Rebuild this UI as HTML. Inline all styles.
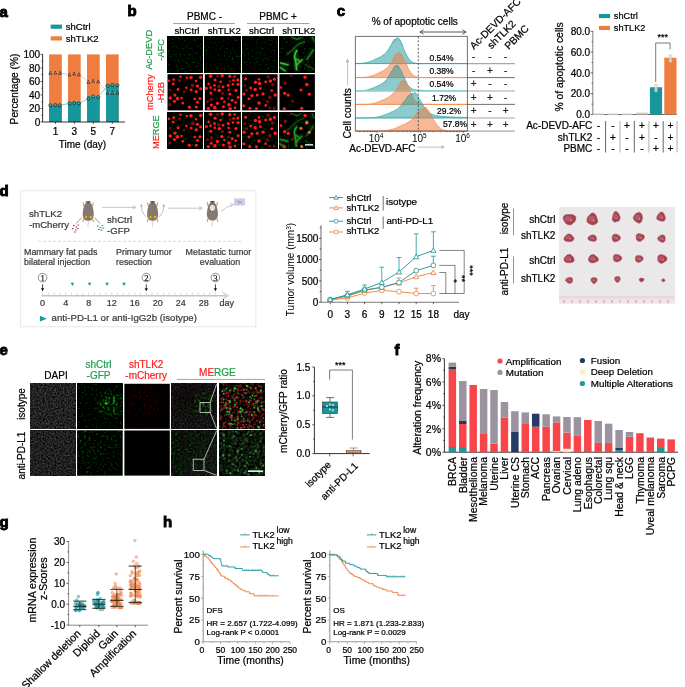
<!DOCTYPE html><html><head><meta charset="utf-8"><title>Figure</title><style>html,body{margin:0;padding:0;background:#fff;width:685px;height:687px;overflow:hidden}svg{display:block;font-family:"Liberation Sans",sans-serif;will-change:transform}</style></head><body><svg width="685" height="687" viewBox="0 0 685 687" font-family="Liberation Sans, sans-serif" font-size="10" fill="#000"><defs><filter id="gsp0" x="0" y="0" width="1" height="1" color-interpolation-filters="sRGB"><feTurbulence type="fractalNoise" baseFrequency="0.5" numOctaves="1" seed="3" result="n"/><feColorMatrix in="n" type="matrix" values="0 0 0 0 0  1.0 0 0 0 -0.56  0 0 0 0 0  0 0 0 0 1" result="sp"/></filter><filter id="gsp1" x="0" y="0" width="1" height="1" color-interpolation-filters="sRGB"><feTurbulence type="fractalNoise" baseFrequency="0.5" numOctaves="1" seed="4" result="n"/><feColorMatrix in="n" type="matrix" values="0 0 0 0 0  1.0 0 0 0 -0.56  0 0 0 0 0  0 0 0 0 1" result="sp"/></filter><filter id="gsp2" x="0" y="0" width="1" height="1" color-interpolation-filters="sRGB"><feTurbulence type="fractalNoise" baseFrequency="0.5" numOctaves="1" seed="5" result="n"/><feColorMatrix in="n" type="matrix" values="0 0 0 0 0  1.0 0 0 0 -0.56  0 0 0 0 0  0 0 0 0 1" result="sp"/></filter><filter id="gsp3" x="0" y="0" width="1" height="1" color-interpolation-filters="sRGB"><feTurbulence type="fractalNoise" baseFrequency="0.5" numOctaves="1" seed="6" result="n"/><feColorMatrix in="n" type="matrix" values="0 0 0 0 0  1.0 0 0 0 -0.56  0 0 0 0 0  0 0 0 0 1" result="sp"/></filter><filter id="gfib" x="0" y="0" width="1" height="1" color-interpolation-filters="sRGB"><feTurbulence type="turbulence" baseFrequency="0.09" numOctaves="2" seed="9" result="n"/><feColorMatrix in="n" type="matrix" values="0 0 0 0 0  0 0 0 0 0  0 0 0 0 0  -9 0 0 0 1.5" result="sp"/></filter><filter id="dapi" x="0" y="0" width="1" height="1" color-interpolation-filters="sRGB"><feTurbulence type="fractalNoise" baseFrequency="0.6" numOctaves="2" seed="4" result="n"/><feColorMatrix in="n" type="matrix" values="0.45 0 0 0 -0.09000000000000001  0.45 0 0 0 -0.09000000000000001  0.45 0 0 0 -0.09000000000000001  0 0 0 0 1" result="sp"/><feGaussianBlur in="sp" stdDeviation="0.35" result="sp"/></filter><filter id="dapi2" x="0" y="0" width="1" height="1" color-interpolation-filters="sRGB"><feTurbulence type="fractalNoise" baseFrequency="0.6" numOctaves="2" seed="5" result="n"/><feColorMatrix in="n" type="matrix" values="0.42 0 0 0 -0.084  0.42 0 0 0 -0.084  0.42 0 0 0 -0.084  0 0 0 0 1" result="sp"/><feGaussianBlur in="sp" stdDeviation="0.35" result="sp"/></filter><filter id="gfaint" x="0" y="0" width="1" height="1" color-interpolation-filters="sRGB"><feTurbulence type="fractalNoise" baseFrequency="0.5" numOctaves="1" seed="12" result="n"/><feColorMatrix in="n" type="matrix" values="0 0 0 0 0  1.4 0 0 0 -0.84  0 0 0 0 0  0 0 0 0 1" result="sp"/></filter><filter id="gclu" x="0" y="0" width="1" height="1" color-interpolation-filters="sRGB"><feTurbulence type="fractalNoise" baseFrequency="0.38" numOctaves="1" seed="13" result="n"/><feColorMatrix in="n" type="matrix" values="0 0 0 0 0  3.2 0 0 0 -1.4720000000000002  0 0 0 0 0  0 0 0 0 1" result="sp"/><feGaussianBlur in="sp" stdDeviation="0.3" result="sp"/></filter><filter id="gdiff" x="0" y="0" width="1" height="1" color-interpolation-filters="sRGB"><feTurbulence type="fractalNoise" baseFrequency="0.45" numOctaves="1" seed="14" result="n"/><feColorMatrix in="n" type="matrix" values="0 0 0 0 0  1.6 0 0 0 -0.8320000000000001  0 0 0 0 0  0 0 0 0 1" result="sp"/><feGaussianBlur in="sp" stdDeviation="0.3" result="sp"/></filter><filter id="rclu" x="0" y="0" width="1" height="1" color-interpolation-filters="sRGB"><feTurbulence type="fractalNoise" baseFrequency="0.5" numOctaves="2" seed="21" result="n"/><feColorMatrix in="n" type="matrix" values="2.6 0 0 0 -1.4300000000000002  0 0 0 0 0  0 0 0 0 0  0 0 0 0 1" result="sp"/><feGaussianBlur in="sp" stdDeviation="0.3" result="sp"/></filter><filter id="mgray" x="0" y="0" width="1" height="1" color-interpolation-filters="sRGB"><feTurbulence type="fractalNoise" baseFrequency="0.6" numOctaves="2" seed="31" result="n"/><feColorMatrix in="n" type="matrix" values="0.3 0 0 0 -0.072  0.3 0 0 0 -0.072  0.3 0 0 0 -0.072  0 0 0 0 1" result="sp"/><feGaussianBlur in="sp" stdDeviation="0.35" result="sp"/></filter><filter id="mgray2" x="0" y="0" width="1" height="1" color-interpolation-filters="sRGB"><feTurbulence type="fractalNoise" baseFrequency="0.6" numOctaves="2" seed="32" result="n"/><feColorMatrix in="n" type="matrix" values="0.3 0 0 0 -0.06  0.38 0 0 0 -0.07600000000000001  0.3 0 0 0 -0.06  0 0 0 0 1" result="sp"/><feGaussianBlur in="sp" stdDeviation="0.35" result="sp"/></filter><filter id="zm0" x="0" y="0" width="1" height="1" color-interpolation-filters="sRGB"><feTurbulence type="fractalNoise" baseFrequency="0.35" numOctaves="2" seed="41" result="n"/><feColorMatrix in="n" type="matrix" values="1.5 0 0 0 -0.66  0.25 0 0 0 -0.0875  0.25 0 0 0 -0.0875  0 0 0 0 1" result="sp"/><feGaussianBlur in="sp" stdDeviation="0.35" result="sp"/></filter><filter id="zm1" x="0" y="0" width="1" height="1" color-interpolation-filters="sRGB"><feTurbulence type="fractalNoise" baseFrequency="0.35" numOctaves="2" seed="42" result="n"/><feColorMatrix in="n" type="matrix" values="0.3 0 0 0 -0.108  0.5 0 0 0 -0.16  0.3 0 0 0 -0.108  0 0 0 0 1" result="sp"/><feGaussianBlur in="sp" stdDeviation="0.4" result="sp"/></filter><radialGradient id="rg_mk_g0" cx="0.72" cy="0.45" r="0.38"><stop offset="0" stop-color="#fff" stop-opacity="1"/><stop offset="1" stop-color="#fff" stop-opacity="0"/></radialGradient><mask id="mk_g0" maskContentUnits="objectBoundingBox"><rect width="1" height="1" fill="url(#rg_mk_g0)"/></mask><radialGradient id="rg_mk_g0m" cx="0.72" cy="0.45" r="0.38"><stop offset="0" stop-color="#fff" stop-opacity="1"/><stop offset="1" stop-color="#fff" stop-opacity="0"/></radialGradient><mask id="mk_g0m" maskContentUnits="objectBoundingBox"><rect width="1" height="1" fill="url(#rg_mk_g0m)"/></mask><radialGradient id="rg_mk_r0" cx="0.45" cy="0.4" r="0.6"><stop offset="0" stop-color="#fff" stop-opacity="0.9"/><stop offset="1" stop-color="#fff" stop-opacity="0.1"/></radialGradient><mask id="mk_r0" maskContentUnits="objectBoundingBox"><rect width="1" height="1" fill="url(#rg_mk_r0)"/></mask><radialGradient id="rg_mk_r0m" cx="0.35" cy="0.3" r="0.55"><stop offset="0" stop-color="#fff" stop-opacity="0.9"/><stop offset="1" stop-color="#fff" stop-opacity="0"/></radialGradient><mask id="mk_r0m" maskContentUnits="objectBoundingBox"><rect width="1" height="1" fill="url(#rg_mk_r0m)"/></mask><linearGradient id="lg_mk_g1" x1="0" y1="0.3" x2="1" y2="0.9"><stop offset="0" stop-color="#fff" stop-opacity="0.9"/><stop offset="1" stop-color="#fff" stop-opacity="0.35"/></linearGradient><mask id="mk_g1" maskContentUnits="objectBoundingBox"><rect width="1" height="1" fill="url(#lg_mk_g1)"/></mask><linearGradient id="lg_mk_g1m" x1="0" y1="0.3" x2="1" y2="0.8"><stop offset="0" stop-color="#fff" stop-opacity="0.9"/><stop offset="1" stop-color="#fff" stop-opacity="0.2"/></linearGradient><mask id="mk_g1m" maskContentUnits="objectBoundingBox"><rect width="1" height="1" fill="url(#lg_mk_g1m)"/></mask><filter id="fblur" x="-20%" y="-20%" width="140%" height="140%"><feGaussianBlur stdDeviation="0.55"/></filter><filter id="fblur2" x="-30%" y="-30%" width="160%" height="160%"><feGaussianBlur stdDeviation="1.2"/></filter><clipPath id="clipfib36"><rect x="279.4" y="36" width="35.5" height="36.2"/></clipPath><clipPath id="clipfib112"><rect x="279.1" y="112.4" width="35.5" height="36.2"/></clipPath></defs><rect width="685" height="687" fill="#fff"/><text x="-0.6" y="16.7" font-weight="bold" font-size="15" stroke="#000" stroke-width="0.9">a</text>
<rect x="50.7" y="24.6" width="11.3" height="4.2" fill="#17979b"/>
<text x="65.8" y="29.9" stroke="#000" stroke-width="0.22" font-size="9.5">shCtrl</text>
<rect x="50.7" y="36.3" width="11.3" height="4.2" fill="#ee7d3f"/>
<text x="65.8" y="41.8" stroke="#000" stroke-width="0.22" font-size="9.5">shTLK2</text>
<rect x="49.1" y="54.4" width="12.7" height="67.6" fill="#ee7d3f"/>
<rect x="49.1" y="104.7" width="12.7" height="17.3" fill="#17979b"/>
<rect x="68" y="54.4" width="12.7" height="67.6" fill="#ee7d3f"/>
<rect x="68" y="102.1" width="12.7" height="19.9" fill="#17979b"/>
<rect x="87" y="54.4" width="12.7" height="67.6" fill="#ee7d3f"/>
<rect x="87" y="96.3" width="12.7" height="25.7" fill="#17979b"/>
<rect x="106" y="54.4" width="12.7" height="67.6" fill="#ee7d3f"/>
<rect x="106" y="84.6" width="12.7" height="37.4" fill="#17979b"/>
<path d="M50.3 72.9 L55.3 72.6 L60 72.9 L69.5 74.6 L74.2 73.6 L78.9 74.4 L88.4 81.9 L93.1 80.8 L98.2 81.4 L107.5 92.8 L112.5 92.8 L117.4 92.8" fill="none" stroke="#f6b08e" stroke-width="0.7"/>
<path d="M50.3 105.3 L55.3 105.1 L59.8 105.3 L69.5 103.5 L74.2 103 L78.9 103.5 L88.4 98.6 L93.1 96.5 L98.2 97.1 L107.5 85.8 L112.5 84.9 L117.4 85.4" fill="none" stroke="#4dbdbd" stroke-width="0.7"/>
<path d="M48.8 74.3 L50.3 71.3 L51.8 74.3 Z" fill="none" stroke="#1a1a1a" stroke-width="0.6"/>
<path d="M53.8 74 L55.3 71 L56.8 74 Z" fill="none" stroke="#1a1a1a" stroke-width="0.6"/>
<path d="M58.5 74.3 L60 71.3 L61.5 74.3 Z" fill="none" stroke="#1a1a1a" stroke-width="0.6"/>
<path d="M68 76 L69.5 73 L71 76 Z" fill="none" stroke="#1a1a1a" stroke-width="0.6"/>
<path d="M72.7 75 L74.2 72 L75.7 75 Z" fill="none" stroke="#1a1a1a" stroke-width="0.6"/>
<path d="M77.4 75.8 L78.9 72.8 L80.4 75.8 Z" fill="none" stroke="#1a1a1a" stroke-width="0.6"/>
<path d="M86.9 83.3 L88.4 80.3 L89.9 83.3 Z" fill="none" stroke="#1a1a1a" stroke-width="0.6"/>
<path d="M91.6 82.2 L93.1 79.2 L94.6 82.2 Z" fill="none" stroke="#1a1a1a" stroke-width="0.6"/>
<path d="M96.7 82.8 L98.2 79.8 L99.7 82.8 Z" fill="none" stroke="#1a1a1a" stroke-width="0.6"/>
<path d="M106 94.2 L107.5 91.2 L109 94.2 Z" fill="none" stroke="#1a1a1a" stroke-width="0.6"/>
<path d="M111 94.2 L112.5 91.2 L114 94.2 Z" fill="none" stroke="#1a1a1a" stroke-width="0.6"/>
<path d="M115.9 94.2 L117.4 91.2 L118.9 94.2 Z" fill="none" stroke="#1a1a1a" stroke-width="0.6"/>
<circle cx="50.3" cy="105.3" r="1.6" fill="none" stroke="#1a1a1a" stroke-width="0.6"/>
<circle cx="55.3" cy="105.1" r="1.6" fill="none" stroke="#1a1a1a" stroke-width="0.6"/>
<circle cx="59.8" cy="105.3" r="1.6" fill="none" stroke="#1a1a1a" stroke-width="0.6"/>
<circle cx="69.5" cy="103.5" r="1.6" fill="none" stroke="#1a1a1a" stroke-width="0.6"/>
<circle cx="74.2" cy="103" r="1.6" fill="none" stroke="#1a1a1a" stroke-width="0.6"/>
<circle cx="78.9" cy="103.5" r="1.6" fill="none" stroke="#1a1a1a" stroke-width="0.6"/>
<circle cx="88.4" cy="98.6" r="1.6" fill="none" stroke="#1a1a1a" stroke-width="0.6"/>
<circle cx="93.1" cy="96.5" r="1.6" fill="none" stroke="#1a1a1a" stroke-width="0.6"/>
<circle cx="98.2" cy="97.1" r="1.6" fill="none" stroke="#1a1a1a" stroke-width="0.6"/>
<circle cx="107.5" cy="85.8" r="1.6" fill="none" stroke="#1a1a1a" stroke-width="0.6"/>
<circle cx="112.5" cy="84.9" r="1.6" fill="none" stroke="#1a1a1a" stroke-width="0.6"/>
<circle cx="117.4" cy="85.4" r="1.6" fill="none" stroke="#1a1a1a" stroke-width="0.6"/>
<line x1="42.6" y1="54.1" x2="42.6" y2="122" stroke="#000" stroke-width="0.8"/>
<line x1="42.6" y1="122" x2="125" y2="122" stroke="#000" stroke-width="0.8"/>
<line x1="40.4" y1="122" x2="42.6" y2="122" stroke="#000" stroke-width="0.6"/>
<text x="40.2" y="125.6" text-anchor="end" stroke="#000" stroke-width="0.22">0</text>
<line x1="41.3" y1="115.24" x2="42.6" y2="115.24" stroke="#000" stroke-width="0.6"/>
<line x1="40.4" y1="108.48" x2="42.6" y2="108.48" stroke="#000" stroke-width="0.6"/>
<text x="40.2" y="112.08" text-anchor="end" stroke="#000" stroke-width="0.22">20</text>
<line x1="41.3" y1="101.72" x2="42.6" y2="101.72" stroke="#000" stroke-width="0.6"/>
<line x1="40.4" y1="94.96" x2="42.6" y2="94.96" stroke="#000" stroke-width="0.6"/>
<text x="40.2" y="98.56" text-anchor="end" stroke="#000" stroke-width="0.22">40</text>
<line x1="41.3" y1="88.2" x2="42.6" y2="88.2" stroke="#000" stroke-width="0.6"/>
<line x1="40.4" y1="81.44" x2="42.6" y2="81.44" stroke="#000" stroke-width="0.6"/>
<text x="40.2" y="85.04" text-anchor="end" stroke="#000" stroke-width="0.22">60</text>
<line x1="41.3" y1="74.68" x2="42.6" y2="74.68" stroke="#000" stroke-width="0.6"/>
<line x1="40.4" y1="67.92" x2="42.6" y2="67.92" stroke="#000" stroke-width="0.6"/>
<text x="40.2" y="71.52" text-anchor="end" stroke="#000" stroke-width="0.22">80</text>
<line x1="41.3" y1="61.16" x2="42.6" y2="61.16" stroke="#000" stroke-width="0.6"/>
<line x1="40.4" y1="54.4" x2="42.6" y2="54.4" stroke="#000" stroke-width="0.6"/>
<text x="40.2" y="58" text-anchor="end" stroke="#000" stroke-width="0.22">100</text>
<line x1="55.45" y1="122" x2="55.45" y2="124" stroke="#000" stroke-width="0.6"/>
<text x="55.45" y="135.2" text-anchor="middle" stroke="#000" stroke-width="0.22">1</text>
<line x1="74.35" y1="122" x2="74.35" y2="124" stroke="#000" stroke-width="0.6"/>
<text x="74.35" y="135.2" text-anchor="middle" stroke="#000" stroke-width="0.22">3</text>
<line x1="93.35" y1="122" x2="93.35" y2="124" stroke="#000" stroke-width="0.6"/>
<text x="93.35" y="135.2" text-anchor="middle" stroke="#000" stroke-width="0.22">5</text>
<line x1="112.35" y1="122" x2="112.35" y2="124" stroke="#000" stroke-width="0.6"/>
<text x="112.35" y="135.2" text-anchor="middle" stroke="#000" stroke-width="0.22">7</text>
<text x="82.5" y="148" text-anchor="middle" stroke="#000" stroke-width="0.22">Time (day)</text>
<text x="17.9" y="89" text-anchor="middle" stroke="#000" stroke-width="0.22" font-size="10.2" transform="rotate(-90 17.9 89)">Percentage (%)</text>
<text x="127.6" y="16.3" font-weight="bold" font-size="15" stroke="#000" stroke-width="0.9">b</text>
<text x="204.5" y="20.2" text-anchor="middle" stroke="#000" stroke-width="0.22">PBMC -</text>
<line x1="173" y1="23.5" x2="235" y2="23.5" stroke="#8c8c8c" stroke-width="0.8"/>
<text x="278" y="20.2" text-anchor="middle" stroke="#000" stroke-width="0.22">PBMC +</text>
<line x1="247" y1="23.5" x2="309.5" y2="23.5" stroke="#8c8c8c" stroke-width="0.8"/>
<text x="186.95" y="33.9" text-anchor="middle" stroke="#000" stroke-width="0.22" font-size="9.6">shCtrl</text>
<text x="224.25" y="33.9" text-anchor="middle" stroke="#000" stroke-width="0.22" font-size="9.6">shTLK2</text>
<text x="261.55" y="33.9" text-anchor="middle" stroke="#000" stroke-width="0.22" font-size="9.6">shCtrl</text>
<text x="298.85" y="33.9" text-anchor="middle" stroke="#000" stroke-width="0.22" font-size="9.6">shTLK2</text>
<text x="152.3" y="49.7" text-anchor="middle" fill="#1e9e4e" stroke="#1e9e4e" stroke-width="0.22" font-size="9.3" transform="rotate(-90 152.3 49.7)">Ac-DEVD</text>
<text x="164.2" y="49.8" text-anchor="middle" fill="#1e9e4e" stroke="#1e9e4e" stroke-width="0.22" font-size="9.3" transform="rotate(-90 164.2 49.8)">-AFC</text>
<text x="153.4" y="92.2" text-anchor="middle" fill="#ff2020" stroke="#ff2020" stroke-width="0.22" font-size="9.3" transform="rotate(-90 153.4 92.2)">mCherry</text>
<text x="164" y="92.7" text-anchor="middle" fill="#ff2020" stroke="#ff2020" stroke-width="0.22" font-size="9.3" transform="rotate(-90 164 92.7)">-H2B</text>
<text x="158.8" y="132.1" text-anchor="middle" font-size="9.2" transform="rotate(-90 158.8 132.1)"><tspan fill="#ff2020" stroke="#ff2020" stroke-width="0.22">ME</tspan><tspan fill="#1e9e4e" stroke="#1e9e4e" stroke-width="0.22">RGE</tspan></text>
<rect x="167.5" y="36" width="35.5" height="36.2" fill="#000"/>
<rect x="167.5" y="36" width="35.5" height="36.2" fill="#000" filter="url(#gsp0)"/>
<rect x="167.5" y="74.2" width="35.5" height="36.2" fill="#000"/>
<circle cx="179.52" cy="80.71" r="1.64" fill="#7a0c0c"/>
<circle cx="186.42" cy="87.84" r="1.28" fill="#ff1c1c"/>
<circle cx="170.22" cy="90.1" r="1.29" fill="#7a0c0c"/>
<circle cx="182.8" cy="103.15" r="1.32" fill="#ff1c1c"/>
<circle cx="189.39" cy="107.16" r="1.6" fill="#ff1c1c"/>
<circle cx="200.73" cy="77.25" r="1.77" fill="#ff1c1c"/>
<circle cx="173.69" cy="79.61" r="1.44" fill="#ff1c1c"/>
<circle cx="174.87" cy="95.01" r="1.63" fill="#ff1c1c"/>
<circle cx="186.8" cy="77.78" r="1.29" fill="#ff1c1c"/>
<circle cx="191.11" cy="89.9" r="1.44" fill="#ff1c1c"/>
<circle cx="194.82" cy="98.91" r="1.4" fill="#ff1c1c"/>
<circle cx="192.71" cy="85.26" r="1.84" fill="#7a0c0c"/>
<circle cx="170.27" cy="97.88" r="1.71" fill="#ff1c1c"/>
<circle cx="197.45" cy="86.12" r="1.67" fill="#ff1c1c"/>
<circle cx="196.3" cy="107.06" r="1.53" fill="#ff1c1c"/>
<circle cx="181.54" cy="97.9" r="1.26" fill="#ff1c1c"/>
<circle cx="173.2" cy="83.92" r="1.48" fill="#ff1c1c"/>
<circle cx="178.05" cy="89.49" r="1.47" fill="#ff1c1c"/>
<circle cx="199.98" cy="98.62" r="1.56" fill="#ff1c1c"/>
<circle cx="190.98" cy="77.49" r="1.79" fill="#ff1c1c"/>
<circle cx="197.42" cy="102.19" r="1.49" fill="#ff1c1c"/>
<circle cx="169.01" cy="80.72" r="1.31" fill="#ff1c1c"/>
<circle cx="169.83" cy="104.73" r="1.62" fill="#7a0c0c"/>
<circle cx="184.14" cy="91.76" r="1.3" fill="#7a0c0c"/>
<circle cx="195.94" cy="81.06" r="1.26" fill="#ff1c1c"/>
<circle cx="174.43" cy="101.33" r="1.57" fill="#ff1c1c"/>
<circle cx="180.56" cy="76.66" r="1.27" fill="#ff1c1c"/>
<circle cx="177.42" cy="98.69" r="1.82" fill="#ff1c1c"/>
<circle cx="196.31" cy="91.62" r="1.64" fill="#ff1c1c"/>
<circle cx="200.58" cy="88.84" r="1.49" fill="#ff1c1c"/>
<rect x="167.5" y="112.4" width="35.5" height="36.2" fill="#000"/>
<rect x="167.5" y="112.4" width="35.5" height="36.2" fill="#000" filter="url(#gsp0)"/>
<circle cx="179.52" cy="118.91" r="1.64" fill="#7a0c0c"/>
<circle cx="186.42" cy="126.04" r="1.28" fill="#ff1c1c"/>
<circle cx="170.22" cy="128.3" r="1.29" fill="#7a0c0c"/>
<circle cx="182.8" cy="141.35" r="1.32" fill="#ff1c1c"/>
<circle cx="189.39" cy="145.36" r="1.6" fill="#ff1c1c"/>
<circle cx="200.73" cy="115.45" r="1.77" fill="#ff1c1c"/>
<circle cx="173.69" cy="117.81" r="1.44" fill="#ff1c1c"/>
<circle cx="174.87" cy="133.21" r="1.63" fill="#ff1c1c"/>
<circle cx="186.8" cy="115.98" r="1.29" fill="#ff1c1c"/>
<circle cx="191.11" cy="128.1" r="1.44" fill="#ff1c1c"/>
<circle cx="194.82" cy="137.11" r="1.4" fill="#ff1c1c"/>
<circle cx="192.71" cy="123.46" r="1.84" fill="#7a0c0c"/>
<circle cx="170.27" cy="136.08" r="1.71" fill="#ff1c1c"/>
<circle cx="197.45" cy="124.32" r="1.67" fill="#ff1c1c"/>
<circle cx="196.3" cy="145.26" r="1.53" fill="#ff1c1c"/>
<circle cx="181.54" cy="136.1" r="1.26" fill="#ff1c1c"/>
<circle cx="173.2" cy="122.12" r="1.48" fill="#ff1c1c"/>
<circle cx="178.05" cy="127.69" r="1.47" fill="#ff1c1c"/>
<circle cx="199.98" cy="136.82" r="1.56" fill="#ff1c1c"/>
<circle cx="190.98" cy="115.69" r="1.79" fill="#ff1c1c"/>
<circle cx="197.42" cy="140.39" r="1.49" fill="#ff1c1c"/>
<circle cx="169.01" cy="118.92" r="1.31" fill="#ff1c1c"/>
<circle cx="169.83" cy="142.93" r="1.62" fill="#7a0c0c"/>
<circle cx="184.14" cy="129.96" r="1.3" fill="#7a0c0c"/>
<circle cx="195.94" cy="119.26" r="1.26" fill="#ff1c1c"/>
<circle cx="174.43" cy="139.53" r="1.57" fill="#ff1c1c"/>
<circle cx="180.56" cy="114.86" r="1.27" fill="#ff1c1c"/>
<circle cx="177.42" cy="136.89" r="1.82" fill="#ff1c1c"/>
<circle cx="196.31" cy="129.82" r="1.64" fill="#ff1c1c"/>
<circle cx="200.58" cy="127.04" r="1.49" fill="#ff1c1c"/>
<rect x="204.8" y="36" width="35.5" height="36.2" fill="#000"/>
<rect x="204.8" y="36" width="35.5" height="36.2" fill="#000" filter="url(#gsp1)"/>
<rect x="204.8" y="74.2" width="35.5" height="36.2" fill="#000"/>
<circle cx="229.86" cy="81.34" r="1.33" fill="#7a0c0c"/>
<circle cx="235.71" cy="102.48" r="1.34" fill="#ff1c1c"/>
<circle cx="238.16" cy="97.52" r="1.46" fill="#ff1c1c"/>
<circle cx="210.56" cy="76.17" r="1.83" fill="#ff1c1c"/>
<circle cx="223.41" cy="106.7" r="1.51" fill="#ff1c1c"/>
<circle cx="214.48" cy="85.43" r="1.39" fill="#ff1c1c"/>
<circle cx="214.73" cy="89.61" r="1.33" fill="#ff1c1c"/>
<circle cx="222.6" cy="93.36" r="1.56" fill="#7a0c0c"/>
<circle cx="220.6" cy="81.78" r="1.25" fill="#ff1c1c"/>
<circle cx="229.87" cy="94.17" r="1.45" fill="#ff1c1c"/>
<circle cx="224.35" cy="101.74" r="1.31" fill="#ff1c1c"/>
<circle cx="235.96" cy="90.42" r="1.62" fill="#ff1c1c"/>
<circle cx="229.02" cy="104.8" r="1.82" fill="#ff1c1c"/>
<circle cx="233.6" cy="80.25" r="1.32" fill="#ff1c1c"/>
<circle cx="208.66" cy="83.69" r="1.29" fill="#ff1c1c"/>
<circle cx="211.32" cy="99.48" r="1.65" fill="#7a0c0c"/>
<circle cx="234.99" cy="107.82" r="1.38" fill="#ff1c1c"/>
<circle cx="223.06" cy="86.96" r="1.37" fill="#ff1c1c"/>
<circle cx="229.77" cy="76.35" r="1.58" fill="#ff1c1c"/>
<circle cx="208.39" cy="108.4" r="1.72" fill="#ff1c1c"/>
<circle cx="207.59" cy="101.56" r="1.41" fill="#7a0c0c"/>
<circle cx="232.92" cy="84.29" r="1.34" fill="#ff1c1c"/>
<circle cx="228.67" cy="89.82" r="1.29" fill="#ff1c1c"/>
<circle cx="215.01" cy="79.99" r="1.57" fill="#ff1c1c"/>
<circle cx="217.58" cy="76.3" r="1.4" fill="#7a0c0c"/>
<circle cx="217.44" cy="103.33" r="1.67" fill="#ff1c1c"/>
<circle cx="214.86" cy="107.63" r="1.83" fill="#ff1c1c"/>
<circle cx="206.33" cy="88.37" r="1.53" fill="#ff1c1c"/>
<circle cx="218.96" cy="86.53" r="1.84" fill="#7a0c0c"/>
<circle cx="210.83" cy="93.09" r="1.55" fill="#ff1c1c"/>
<circle cx="228.49" cy="98.72" r="1.39" fill="#7a0c0c"/>
<circle cx="210.63" cy="87.68" r="1.31" fill="#ff1c1c"/>
<circle cx="222.2" cy="75.81" r="1.73" fill="#ff1c1c"/>
<circle cx="221.87" cy="98.4" r="1.71" fill="#ff1c1c"/>
<circle cx="228.26" cy="85.36" r="1.56" fill="#ff1c1c"/>
<circle cx="238.03" cy="84.34" r="1.64" fill="#ff1c1c"/>
<circle cx="237.75" cy="79.88" r="1.55" fill="#ff1c1c"/>
<circle cx="219.29" cy="90.5" r="1.82" fill="#ff1c1c"/>
<circle cx="234.67" cy="76.42" r="1.27" fill="#ff1c1c"/>
<circle cx="232.2" cy="100.24" r="1.55" fill="#ff1c1c"/>
<circle cx="230.11" cy="108.82" r="1.81" fill="#ff1c1c"/>
<circle cx="211.28" cy="105.05" r="1.6" fill="#ff1c1c"/>
<rect x="204.8" y="112.4" width="35.5" height="36.2" fill="#000"/>
<rect x="204.8" y="112.4" width="35.5" height="36.2" fill="#000" filter="url(#gsp1)"/>
<circle cx="229.86" cy="119.54" r="1.33" fill="#7a0c0c"/>
<circle cx="235.71" cy="140.68" r="1.34" fill="#ff1c1c"/>
<circle cx="238.16" cy="135.72" r="1.46" fill="#ff1c1c"/>
<circle cx="210.56" cy="114.37" r="1.83" fill="#ff1c1c"/>
<circle cx="223.41" cy="144.9" r="1.51" fill="#ff1c1c"/>
<circle cx="214.48" cy="123.63" r="1.39" fill="#ff1c1c"/>
<circle cx="214.73" cy="127.81" r="1.33" fill="#ff1c1c"/>
<circle cx="222.6" cy="131.56" r="1.56" fill="#7a0c0c"/>
<circle cx="220.6" cy="119.98" r="1.25" fill="#ff1c1c"/>
<circle cx="229.87" cy="132.37" r="1.45" fill="#ff1c1c"/>
<circle cx="224.35" cy="139.94" r="1.31" fill="#ff1c1c"/>
<circle cx="235.96" cy="128.62" r="1.62" fill="#ff1c1c"/>
<circle cx="229.02" cy="143" r="1.82" fill="#ff1c1c"/>
<circle cx="233.6" cy="118.45" r="1.32" fill="#ff1c1c"/>
<circle cx="208.66" cy="121.89" r="1.29" fill="#ff1c1c"/>
<circle cx="211.32" cy="137.68" r="1.65" fill="#7a0c0c"/>
<circle cx="234.99" cy="146.02" r="1.38" fill="#ff1c1c"/>
<circle cx="223.06" cy="125.16" r="1.37" fill="#ff1c1c"/>
<circle cx="229.77" cy="114.55" r="1.58" fill="#ff1c1c"/>
<circle cx="208.39" cy="146.6" r="1.72" fill="#ff1c1c"/>
<circle cx="207.59" cy="139.76" r="1.41" fill="#7a0c0c"/>
<circle cx="232.92" cy="122.49" r="1.34" fill="#ff1c1c"/>
<circle cx="228.67" cy="128.02" r="1.29" fill="#ff1c1c"/>
<circle cx="215.01" cy="118.19" r="1.57" fill="#ff1c1c"/>
<circle cx="217.58" cy="114.5" r="1.4" fill="#7a0c0c"/>
<circle cx="217.44" cy="141.53" r="1.67" fill="#ff1c1c"/>
<circle cx="214.86" cy="145.83" r="1.83" fill="#ff1c1c"/>
<circle cx="206.33" cy="126.57" r="1.53" fill="#ff1c1c"/>
<circle cx="218.96" cy="124.73" r="1.84" fill="#7a0c0c"/>
<circle cx="210.83" cy="131.29" r="1.55" fill="#ff1c1c"/>
<circle cx="228.49" cy="136.92" r="1.39" fill="#7a0c0c"/>
<circle cx="210.63" cy="125.88" r="1.31" fill="#ff1c1c"/>
<circle cx="222.2" cy="114.01" r="1.73" fill="#ff1c1c"/>
<circle cx="221.87" cy="136.6" r="1.71" fill="#ff1c1c"/>
<circle cx="228.26" cy="123.56" r="1.56" fill="#ff1c1c"/>
<circle cx="238.03" cy="122.54" r="1.64" fill="#ff1c1c"/>
<circle cx="237.75" cy="118.08" r="1.55" fill="#ff1c1c"/>
<circle cx="219.29" cy="128.7" r="1.82" fill="#ff1c1c"/>
<circle cx="234.67" cy="114.62" r="1.27" fill="#ff1c1c"/>
<circle cx="232.2" cy="138.44" r="1.55" fill="#ff1c1c"/>
<circle cx="230.11" cy="147.02" r="1.81" fill="#ff1c1c"/>
<circle cx="211.28" cy="143.25" r="1.6" fill="#ff1c1c"/>
<rect x="242.1" y="36" width="35.5" height="36.2" fill="#000"/>
<rect x="242.1" y="36" width="35.5" height="36.2" fill="#000" filter="url(#gsp2)"/>
<rect x="242.1" y="74.2" width="35.5" height="36.2" fill="#000"/>
<circle cx="256.47" cy="108.65" r="1.55" fill="#ff1c1c"/>
<circle cx="269.87" cy="97.39" r="1.84" fill="#7a0c0c"/>
<circle cx="259.03" cy="102.89" r="1.75" fill="#ff1c1c"/>
<circle cx="244.91" cy="85.45" r="1.32" fill="#7a0c0c"/>
<circle cx="275.22" cy="95.06" r="1.81" fill="#ff1c1c"/>
<circle cx="271.75" cy="90.61" r="1.41" fill="#ff1c1c"/>
<circle cx="274.34" cy="79.21" r="1.61" fill="#ff1c1c"/>
<circle cx="250.67" cy="87.94" r="1.33" fill="#ff1c1c"/>
<circle cx="251.88" cy="95.6" r="1.64" fill="#ff1c1c"/>
<circle cx="265.65" cy="81.85" r="1.44" fill="#ff1c1c"/>
<circle cx="245.66" cy="79.07" r="1.49" fill="#ff1c1c"/>
<circle cx="248.92" cy="98.79" r="1.5" fill="#ff1c1c"/>
<circle cx="255.21" cy="89.53" r="1.77" fill="#ff1c1c"/>
<circle cx="255.42" cy="82.25" r="1.69" fill="#ff1c1c"/>
<circle cx="243.79" cy="105.63" r="1.5" fill="#ff1c1c"/>
<circle cx="244.08" cy="94.01" r="1.63" fill="#ff1c1c"/>
<circle cx="269.76" cy="107.8" r="1.37" fill="#7a0c0c"/>
<circle cx="274.25" cy="108.09" r="1.54" fill="#7a0c0c"/>
<circle cx="270.4" cy="81.02" r="1.72" fill="#ff1c1c"/>
<circle cx="260.43" cy="88.43" r="1.32" fill="#ff1c1c"/>
<circle cx="268.22" cy="76.97" r="1.75" fill="#7a0c0c"/>
<circle cx="263.08" cy="93.96" r="1.63" fill="#ff1c1c"/>
<circle cx="257.25" cy="95.04" r="1.51" fill="#ff1c1c"/>
<circle cx="259.51" cy="83.51" r="1.71" fill="#ff1c1c"/>
<circle cx="258.98" cy="79.25" r="1.33" fill="#ff1c1c"/>
<circle cx="246.58" cy="90.37" r="1.56" fill="#7a0c0c"/>
<circle cx="267.44" cy="101.52" r="1.56" fill="#7a0c0c"/>
<circle cx="249.9" cy="108.29" r="1.55" fill="#ff1c1c"/>
<circle cx="272.74" cy="84.83" r="1.74" fill="#7a0c0c"/>
<circle cx="265.69" cy="105.43" r="1.35" fill="#ff1c1c"/>
<rect x="242.1" y="112.4" width="35.5" height="36.2" fill="#000"/>
<rect x="242.1" y="112.4" width="35.5" height="36.2" fill="#000" filter="url(#gsp2)"/>
<circle cx="256.47" cy="146.85" r="1.55" fill="#ff1c1c"/>
<circle cx="269.87" cy="135.59" r="1.84" fill="#7a0c0c"/>
<circle cx="259.03" cy="141.09" r="1.75" fill="#ff1c1c"/>
<circle cx="244.91" cy="123.65" r="1.32" fill="#7a0c0c"/>
<circle cx="275.22" cy="133.26" r="1.81" fill="#ff1c1c"/>
<circle cx="271.75" cy="128.81" r="1.41" fill="#ff1c1c"/>
<circle cx="274.34" cy="117.41" r="1.61" fill="#ff1c1c"/>
<circle cx="250.67" cy="126.14" r="1.33" fill="#ff1c1c"/>
<circle cx="251.88" cy="133.8" r="1.64" fill="#ff1c1c"/>
<circle cx="265.65" cy="120.05" r="1.44" fill="#ff1c1c"/>
<circle cx="245.66" cy="117.27" r="1.49" fill="#ff1c1c"/>
<circle cx="248.92" cy="136.99" r="1.5" fill="#ff1c1c"/>
<circle cx="255.21" cy="127.73" r="1.77" fill="#ff1c1c"/>
<circle cx="255.42" cy="120.45" r="1.69" fill="#ff1c1c"/>
<circle cx="243.79" cy="143.83" r="1.5" fill="#ff1c1c"/>
<circle cx="244.08" cy="132.21" r="1.63" fill="#ff1c1c"/>
<circle cx="269.76" cy="146" r="1.37" fill="#7a0c0c"/>
<circle cx="274.25" cy="146.29" r="1.54" fill="#7a0c0c"/>
<circle cx="270.4" cy="119.22" r="1.72" fill="#ff1c1c"/>
<circle cx="260.43" cy="126.63" r="1.32" fill="#ff1c1c"/>
<circle cx="268.22" cy="115.17" r="1.75" fill="#7a0c0c"/>
<circle cx="263.08" cy="132.16" r="1.63" fill="#ff1c1c"/>
<circle cx="257.25" cy="133.24" r="1.51" fill="#ff1c1c"/>
<circle cx="259.51" cy="121.71" r="1.71" fill="#ff1c1c"/>
<circle cx="258.98" cy="117.45" r="1.33" fill="#ff1c1c"/>
<circle cx="246.58" cy="128.57" r="1.56" fill="#7a0c0c"/>
<circle cx="267.44" cy="139.72" r="1.56" fill="#7a0c0c"/>
<circle cx="249.9" cy="146.49" r="1.55" fill="#ff1c1c"/>
<circle cx="272.74" cy="123.03" r="1.74" fill="#7a0c0c"/>
<circle cx="265.69" cy="143.63" r="1.35" fill="#ff1c1c"/>
<rect x="279.4" y="36" width="35.5" height="36.2" fill="#000"/>
<rect x="279.4" y="36" width="35.5" height="36.2" fill="#000" filter="url(#gsp3)"/>
<g clip-path="url(#clipfib36)" opacity="1.0"><g filter="url(#fblur)">
<path d="M296.48 69.6 L296.2 64.47 L295.35 59.35 L294.49 56.5 L295.35 53.08 L297.05 50.52" stroke="#33cc33" stroke-width="3.9" fill="none" stroke-linecap="round" stroke-linejoin="round" opacity="0.35" filter="url(#fblur2)"/>
<path d="M296.48 69.6 L296.2 64.47 L295.35 59.35 L294.49 56.5 L295.35 53.08 L297.05 50.52" stroke="#33cc33" stroke-width="1.5" fill="none" stroke-linecap="round" stroke-linejoin="round"/>
<path d="M296.48 65.61 L299.33 62.2 L302.18 59.92" stroke="#2cb82c" stroke-width="3.64" fill="none" stroke-linecap="round" stroke-linejoin="round" opacity="0.35" filter="url(#fblur2)"/>
<path d="M296.48 65.61 L299.33 62.2 L302.18 59.92" stroke="#2cb82c" stroke-width="1.4" fill="none" stroke-linecap="round" stroke-linejoin="round"/>
<path d="M280.54 63.05 L283.96 63.9 L287.94 65.04" stroke="#2cb82c" stroke-width="4.42" fill="none" stroke-linecap="round" stroke-linejoin="round" opacity="0.35" filter="url(#fblur2)"/>
<path d="M280.54 63.05 L283.96 63.9 L287.94 65.04" stroke="#2cb82c" stroke-width="1.7" fill="none" stroke-linecap="round" stroke-linejoin="round"/>
<path d="M279.97 67.32 L282.25 69.03 L285.09 70.74" stroke="#28a828" stroke-width="4.16" fill="none" stroke-linecap="round" stroke-linejoin="round" opacity="0.35" filter="url(#fblur2)"/>
<path d="M279.97 67.32 L282.25 69.03 L285.09 70.74" stroke="#28a828" stroke-width="1.6" fill="none" stroke-linecap="round" stroke-linejoin="round"/>
<path d="M287.37 54.22 L291.36 50.81 L297.05 45.11 L304.46 41.69" stroke="#1b7a1b" stroke-width="2.6" fill="none" stroke-linecap="round" stroke-linejoin="round" opacity="0.35" filter="url(#fblur2)"/>
<path d="M287.37 54.22 L291.36 50.81 L297.05 45.11 L304.46 41.69" stroke="#1b7a1b" stroke-width="1.0" fill="none" stroke-linecap="round" stroke-linejoin="round"/>
<path d="M306.73 59.35 L310.15 54.79 L313.57 49.67" stroke="#1f8a1f" stroke-width="3.12" fill="none" stroke-linecap="round" stroke-linejoin="round" opacity="0.35" filter="url(#fblur2)"/>
<path d="M306.73 59.35 L310.15 54.79 L313.57 49.67" stroke="#1f8a1f" stroke-width="1.2" fill="none" stroke-linecap="round" stroke-linejoin="round"/>
<path d="M291.93 37.14 L297.05 39.42 L301.04 37.71" stroke="#1a801a" stroke-width="2.86" fill="none" stroke-linecap="round" stroke-linejoin="round" opacity="0.35" filter="url(#fblur2)"/>
<path d="M291.93 37.14 L297.05 39.42 L301.04 37.71" stroke="#1a801a" stroke-width="1.1" fill="none" stroke-linecap="round" stroke-linejoin="round"/>
<path d="M312.43 37.14 L314.14 41.13" stroke="#1a801a" stroke-width="3.12" fill="none" stroke-linecap="round" stroke-linejoin="round" opacity="0.35" filter="url(#fblur2)"/>
<path d="M312.43 37.14 L314.14 41.13" stroke="#1a801a" stroke-width="1.2" fill="none" stroke-linecap="round" stroke-linejoin="round"/>
<path d="M305.03 64.47 L310.15 67.32 L314.14 69.6" stroke="#145f14" stroke-width="2.6" fill="none" stroke-linecap="round" stroke-linejoin="round" opacity="0.35" filter="url(#fblur2)"/>
<path d="M305.03 64.47 L310.15 67.32 L314.14 69.6" stroke="#145f14" stroke-width="1.0" fill="none" stroke-linecap="round" stroke-linejoin="round"/>
<path d="M295.35 58.78 L298.19 59.92 L299.9 61.63" stroke="#2cb82c" stroke-width="3.12" fill="none" stroke-linecap="round" stroke-linejoin="round" opacity="0.35" filter="url(#fblur2)"/>
<path d="M295.35 58.78 L298.19 59.92 L299.9 61.63" stroke="#2cb82c" stroke-width="1.2" fill="none" stroke-linecap="round" stroke-linejoin="round"/>
</g></g>
<rect x="279.4" y="74.2" width="35.5" height="36.2" fill="#000"/>
<circle cx="284.64" cy="93.32" r="1.63" fill="#ff1c1c"/>
<circle cx="309.27" cy="94.13" r="1.6" fill="#ff1c1c"/>
<circle cx="284.3" cy="108.67" r="1.63" fill="#ff1c1c"/>
<circle cx="306.82" cy="84.49" r="1.84" fill="#ff1c1c"/>
<circle cx="292.61" cy="101.09" r="1.52" fill="#7a0c0c"/>
<circle cx="305.07" cy="77.3" r="1.74" fill="#ff1c1c"/>
<circle cx="301.68" cy="108.37" r="1.6" fill="#ff1c1c"/>
<circle cx="291.06" cy="75.76" r="1.27" fill="#7a0c0c"/>
<circle cx="300.92" cy="90.05" r="1.56" fill="#ff1c1c"/>
<circle cx="285.19" cy="83.25" r="1.64" fill="#7a0c0c"/>
<circle cx="280.99" cy="87.48" r="1.31" fill="#ff1c1c"/>
<circle cx="288.19" cy="95.08" r="1.6" fill="#ff1c1c"/>
<rect x="279.4" y="112.4" width="35.5" height="36.2" fill="#000"/>
<rect x="279.4" y="112.4" width="35.5" height="36.2" fill="#000" filter="url(#gsp3)"/>
<g clip-path="url(#clipfib112)" opacity="0.75"><g filter="url(#fblur)">
<path d="M296.18 146 L295.9 140.87 L295.05 135.75 L294.19 132.9 L295.05 129.48 L296.75 126.92" stroke="#33cc33" stroke-width="3.9" fill="none" stroke-linecap="round" stroke-linejoin="round" opacity="0.35" filter="url(#fblur2)"/>
<path d="M296.18 146 L295.9 140.87 L295.05 135.75 L294.19 132.9 L295.05 129.48 L296.75 126.92" stroke="#33cc33" stroke-width="1.5" fill="none" stroke-linecap="round" stroke-linejoin="round"/>
<path d="M296.18 142.01 L299.03 138.6 L301.88 136.32" stroke="#2cb82c" stroke-width="3.64" fill="none" stroke-linecap="round" stroke-linejoin="round" opacity="0.35" filter="url(#fblur2)"/>
<path d="M296.18 142.01 L299.03 138.6 L301.88 136.32" stroke="#2cb82c" stroke-width="1.4" fill="none" stroke-linecap="round" stroke-linejoin="round"/>
<path d="M280.24 139.45 L283.66 140.3 L287.64 141.44" stroke="#2cb82c" stroke-width="4.42" fill="none" stroke-linecap="round" stroke-linejoin="round" opacity="0.35" filter="url(#fblur2)"/>
<path d="M280.24 139.45 L283.66 140.3 L287.64 141.44" stroke="#2cb82c" stroke-width="1.7" fill="none" stroke-linecap="round" stroke-linejoin="round"/>
<path d="M279.67 143.72 L281.95 145.43 L284.79 147.14" stroke="#28a828" stroke-width="4.16" fill="none" stroke-linecap="round" stroke-linejoin="round" opacity="0.35" filter="url(#fblur2)"/>
<path d="M279.67 143.72 L281.95 145.43 L284.79 147.14" stroke="#28a828" stroke-width="1.6" fill="none" stroke-linecap="round" stroke-linejoin="round"/>
<path d="M287.07 130.62 L291.06 127.21 L296.75 121.51 L304.16 118.09" stroke="#1b7a1b" stroke-width="2.6" fill="none" stroke-linecap="round" stroke-linejoin="round" opacity="0.35" filter="url(#fblur2)"/>
<path d="M287.07 130.62 L291.06 127.21 L296.75 121.51 L304.16 118.09" stroke="#1b7a1b" stroke-width="1.0" fill="none" stroke-linecap="round" stroke-linejoin="round"/>
<path d="M306.43 135.75 L309.85 131.19 L313.27 126.07" stroke="#1f8a1f" stroke-width="3.12" fill="none" stroke-linecap="round" stroke-linejoin="round" opacity="0.35" filter="url(#fblur2)"/>
<path d="M306.43 135.75 L309.85 131.19 L313.27 126.07" stroke="#1f8a1f" stroke-width="1.2" fill="none" stroke-linecap="round" stroke-linejoin="round"/>
<path d="M291.63 113.54 L296.75 115.82 L300.74 114.11" stroke="#1a801a" stroke-width="2.86" fill="none" stroke-linecap="round" stroke-linejoin="round" opacity="0.35" filter="url(#fblur2)"/>
<path d="M291.63 113.54 L296.75 115.82 L300.74 114.11" stroke="#1a801a" stroke-width="1.1" fill="none" stroke-linecap="round" stroke-linejoin="round"/>
<path d="M312.13 113.54 L313.84 117.53" stroke="#1a801a" stroke-width="3.12" fill="none" stroke-linecap="round" stroke-linejoin="round" opacity="0.35" filter="url(#fblur2)"/>
<path d="M312.13 113.54 L313.84 117.53" stroke="#1a801a" stroke-width="1.2" fill="none" stroke-linecap="round" stroke-linejoin="round"/>
<path d="M304.73 140.87 L309.85 143.72 L313.84 146" stroke="#145f14" stroke-width="2.6" fill="none" stroke-linecap="round" stroke-linejoin="round" opacity="0.35" filter="url(#fblur2)"/>
<path d="M304.73 140.87 L309.85 143.72 L313.84 146" stroke="#145f14" stroke-width="1.0" fill="none" stroke-linecap="round" stroke-linejoin="round"/>
<path d="M295.05 135.18 L297.89 136.32 L299.6 138.03" stroke="#2cb82c" stroke-width="3.12" fill="none" stroke-linecap="round" stroke-linejoin="round" opacity="0.35" filter="url(#fblur2)"/>
<path d="M295.05 135.18 L297.89 136.32 L299.6 138.03" stroke="#2cb82c" stroke-width="1.2" fill="none" stroke-linecap="round" stroke-linejoin="round"/>
</g></g>
<circle cx="284.64" cy="131.52" r="1.63" fill="#ff1c1c"/>
<circle cx="309.27" cy="132.33" r="1.6" fill="#e07020"/>
<circle cx="284.3" cy="146.87" r="1.63" fill="#ff1c1c"/>
<circle cx="306.82" cy="122.69" r="1.84" fill="#e07020"/>
<circle cx="292.61" cy="139.29" r="1.52" fill="#7a0c0c"/>
<circle cx="305.07" cy="115.5" r="1.74" fill="#ff1c1c"/>
<circle cx="301.68" cy="146.57" r="1.6" fill="#e07020"/>
<circle cx="291.06" cy="113.96" r="1.27" fill="#7a0c0c"/>
<circle cx="300.92" cy="128.25" r="1.56" fill="#e07020"/>
<circle cx="285.19" cy="121.45" r="1.64" fill="#7a0c0c"/>
<circle cx="280.99" cy="125.68" r="1.31" fill="#ff1c1c"/>
<circle cx="288.19" cy="133.28" r="1.6" fill="#ff1c1c"/>
<rect x="305" y="144.2" width="8" height="1.3" fill="#fff"/>
<text x="336.8" y="16.3" font-weight="bold" font-size="15" stroke="#000" stroke-width="0.9">c</text>
<text x="414.8" y="25.2" text-anchor="middle" stroke="#000" stroke-width="0.22">% of apoptotic cells</text>
<line x1="421" y1="32" x2="465" y2="32" stroke="#3a2a2a" stroke-width="0.8"/>
<path d="M423.5 29.8 L419.8 32 L423.5 34.2" fill="none" stroke="#3a2a2a" stroke-width="0.8"/>
<path d="M462.5 29.8 L466.2 32 L462.5 34.2" fill="none" stroke="#3a2a2a" stroke-width="0.8"/>
<path d="M355.4 63.55 L356 63.54 L356.6 63.53 L357.2 63.52 L357.8 63.5 L358.4 63.48 L359 63.46 L359.6 63.43 L360.2 63.4 L360.8 63.35 L361.4 63.32 L362 63.26 L362.6 63.21 L363.2 63.15 L363.8 63.04 L364.4 62.97 L365 62.86 L365.6 62.73 L366.2 62.65 L366.8 62.55 L367.4 62.32 L368 62.18 L368.6 61.99 L369.2 61.81 L369.8 61.54 L370.4 61.44 L371 61.12 L371.6 60.98 L372.2 60.68 L372.8 60.38 L373.4 60.23 L374 60.04 L374.6 59.61 L375.2 59.21 L375.8 58.97 L376.4 58.74 L377 58.34 L377.6 58.28 L378.2 57.99 L378.8 57.61 L379.4 56.99 L380 57.08 L380.6 56.82 L381.2 56.51 L381.8 56.22 L382.4 55.68 L383 55.04 L383.6 54.39 L384.2 54.37 L384.8 53.84 L385.4 53.38 L386 52.76 L386.6 51.56 L387.2 51.1 L387.8 50.69 L388.4 50.08 L389 48.21 L389.6 47.36 L390.2 46.15 L390.8 46.17 L391.4 44.61 L392 42.86 L392.6 42.53 L393.2 40.84 L393.8 41.72 L394.4 39.11 L395 40.66 L395.6 39.31 L396.2 39.95 L396.8 37.83 L397.4 38.14 L398 37.62 L398.6 38.43 L399.2 38.68 L399.8 40.42 L400.4 40.35 L401 41.99 L401.6 44.02 L402.2 44.12 L402.8 46.58 L403.4 48.26 L404 49.81 L404.6 50.66 L405.2 52.35 L405.8 52.88 L406.4 54.18 L407 55.99 L407.6 57.12 L408.2 57.82 L408.8 58.89 L409.4 59.5 L410 60.1 L410.6 60.88 L411.2 61.34 L411.8 61.69 L412.4 62.14 L413 62.45 L413.6 62.65 L414.2 62.86 L414.8 63.03 L415.4 63.17 L416 63.28 L416.6 63.36 L417.2 63.42 L417.8 63.47 L418.4 63.51 L419 63.53 L419.6 63.55 L420.2 63.56 L420.8 63.57 L421.4 63.58 L422 63.59 L422.6 63.59 L423.2 63.59 L423.8 63.6 L424.4 63.6 L425 63.6 L425.6 63.6 L426.2 63.6 L426.8 63.6 L427.4 63.6 L428 63.6 L428.6 63.6 L429.2 63.6 L429.8 63.6 L430.4 63.6 L431 63.6 L431.6 63.6 L432.2 63.6 L432.8 63.6 L433.4 63.6 L434 63.6 L434.6 63.6 L435.2 63.6 L435.8 63.6 L436.4 63.6 L437 63.6 L437.6 63.6 L438.2 63.6 L438.8 63.6 L439.4 63.6 L440 63.6 L440.6 63.6 L441.2 63.6 L441.8 63.6 L442.4 63.6 L443 63.6 L443.6 63.6 L444.2 63.6 L444.8 63.6 L445.4 63.6 L446 63.6 L446.6 63.6 L447.2 63.6 L447.8 63.6 L448.4 63.6 L449 63.6 L449.6 63.6 L450.2 63.6 L450.8 63.6 L451.4 63.6 L452 63.6 L452.6 63.6 L453.2 63.6 L453.8 63.6 L454.4 63.6 L455 63.6 L455.6 63.6 L456.2 63.6 L456.8 63.6 L457.4 63.6 L458 63.6 L458.6 63.6 L459.2 63.6 L459.8 63.6 L460.4 63.6 L461 63.6 L461.6 63.6 L462.2 63.6 L462.8 63.6 L463.4 63.6 L464 63.6 L464.6 63.6 L465.2 63.6 L465.8 63.6 L466.4 63.6 L467 63.6 L467.4 63.6 L355.4 63.6 Z" fill="rgba(23,151,155,0.5)"/>
<path d="M355.4 63.55 L356 63.54 L356.6 63.53 L357.2 63.52 L357.8 63.5 L358.4 63.48 L359 63.46 L359.6 63.43 L360.2 63.4 L360.8 63.35 L361.4 63.32 L362 63.26 L362.6 63.21 L363.2 63.15 L363.8 63.04 L364.4 62.97 L365 62.86 L365.6 62.73 L366.2 62.65 L366.8 62.55 L367.4 62.32 L368 62.18 L368.6 61.99 L369.2 61.81 L369.8 61.54 L370.4 61.44 L371 61.12 L371.6 60.98 L372.2 60.68 L372.8 60.38 L373.4 60.23 L374 60.04 L374.6 59.61 L375.2 59.21 L375.8 58.97 L376.4 58.74 L377 58.34 L377.6 58.28 L378.2 57.99 L378.8 57.61 L379.4 56.99 L380 57.08 L380.6 56.82 L381.2 56.51 L381.8 56.22 L382.4 55.68 L383 55.04 L383.6 54.39 L384.2 54.37 L384.8 53.84 L385.4 53.38 L386 52.76 L386.6 51.56 L387.2 51.1 L387.8 50.69 L388.4 50.08 L389 48.21 L389.6 47.36 L390.2 46.15 L390.8 46.17 L391.4 44.61 L392 42.86 L392.6 42.53 L393.2 40.84 L393.8 41.72 L394.4 39.11 L395 40.66 L395.6 39.31 L396.2 39.95 L396.8 37.83 L397.4 38.14 L398 37.62 L398.6 38.43 L399.2 38.68 L399.8 40.42 L400.4 40.35 L401 41.99 L401.6 44.02 L402.2 44.12 L402.8 46.58 L403.4 48.26 L404 49.81 L404.6 50.66 L405.2 52.35 L405.8 52.88 L406.4 54.18 L407 55.99 L407.6 57.12 L408.2 57.82 L408.8 58.89 L409.4 59.5 L410 60.1 L410.6 60.88 L411.2 61.34 L411.8 61.69 L412.4 62.14 L413 62.45 L413.6 62.65 L414.2 62.86 L414.8 63.03 L415.4 63.17 L416 63.28 L416.6 63.36 L417.2 63.42 L417.8 63.47 L418.4 63.51 L419 63.53 L419.6 63.55 L420.2 63.56 L420.8 63.57 L421.4 63.58 L422 63.59 L422.6 63.59 L423.2 63.59 L423.8 63.6 L424.4 63.6 L425 63.6 L425.6 63.6 L426.2 63.6 L426.8 63.6 L427.4 63.6 L428 63.6 L428.6 63.6 L429.2 63.6 L429.8 63.6 L430.4 63.6 L431 63.6 L431.6 63.6 L432.2 63.6 L432.8 63.6 L433.4 63.6 L434 63.6 L434.6 63.6 L435.2 63.6 L435.8 63.6 L436.4 63.6 L437 63.6 L437.6 63.6 L438.2 63.6 L438.8 63.6 L439.4 63.6 L440 63.6 L440.6 63.6 L441.2 63.6 L441.8 63.6 L442.4 63.6 L443 63.6 L443.6 63.6 L444.2 63.6 L444.8 63.6 L445.4 63.6 L446 63.6 L446.6 63.6 L447.2 63.6 L447.8 63.6 L448.4 63.6 L449 63.6 L449.6 63.6 L450.2 63.6 L450.8 63.6 L451.4 63.6 L452 63.6 L452.6 63.6 L453.2 63.6 L453.8 63.6 L454.4 63.6 L455 63.6 L455.6 63.6 L456.2 63.6 L456.8 63.6 L457.4 63.6 L458 63.6 L458.6 63.6 L459.2 63.6 L459.8 63.6 L460.4 63.6 L461 63.6 L461.6 63.6 L462.2 63.6 L462.8 63.6 L463.4 63.6 L464 63.6 L464.6 63.6 L465.2 63.6 L465.8 63.6 L466.4 63.6 L467 63.6" fill="none" stroke="#17979b" stroke-width="0.6"/>
<line x1="355.4" y1="63.6" x2="467.4" y2="63.6" stroke="#17979b" stroke-width="0.8"/>
<line x1="467.4" y1="63.6" x2="514.9" y2="63.6" stroke="#a8a8a8" stroke-width="1.2"/>
<path d="M355.4 77.58 L356 77.58 L356.6 77.57 L357.2 77.56 L357.8 77.55 L358.4 77.54 L359 77.53 L359.6 77.51 L360.2 77.5 L360.8 77.48 L361.4 77.44 L362 77.41 L362.6 77.39 L363.2 77.36 L363.8 77.3 L364.4 77.26 L365 77.18 L365.6 77.12 L366.2 77.03 L366.8 76.95 L367.4 76.84 L368 76.73 L368.6 76.62 L369.2 76.49 L369.8 76.38 L370.4 76.26 L371 76.1 L371.6 75.79 L372.2 75.72 L372.8 75.47 L373.4 75.29 L374 74.98 L374.6 74.77 L375.2 74.42 L375.8 74.3 L376.4 74.06 L377 73.69 L377.6 73.37 L378.2 73.01 L378.8 73 L379.4 72.43 L380 72.08 L380.6 71.78 L381.2 71.96 L381.8 71.51 L382.4 70.94 L383 70.56 L383.6 70.76 L384.2 70.14 L384.8 69.48 L385.4 69.01 L386 68.72 L386.6 68.5 L387.2 67.75 L387.8 67.5 L388.4 66.56 L389 65.7 L389.6 64.4 L390.2 63.83 L390.8 63.16 L391.4 62.48 L392 61.4 L392.6 59.79 L393.2 59.17 L393.8 58.71 L394.4 56.45 L395 56.04 L395.6 54.34 L396.2 54.56 L396.8 53.75 L397.4 53.74 L398 52.99 L398.6 52.07 L399.2 51.95 L399.8 52.94 L400.4 53.88 L401 55.28 L401.6 54.21 L402.2 56.08 L402.8 57.09 L403.4 58.82 L404 60.01 L404.6 60.61 L405.2 60.98 L405.8 62.71 L406.4 64.11 L407 65.49 L407.6 67.2 L408.2 68.48 L408.8 69.23 L409.4 70.69 L410 71.3 L410.6 72.24 L411.2 73.03 L411.8 73.91 L412.4 74.53 L413 74.95 L413.6 75.49 L414.2 75.8 L414.8 76.19 L415.4 76.43 L416 76.66 L416.6 76.87 L417.2 77.03 L417.8 77.18 L418.4 77.27 L419 77.33 L419.6 77.41 L420.2 77.46 L420.8 77.49 L421.4 77.52 L422 77.54 L422.6 77.56 L423.2 77.57 L423.8 77.58 L424.4 77.58 L425 77.59 L425.6 77.59 L426.2 77.6 L426.8 77.6 L427.4 77.6 L428 77.6 L428.6 77.6 L429.2 77.6 L429.8 77.6 L430.4 77.6 L431 77.6 L431.6 77.6 L432.2 77.6 L432.8 77.6 L433.4 77.6 L434 77.6 L434.6 77.6 L435.2 77.6 L435.8 77.6 L436.4 77.6 L437 77.6 L437.6 77.6 L438.2 77.6 L438.8 77.6 L439.4 77.6 L440 77.6 L440.6 77.6 L441.2 77.6 L441.8 77.6 L442.4 77.6 L443 77.6 L443.6 77.6 L444.2 77.6 L444.8 77.6 L445.4 77.6 L446 77.6 L446.6 77.6 L447.2 77.6 L447.8 77.6 L448.4 77.6 L449 77.6 L449.6 77.6 L450.2 77.6 L450.8 77.6 L451.4 77.6 L452 77.6 L452.6 77.6 L453.2 77.6 L453.8 77.6 L454.4 77.6 L455 77.6 L455.6 77.6 L456.2 77.6 L456.8 77.6 L457.4 77.6 L458 77.6 L458.6 77.6 L459.2 77.6 L459.8 77.6 L460.4 77.6 L461 77.6 L461.6 77.6 L462.2 77.6 L462.8 77.6 L463.4 77.6 L464 77.6 L464.6 77.6 L465.2 77.6 L465.8 77.6 L466.4 77.6 L467 77.6 L467.4 77.6 L355.4 77.6 Z" fill="rgba(238,125,63,0.55)"/>
<path d="M355.4 77.58 L356 77.58 L356.6 77.57 L357.2 77.56 L357.8 77.55 L358.4 77.54 L359 77.53 L359.6 77.51 L360.2 77.5 L360.8 77.48 L361.4 77.44 L362 77.41 L362.6 77.39 L363.2 77.36 L363.8 77.3 L364.4 77.26 L365 77.18 L365.6 77.12 L366.2 77.03 L366.8 76.95 L367.4 76.84 L368 76.73 L368.6 76.62 L369.2 76.49 L369.8 76.38 L370.4 76.26 L371 76.1 L371.6 75.79 L372.2 75.72 L372.8 75.47 L373.4 75.29 L374 74.98 L374.6 74.77 L375.2 74.42 L375.8 74.3 L376.4 74.06 L377 73.69 L377.6 73.37 L378.2 73.01 L378.8 73 L379.4 72.43 L380 72.08 L380.6 71.78 L381.2 71.96 L381.8 71.51 L382.4 70.94 L383 70.56 L383.6 70.76 L384.2 70.14 L384.8 69.48 L385.4 69.01 L386 68.72 L386.6 68.5 L387.2 67.75 L387.8 67.5 L388.4 66.56 L389 65.7 L389.6 64.4 L390.2 63.83 L390.8 63.16 L391.4 62.48 L392 61.4 L392.6 59.79 L393.2 59.17 L393.8 58.71 L394.4 56.45 L395 56.04 L395.6 54.34 L396.2 54.56 L396.8 53.75 L397.4 53.74 L398 52.99 L398.6 52.07 L399.2 51.95 L399.8 52.94 L400.4 53.88 L401 55.28 L401.6 54.21 L402.2 56.08 L402.8 57.09 L403.4 58.82 L404 60.01 L404.6 60.61 L405.2 60.98 L405.8 62.71 L406.4 64.11 L407 65.49 L407.6 67.2 L408.2 68.48 L408.8 69.23 L409.4 70.69 L410 71.3 L410.6 72.24 L411.2 73.03 L411.8 73.91 L412.4 74.53 L413 74.95 L413.6 75.49 L414.2 75.8 L414.8 76.19 L415.4 76.43 L416 76.66 L416.6 76.87 L417.2 77.03 L417.8 77.18 L418.4 77.27 L419 77.33 L419.6 77.41 L420.2 77.46 L420.8 77.49 L421.4 77.52 L422 77.54 L422.6 77.56 L423.2 77.57 L423.8 77.58 L424.4 77.58 L425 77.59 L425.6 77.59 L426.2 77.6 L426.8 77.6 L427.4 77.6 L428 77.6 L428.6 77.6 L429.2 77.6 L429.8 77.6 L430.4 77.6 L431 77.6 L431.6 77.6 L432.2 77.6 L432.8 77.6 L433.4 77.6 L434 77.6 L434.6 77.6 L435.2 77.6 L435.8 77.6 L436.4 77.6 L437 77.6 L437.6 77.6 L438.2 77.6 L438.8 77.6 L439.4 77.6 L440 77.6 L440.6 77.6 L441.2 77.6 L441.8 77.6 L442.4 77.6 L443 77.6 L443.6 77.6 L444.2 77.6 L444.8 77.6 L445.4 77.6 L446 77.6 L446.6 77.6 L447.2 77.6 L447.8 77.6 L448.4 77.6 L449 77.6 L449.6 77.6 L450.2 77.6 L450.8 77.6 L451.4 77.6 L452 77.6 L452.6 77.6 L453.2 77.6 L453.8 77.6 L454.4 77.6 L455 77.6 L455.6 77.6 L456.2 77.6 L456.8 77.6 L457.4 77.6 L458 77.6 L458.6 77.6 L459.2 77.6 L459.8 77.6 L460.4 77.6 L461 77.6 L461.6 77.6 L462.2 77.6 L462.8 77.6 L463.4 77.6 L464 77.6 L464.6 77.6 L465.2 77.6 L465.8 77.6 L466.4 77.6 L467 77.6" fill="none" stroke="#ee7d3f" stroke-width="0.6"/>
<line x1="355.4" y1="77.6" x2="467.4" y2="77.6" stroke="#ee7d3f" stroke-width="0.8"/>
<line x1="467.4" y1="77.6" x2="514.9" y2="77.6" stroke="#333" stroke-width="0.7"/>
<path d="M355.4 90.96 L356 90.95 L356.6 90.94 L357.2 90.92 L357.8 90.9 L358.4 90.88 L359 90.87 L359.6 90.84 L360.2 90.81 L360.8 90.78 L361.4 90.73 L362 90.66 L362.6 90.61 L363.2 90.58 L363.8 90.5 L364.4 90.41 L365 90.29 L365.6 90.21 L366.2 90.13 L366.8 89.97 L367.4 89.87 L368 89.75 L368.6 89.51 L369.2 89.27 L369.8 89.11 L370.4 88.92 L371 88.83 L371.6 88.51 L372.2 88.26 L372.8 87.98 L373.4 87.82 L374 87.7 L374.6 87.12 L375.2 87.1 L375.8 86.64 L376.4 86.48 L377 86.05 L377.6 85.99 L378.2 85.84 L378.8 85.38 L379.4 85.07 L380 84.58 L380.6 84.53 L381.2 84.03 L381.8 83.9 L382.4 83.29 L383 83.33 L383.6 82.34 L384.2 81.8 L384.8 82.12 L385.4 80.74 L386 80.17 L386.6 79.54 L387.2 79.45 L387.8 77.84 L388.4 76.85 L389 76.06 L389.6 74.49 L390.2 73.41 L390.8 72.84 L391.4 71.18 L392 71.63 L392.6 70.32 L393.2 68.87 L393.8 68.02 L394.4 66.26 L395 66.41 L395.6 66.01 L396.2 65.75 L396.8 64.89 L397.4 66.35 L398 65.62 L398.6 66.33 L399.2 67.4 L399.8 68.35 L400.4 69.74 L401 71.15 L401.6 71.72 L402.2 73.12 L402.8 74.88 L403.4 75.64 L404 77.27 L404.6 77.93 L405.2 79.51 L405.8 80.94 L406.4 82 L407 83.57 L407.6 84.65 L408.2 85.23 L408.8 86.21 L409.4 86.57 L410 87.4 L410.6 87.76 L411.2 88.38 L411.8 88.77 L412.4 88.95 L413 89.2 L413.6 89.47 L414.2 89.54 L414.8 89.68 L415.4 89.83 L416 89.89 L416.6 89.97 L417.2 90.11 L417.8 90.1 L418.4 90.15 L419 90.19 L419.6 90.25 L420.2 90.26 L420.8 90.29 L421.4 90.29 L422 90.37 L422.6 90.37 L423.2 90.39 L423.8 90.38 L424.4 90.44 L425 90.46 L425.6 90.47 L426.2 90.49 L426.8 90.48 L427.4 90.48 L428 90.52 L428.6 90.54 L429.2 90.53 L429.8 90.56 L430.4 90.56 L431 90.57 L431.6 90.59 L432.2 90.59 L432.8 90.61 L433.4 90.61 L434 90.63 L434.6 90.63 L435.2 90.65 L435.8 90.68 L436.4 90.68 L437 90.68 L437.6 90.69 L438.2 90.7 L438.8 90.7 L439.4 90.71 L440 90.73 L440.6 90.74 L441.2 90.76 L441.8 90.75 L442.4 90.76 L443 90.76 L443.6 90.77 L444.2 90.78 L444.8 90.79 L445.4 90.79 L446 90.8 L446.6 90.81 L447.2 90.82 L447.8 90.81 L448.4 90.82 L449 90.84 L449.6 90.83 L450.2 90.84 L450.8 90.84 L451.4 90.84 L452 90.86 L452.6 90.86 L453.2 90.87 L453.8 90.86 L454.4 90.87 L455 90.87 L455.6 90.88 L456.2 90.88 L456.8 90.89 L457.4 90.89 L458 90.89 L458.6 90.89 L459.2 90.89 L459.8 90.9 L460.4 90.9 L461 90.91 L461.6 90.91 L462.2 90.91 L462.8 90.92 L463.4 90.92 L464 90.92 L464.6 90.92 L465.2 90.93 L465.8 90.92 L466.4 90.93 L467 90.93 L467.4 91 L355.4 91 Z" fill="rgba(23,151,155,0.5)"/>
<path d="M355.4 90.96 L356 90.95 L356.6 90.94 L357.2 90.92 L357.8 90.9 L358.4 90.88 L359 90.87 L359.6 90.84 L360.2 90.81 L360.8 90.78 L361.4 90.73 L362 90.66 L362.6 90.61 L363.2 90.58 L363.8 90.5 L364.4 90.41 L365 90.29 L365.6 90.21 L366.2 90.13 L366.8 89.97 L367.4 89.87 L368 89.75 L368.6 89.51 L369.2 89.27 L369.8 89.11 L370.4 88.92 L371 88.83 L371.6 88.51 L372.2 88.26 L372.8 87.98 L373.4 87.82 L374 87.7 L374.6 87.12 L375.2 87.1 L375.8 86.64 L376.4 86.48 L377 86.05 L377.6 85.99 L378.2 85.84 L378.8 85.38 L379.4 85.07 L380 84.58 L380.6 84.53 L381.2 84.03 L381.8 83.9 L382.4 83.29 L383 83.33 L383.6 82.34 L384.2 81.8 L384.8 82.12 L385.4 80.74 L386 80.17 L386.6 79.54 L387.2 79.45 L387.8 77.84 L388.4 76.85 L389 76.06 L389.6 74.49 L390.2 73.41 L390.8 72.84 L391.4 71.18 L392 71.63 L392.6 70.32 L393.2 68.87 L393.8 68.02 L394.4 66.26 L395 66.41 L395.6 66.01 L396.2 65.75 L396.8 64.89 L397.4 66.35 L398 65.62 L398.6 66.33 L399.2 67.4 L399.8 68.35 L400.4 69.74 L401 71.15 L401.6 71.72 L402.2 73.12 L402.8 74.88 L403.4 75.64 L404 77.27 L404.6 77.93 L405.2 79.51 L405.8 80.94 L406.4 82 L407 83.57 L407.6 84.65 L408.2 85.23 L408.8 86.21 L409.4 86.57 L410 87.4 L410.6 87.76 L411.2 88.38 L411.8 88.77 L412.4 88.95 L413 89.2 L413.6 89.47 L414.2 89.54 L414.8 89.68 L415.4 89.83 L416 89.89 L416.6 89.97 L417.2 90.11 L417.8 90.1 L418.4 90.15 L419 90.19 L419.6 90.25 L420.2 90.26 L420.8 90.29 L421.4 90.29 L422 90.37 L422.6 90.37 L423.2 90.39 L423.8 90.38 L424.4 90.44 L425 90.46 L425.6 90.47 L426.2 90.49 L426.8 90.48 L427.4 90.48 L428 90.52 L428.6 90.54 L429.2 90.53 L429.8 90.56 L430.4 90.56 L431 90.57 L431.6 90.59 L432.2 90.59 L432.8 90.61 L433.4 90.61 L434 90.63 L434.6 90.63 L435.2 90.65 L435.8 90.68 L436.4 90.68 L437 90.68 L437.6 90.69 L438.2 90.7 L438.8 90.7 L439.4 90.71 L440 90.73 L440.6 90.74 L441.2 90.76 L441.8 90.75 L442.4 90.76 L443 90.76 L443.6 90.77 L444.2 90.78 L444.8 90.79 L445.4 90.79 L446 90.8 L446.6 90.81 L447.2 90.82 L447.8 90.81 L448.4 90.82 L449 90.84 L449.6 90.83 L450.2 90.84 L450.8 90.84 L451.4 90.84 L452 90.86 L452.6 90.86 L453.2 90.87 L453.8 90.86 L454.4 90.87 L455 90.87 L455.6 90.88 L456.2 90.88 L456.8 90.89 L457.4 90.89 L458 90.89 L458.6 90.89 L459.2 90.89 L459.8 90.9 L460.4 90.9 L461 90.91 L461.6 90.91 L462.2 90.91 L462.8 90.92 L463.4 90.92 L464 90.92 L464.6 90.92 L465.2 90.93 L465.8 90.92 L466.4 90.93 L467 90.93" fill="none" stroke="#17979b" stroke-width="0.6"/>
<line x1="355.4" y1="91" x2="467.4" y2="91" stroke="#8fd0d0" stroke-width="1.4"/>
<line x1="467.4" y1="91" x2="514.9" y2="91" stroke="#a8a8a8" stroke-width="1.2"/>
<path d="M355.4 104.4 L356 104.4 L356.6 104.39 L357.2 104.39 L357.8 104.39 L358.4 104.39 L359 104.38 L359.6 104.38 L360.2 104.38 L360.8 104.37 L361.4 104.36 L362 104.35 L362.6 104.34 L363.2 104.33 L363.8 104.32 L364.4 104.3 L365 104.28 L365.6 104.25 L366.2 104.22 L366.8 104.19 L367.4 104.15 L368 104.09 L368.6 104.04 L369.2 103.99 L369.8 103.92 L370.4 103.82 L371 103.78 L371.6 103.69 L372.2 103.54 L372.8 103.48 L373.4 103.3 L374 103.15 L374.6 102.96 L375.2 102.93 L375.8 102.69 L376.4 102.52 L377 102.27 L377.6 102.18 L378.2 101.79 L378.8 101.5 L379.4 101.37 L380 101.09 L380.6 100.77 L381.2 100.51 L381.8 100.25 L382.4 100.12 L383 100.04 L383.6 99.45 L384.2 99.15 L384.8 98.95 L385.4 98.89 L386 98.23 L386.6 98.15 L387.2 98.05 L387.8 97.43 L388.4 97.49 L389 97.14 L389.6 96.25 L390.2 96.52 L390.8 95.38 L391.4 95.3 L392 94.59 L392.6 93.85 L393.2 92.94 L393.8 92.99 L394.4 92.39 L395 91.04 L395.6 90.56 L396.2 89.36 L396.8 88.93 L397.4 88.04 L398 86.26 L398.6 86.29 L399.2 85.01 L399.8 83.94 L400.4 83.83 L401 81.64 L401.6 80.88 L402.2 82.48 L402.8 80.46 L403.4 81.86 L404 80.67 L404.6 82.49 L405.2 81.42 L405.8 81.71 L406.4 84 L407 85.16 L407.6 85.93 L408.2 86.23 L408.8 87.72 L409.4 90.04 L410 90.36 L410.6 91.98 L411.2 93.11 L411.8 94.43 L412.4 96.38 L413 97.06 L413.6 98.55 L414.2 99.35 L414.8 100.01 L415.4 100.86 L416 101.49 L416.6 102 L417.2 102.44 L417.8 102.76 L418.4 103.15 L419 103.42 L419.6 103.63 L420.2 103.84 L420.8 103.94 L421.4 104.06 L422 104.14 L422.6 104.22 L423.2 104.26 L423.8 104.31 L424.4 104.33 L425 104.35 L425.6 104.36 L426.2 104.37 L426.8 104.38 L427.4 104.39 L428 104.39 L428.6 104.39 L429.2 104.4 L429.8 104.4 L430.4 104.4 L431 104.4 L431.6 104.4 L432.2 104.4 L432.8 104.4 L433.4 104.4 L434 104.4 L434.6 104.4 L435.2 104.4 L435.8 104.4 L436.4 104.4 L437 104.4 L437.6 104.4 L438.2 104.4 L438.8 104.4 L439.4 104.4 L440 104.4 L440.6 104.4 L441.2 104.4 L441.8 104.4 L442.4 104.4 L443 104.4 L443.6 104.4 L444.2 104.4 L444.8 104.4 L445.4 104.4 L446 104.4 L446.6 104.4 L447.2 104.4 L447.8 104.4 L448.4 104.4 L449 104.4 L449.6 104.4 L450.2 104.4 L450.8 104.4 L451.4 104.4 L452 104.4 L452.6 104.4 L453.2 104.4 L453.8 104.4 L454.4 104.4 L455 104.4 L455.6 104.4 L456.2 104.4 L456.8 104.4 L457.4 104.4 L458 104.4 L458.6 104.4 L459.2 104.4 L459.8 104.4 L460.4 104.4 L461 104.4 L461.6 104.4 L462.2 104.4 L462.8 104.4 L463.4 104.4 L464 104.4 L464.6 104.4 L465.2 104.4 L465.8 104.4 L466.4 104.4 L467 104.4 L467.4 104.4 L355.4 104.4 Z" fill="rgba(238,125,63,0.55)"/>
<path d="M355.4 104.4 L356 104.4 L356.6 104.39 L357.2 104.39 L357.8 104.39 L358.4 104.39 L359 104.38 L359.6 104.38 L360.2 104.38 L360.8 104.37 L361.4 104.36 L362 104.35 L362.6 104.34 L363.2 104.33 L363.8 104.32 L364.4 104.3 L365 104.28 L365.6 104.25 L366.2 104.22 L366.8 104.19 L367.4 104.15 L368 104.09 L368.6 104.04 L369.2 103.99 L369.8 103.92 L370.4 103.82 L371 103.78 L371.6 103.69 L372.2 103.54 L372.8 103.48 L373.4 103.3 L374 103.15 L374.6 102.96 L375.2 102.93 L375.8 102.69 L376.4 102.52 L377 102.27 L377.6 102.18 L378.2 101.79 L378.8 101.5 L379.4 101.37 L380 101.09 L380.6 100.77 L381.2 100.51 L381.8 100.25 L382.4 100.12 L383 100.04 L383.6 99.45 L384.2 99.15 L384.8 98.95 L385.4 98.89 L386 98.23 L386.6 98.15 L387.2 98.05 L387.8 97.43 L388.4 97.49 L389 97.14 L389.6 96.25 L390.2 96.52 L390.8 95.38 L391.4 95.3 L392 94.59 L392.6 93.85 L393.2 92.94 L393.8 92.99 L394.4 92.39 L395 91.04 L395.6 90.56 L396.2 89.36 L396.8 88.93 L397.4 88.04 L398 86.26 L398.6 86.29 L399.2 85.01 L399.8 83.94 L400.4 83.83 L401 81.64 L401.6 80.88 L402.2 82.48 L402.8 80.46 L403.4 81.86 L404 80.67 L404.6 82.49 L405.2 81.42 L405.8 81.71 L406.4 84 L407 85.16 L407.6 85.93 L408.2 86.23 L408.8 87.72 L409.4 90.04 L410 90.36 L410.6 91.98 L411.2 93.11 L411.8 94.43 L412.4 96.38 L413 97.06 L413.6 98.55 L414.2 99.35 L414.8 100.01 L415.4 100.86 L416 101.49 L416.6 102 L417.2 102.44 L417.8 102.76 L418.4 103.15 L419 103.42 L419.6 103.63 L420.2 103.84 L420.8 103.94 L421.4 104.06 L422 104.14 L422.6 104.22 L423.2 104.26 L423.8 104.31 L424.4 104.33 L425 104.35 L425.6 104.36 L426.2 104.37 L426.8 104.38 L427.4 104.39 L428 104.39 L428.6 104.39 L429.2 104.4 L429.8 104.4 L430.4 104.4 L431 104.4 L431.6 104.4 L432.2 104.4 L432.8 104.4 L433.4 104.4 L434 104.4 L434.6 104.4 L435.2 104.4 L435.8 104.4 L436.4 104.4 L437 104.4 L437.6 104.4 L438.2 104.4 L438.8 104.4 L439.4 104.4 L440 104.4 L440.6 104.4 L441.2 104.4 L441.8 104.4 L442.4 104.4 L443 104.4 L443.6 104.4 L444.2 104.4 L444.8 104.4 L445.4 104.4 L446 104.4 L446.6 104.4 L447.2 104.4 L447.8 104.4 L448.4 104.4 L449 104.4 L449.6 104.4 L450.2 104.4 L450.8 104.4 L451.4 104.4 L452 104.4 L452.6 104.4 L453.2 104.4 L453.8 104.4 L454.4 104.4 L455 104.4 L455.6 104.4 L456.2 104.4 L456.8 104.4 L457.4 104.4 L458 104.4 L458.6 104.4 L459.2 104.4 L459.8 104.4 L460.4 104.4 L461 104.4 L461.6 104.4 L462.2 104.4 L462.8 104.4 L463.4 104.4 L464 104.4 L464.6 104.4 L465.2 104.4 L465.8 104.4 L466.4 104.4 L467 104.4" fill="none" stroke="#ee7d3f" stroke-width="0.6"/>
<line x1="355.4" y1="104.4" x2="467.4" y2="104.4" stroke="#ee7d3f" stroke-width="0.8"/>
<line x1="467.4" y1="104.4" x2="514.9" y2="104.4" stroke="#333" stroke-width="0.7"/>
<path d="M355.4 118 L356 118 L356.6 118 L357.2 118 L357.8 118 L358.4 118 L359 118 L359.6 117.99 L360.2 117.99 L360.8 117.99 L361.4 117.99 L362 117.99 L362.6 117.98 L363.2 117.98 L363.8 117.97 L364.4 117.97 L365 117.96 L365.6 117.95 L366.2 117.94 L366.8 117.93 L367.4 117.92 L368 117.9 L368.6 117.89 L369.2 117.86 L369.8 117.84 L370.4 117.81 L371 117.77 L371.6 117.75 L372.2 117.7 L372.8 117.66 L373.4 117.61 L374 117.52 L374.6 117.47 L375.2 117.38 L375.8 117.28 L376.4 117.2 L377 117.13 L377.6 116.95 L378.2 116.93 L378.8 116.76 L379.4 116.55 L380 116.43 L380.6 116.32 L381.2 116.06 L381.8 115.88 L382.4 115.69 L383 115.59 L383.6 115.28 L384.2 115.06 L384.8 114.77 L385.4 114.64 L386 114.24 L386.6 114.07 L387.2 114.02 L387.8 113.62 L388.4 113.54 L389 113.08 L389.6 112.97 L390.2 112.36 L390.8 112.46 L391.4 111.94 L392 111.64 L392.6 111.66 L393.2 111.25 L393.8 111.22 L394.4 110.83 L395 110.48 L395.6 109.94 L396.2 109.75 L396.8 109.67 L397.4 108.83 L398 108.51 L398.6 108.01 L399.2 107.55 L399.8 106.51 L400.4 106.1 L401 105.39 L401.6 104.86 L402.2 104.21 L402.8 103.36 L403.4 102.11 L404 101.6 L404.6 101.34 L405.2 100.2 L405.8 99.65 L406.4 98.83 L407 97.39 L407.6 96.6 L408.2 95.74 L408.8 95.74 L409.4 95.2 L410 94.34 L410.6 94.49 L411.2 94.48 L411.8 93.99 L412.4 92.96 L413 94.27 L413.6 94.22 L414.2 93.16 L414.8 92.28 L415.4 93.33 L416 94.52 L416.6 93.77 L417.2 95.25 L417.8 95.82 L418.4 96.76 L419 99.36 L419.6 100.06 L420.2 100.04 L420.8 101.78 L421.4 102.05 L422 104.31 L422.6 104.13 L423.2 105.54 L423.8 106.72 L424.4 107.16 L425 108.31 L425.6 109.16 L426.2 110.1 L426.8 110.3 L427.4 111.38 L428 111.82 L428.6 112.44 L429.2 112.92 L429.8 113.18 L430.4 113.66 L431 113.8 L431.6 114.14 L432.2 114.53 L432.8 114.6 L433.4 114.86 L434 115.06 L434.6 115.14 L435.2 115.34 L435.8 115.54 L436.4 115.44 L437 115.55 L437.6 115.81 L438.2 115.81 L438.8 115.91 L439.4 116.05 L440 116.07 L440.6 116.18 L441.2 116.24 L441.8 116.27 L442.4 116.39 L443 116.41 L443.6 116.34 L444.2 116.43 L444.8 116.54 L445.4 116.49 L446 116.63 L446.6 116.6 L447.2 116.71 L447.8 116.67 L448.4 116.77 L449 116.75 L449.6 116.88 L450.2 116.88 L450.8 116.92 L451.4 116.9 L452 116.93 L452.6 117.03 L453.2 117.03 L453.8 117.09 L454.4 117.12 L455 117.14 L455.6 117.17 L456.2 117.18 L456.8 117.19 L457.4 117.18 L458 117.22 L458.6 117.24 L459.2 117.29 L459.8 117.31 L460.4 117.33 L461 117.36 L461.6 117.39 L462.2 117.39 L462.8 117.37 L463.4 117.44 L464 117.43 L464.6 117.46 L465.2 117.45 L465.8 117.5 L466.4 117.5 L467 117.5 L467.4 118 L355.4 118 Z" fill="rgba(23,151,155,0.5)"/>
<path d="M355.4 118 L356 118 L356.6 118 L357.2 118 L357.8 118 L358.4 118 L359 118 L359.6 117.99 L360.2 117.99 L360.8 117.99 L361.4 117.99 L362 117.99 L362.6 117.98 L363.2 117.98 L363.8 117.97 L364.4 117.97 L365 117.96 L365.6 117.95 L366.2 117.94 L366.8 117.93 L367.4 117.92 L368 117.9 L368.6 117.89 L369.2 117.86 L369.8 117.84 L370.4 117.81 L371 117.77 L371.6 117.75 L372.2 117.7 L372.8 117.66 L373.4 117.61 L374 117.52 L374.6 117.47 L375.2 117.38 L375.8 117.28 L376.4 117.2 L377 117.13 L377.6 116.95 L378.2 116.93 L378.8 116.76 L379.4 116.55 L380 116.43 L380.6 116.32 L381.2 116.06 L381.8 115.88 L382.4 115.69 L383 115.59 L383.6 115.28 L384.2 115.06 L384.8 114.77 L385.4 114.64 L386 114.24 L386.6 114.07 L387.2 114.02 L387.8 113.62 L388.4 113.54 L389 113.08 L389.6 112.97 L390.2 112.36 L390.8 112.46 L391.4 111.94 L392 111.64 L392.6 111.66 L393.2 111.25 L393.8 111.22 L394.4 110.83 L395 110.48 L395.6 109.94 L396.2 109.75 L396.8 109.67 L397.4 108.83 L398 108.51 L398.6 108.01 L399.2 107.55 L399.8 106.51 L400.4 106.1 L401 105.39 L401.6 104.86 L402.2 104.21 L402.8 103.36 L403.4 102.11 L404 101.6 L404.6 101.34 L405.2 100.2 L405.8 99.65 L406.4 98.83 L407 97.39 L407.6 96.6 L408.2 95.74 L408.8 95.74 L409.4 95.2 L410 94.34 L410.6 94.49 L411.2 94.48 L411.8 93.99 L412.4 92.96 L413 94.27 L413.6 94.22 L414.2 93.16 L414.8 92.28 L415.4 93.33 L416 94.52 L416.6 93.77 L417.2 95.25 L417.8 95.82 L418.4 96.76 L419 99.36 L419.6 100.06 L420.2 100.04 L420.8 101.78 L421.4 102.05 L422 104.31 L422.6 104.13 L423.2 105.54 L423.8 106.72 L424.4 107.16 L425 108.31 L425.6 109.16 L426.2 110.1 L426.8 110.3 L427.4 111.38 L428 111.82 L428.6 112.44 L429.2 112.92 L429.8 113.18 L430.4 113.66 L431 113.8 L431.6 114.14 L432.2 114.53 L432.8 114.6 L433.4 114.86 L434 115.06 L434.6 115.14 L435.2 115.34 L435.8 115.54 L436.4 115.44 L437 115.55 L437.6 115.81 L438.2 115.81 L438.8 115.91 L439.4 116.05 L440 116.07 L440.6 116.18 L441.2 116.24 L441.8 116.27 L442.4 116.39 L443 116.41 L443.6 116.34 L444.2 116.43 L444.8 116.54 L445.4 116.49 L446 116.63 L446.6 116.6 L447.2 116.71 L447.8 116.67 L448.4 116.77 L449 116.75 L449.6 116.88 L450.2 116.88 L450.8 116.92 L451.4 116.9 L452 116.93 L452.6 117.03 L453.2 117.03 L453.8 117.09 L454.4 117.12 L455 117.14 L455.6 117.17 L456.2 117.18 L456.8 117.19 L457.4 117.18 L458 117.22 L458.6 117.24 L459.2 117.29 L459.8 117.31 L460.4 117.33 L461 117.36 L461.6 117.39 L462.2 117.39 L462.8 117.37 L463.4 117.44 L464 117.43 L464.6 117.46 L465.2 117.45 L465.8 117.5 L466.4 117.5 L467 117.5" fill="none" stroke="#17979b" stroke-width="0.6"/>
<line x1="355.4" y1="118" x2="467.4" y2="118" stroke="#17979b" stroke-width="0.8"/>
<line x1="467.4" y1="118" x2="514.9" y2="118" stroke="#a8a8a8" stroke-width="1.2"/>
<path d="M355.4 131.1 L356 131.1 L356.6 131.1 L357.2 131.1 L357.8 131.1 L358.4 131.1 L359 131.1 L359.6 131.1 L360.2 131.1 L360.8 131.1 L361.4 131.1 L362 131.1 L362.6 131.1 L363.2 131.1 L363.8 131.1 L364.4 131.1 L365 131.1 L365.6 131.1 L366.2 131.1 L366.8 131.1 L367.4 131.1 L368 131.1 L368.6 131.1 L369.2 131.1 L369.8 131.1 L370.4 131.09 L371 131.09 L371.6 131.09 L372.2 131.09 L372.8 131.09 L373.4 131.08 L374 131.08 L374.6 131.07 L375.2 131.07 L375.8 131.06 L376.4 131.05 L377 131.05 L377.6 131.04 L378.2 131.02 L378.8 131 L379.4 130.99 L380 130.96 L380.6 130.95 L381.2 130.92 L381.8 130.89 L382.4 130.85 L383 130.81 L383.6 130.77 L384.2 130.69 L384.8 130.65 L385.4 130.61 L386 130.5 L386.6 130.46 L387.2 130.36 L387.8 130.25 L388.4 130.16 L389 130.02 L389.6 129.89 L390.2 129.74 L390.8 129.57 L391.4 129.41 L392 129.35 L392.6 129.14 L393.2 128.97 L393.8 128.73 L394.4 128.49 L395 128.15 L395.6 128.17 L396.2 127.68 L396.8 127.66 L397.4 127.2 L398 126.89 L398.6 126.56 L399.2 126.47 L399.8 126.46 L400.4 126.08 L401 125.74 L401.6 125.33 L402.2 124.88 L402.8 124.65 L403.4 124.89 L404 124.57 L404.6 123.93 L405.2 123.96 L405.8 123.38 L406.4 123.12 L407 122.77 L407.6 122.59 L408.2 121.73 L408.8 121.91 L409.4 121.44 L410 121.21 L410.6 120.62 L411.2 120.3 L411.8 119.19 L412.4 119.37 L413 118.5 L413.6 117.1 L414.2 116.34 L414.8 116.38 L415.4 115.04 L416 114.15 L416.6 113.65 L417.2 112.93 L417.8 111.91 L418.4 112 L419 111.28 L419.6 110.77 L420.2 110.22 L420.8 109.05 L421.4 108.5 L422 108.88 L422.6 108.82 L423.2 108.74 L423.8 108.19 L424.4 108.31 L425 107.32 L425.6 107.1 L426.2 108.1 L426.8 108.33 L427.4 109.42 L428 110.85 L428.6 110.25 L429.2 111.13 L429.8 113.26 L430.4 113.96 L431 114.4 L431.6 115.48 L432.2 117.38 L432.8 118.16 L433.4 119.25 L434 120.14 L434.6 120.92 L435.2 122.55 L435.8 123.28 L436.4 123.77 L437 125.1 L437.6 125.84 L438.2 126.23 L438.8 126.95 L439.4 127.59 L440 128.1 L440.6 128.66 L441.2 128.91 L441.8 129.34 L442.4 129.6 L443 129.8 L443.6 130.08 L444.2 130.27 L444.8 130.43 L445.4 130.56 L446 130.65 L446.6 130.74 L447.2 130.83 L447.8 130.89 L448.4 130.93 L449 130.97 L449.6 131 L450.2 131.02 L450.8 131.04 L451.4 131.05 L452 131.06 L452.6 131.07 L453.2 131.08 L453.8 131.09 L454.4 131.09 L455 131.09 L455.6 131.09 L456.2 131.1 L456.8 131.1 L457.4 131.1 L458 131.1 L458.6 131.1 L459.2 131.1 L459.8 131.1 L460.4 131.1 L461 131.1 L461.6 131.1 L462.2 131.1 L462.8 131.1 L463.4 131.1 L464 131.1 L464.6 131.1 L465.2 131.1 L465.8 131.1 L466.4 131.1 L467 131.1 L467.4 131.1 L355.4 131.1 Z" fill="rgba(238,125,63,0.55)"/>
<path d="M355.4 131.1 L356 131.1 L356.6 131.1 L357.2 131.1 L357.8 131.1 L358.4 131.1 L359 131.1 L359.6 131.1 L360.2 131.1 L360.8 131.1 L361.4 131.1 L362 131.1 L362.6 131.1 L363.2 131.1 L363.8 131.1 L364.4 131.1 L365 131.1 L365.6 131.1 L366.2 131.1 L366.8 131.1 L367.4 131.1 L368 131.1 L368.6 131.1 L369.2 131.1 L369.8 131.1 L370.4 131.09 L371 131.09 L371.6 131.09 L372.2 131.09 L372.8 131.09 L373.4 131.08 L374 131.08 L374.6 131.07 L375.2 131.07 L375.8 131.06 L376.4 131.05 L377 131.05 L377.6 131.04 L378.2 131.02 L378.8 131 L379.4 130.99 L380 130.96 L380.6 130.95 L381.2 130.92 L381.8 130.89 L382.4 130.85 L383 130.81 L383.6 130.77 L384.2 130.69 L384.8 130.65 L385.4 130.61 L386 130.5 L386.6 130.46 L387.2 130.36 L387.8 130.25 L388.4 130.16 L389 130.02 L389.6 129.89 L390.2 129.74 L390.8 129.57 L391.4 129.41 L392 129.35 L392.6 129.14 L393.2 128.97 L393.8 128.73 L394.4 128.49 L395 128.15 L395.6 128.17 L396.2 127.68 L396.8 127.66 L397.4 127.2 L398 126.89 L398.6 126.56 L399.2 126.47 L399.8 126.46 L400.4 126.08 L401 125.74 L401.6 125.33 L402.2 124.88 L402.8 124.65 L403.4 124.89 L404 124.57 L404.6 123.93 L405.2 123.96 L405.8 123.38 L406.4 123.12 L407 122.77 L407.6 122.59 L408.2 121.73 L408.8 121.91 L409.4 121.44 L410 121.21 L410.6 120.62 L411.2 120.3 L411.8 119.19 L412.4 119.37 L413 118.5 L413.6 117.1 L414.2 116.34 L414.8 116.38 L415.4 115.04 L416 114.15 L416.6 113.65 L417.2 112.93 L417.8 111.91 L418.4 112 L419 111.28 L419.6 110.77 L420.2 110.22 L420.8 109.05 L421.4 108.5 L422 108.88 L422.6 108.82 L423.2 108.74 L423.8 108.19 L424.4 108.31 L425 107.32 L425.6 107.1 L426.2 108.1 L426.8 108.33 L427.4 109.42 L428 110.85 L428.6 110.25 L429.2 111.13 L429.8 113.26 L430.4 113.96 L431 114.4 L431.6 115.48 L432.2 117.38 L432.8 118.16 L433.4 119.25 L434 120.14 L434.6 120.92 L435.2 122.55 L435.8 123.28 L436.4 123.77 L437 125.1 L437.6 125.84 L438.2 126.23 L438.8 126.95 L439.4 127.59 L440 128.1 L440.6 128.66 L441.2 128.91 L441.8 129.34 L442.4 129.6 L443 129.8 L443.6 130.08 L444.2 130.27 L444.8 130.43 L445.4 130.56 L446 130.65 L446.6 130.74 L447.2 130.83 L447.8 130.89 L448.4 130.93 L449 130.97 L449.6 131 L450.2 131.02 L450.8 131.04 L451.4 131.05 L452 131.06 L452.6 131.07 L453.2 131.08 L453.8 131.09 L454.4 131.09 L455 131.09 L455.6 131.09 L456.2 131.1 L456.8 131.1 L457.4 131.1 L458 131.1 L458.6 131.1 L459.2 131.1 L459.8 131.1 L460.4 131.1 L461 131.1 L461.6 131.1 L462.2 131.1 L462.8 131.1 L463.4 131.1 L464 131.1 L464.6 131.1 L465.2 131.1 L465.8 131.1 L466.4 131.1 L467 131.1" fill="none" stroke="#ee7d3f" stroke-width="0.6"/>
<line x1="355.4" y1="131.1" x2="467.4" y2="131.1" stroke="#ee7d3f" stroke-width="0.8"/>
<line x1="467.4" y1="131.1" x2="514.9" y2="131.1" stroke="#a8a8a8" stroke-width="1.2"/>
<path d="M355.4 131.1 L355.4 36.4 L467.4 36.4 L467.4 131.1" fill="none" stroke="#333" stroke-width="0.7"/>
<line x1="355.4" y1="131.1" x2="467.4" y2="131.1" stroke="#333" stroke-width="0.7"/>
<line x1="418.3" y1="36.4" x2="418.3" y2="131.1" stroke="#444" stroke-width="0.8" stroke-dasharray="2.2,1.6"/>
<line x1="359.77" y1="131.1" x2="359.77" y2="132.3" stroke="#333" stroke-width="0.5"/>
<line x1="363.97" y1="131.1" x2="363.97" y2="132.3" stroke="#333" stroke-width="0.5"/>
<line x1="367.39" y1="131.1" x2="367.39" y2="132.3" stroke="#333" stroke-width="0.5"/>
<line x1="370.29" y1="131.1" x2="370.29" y2="132.3" stroke="#333" stroke-width="0.5"/>
<line x1="372.8" y1="131.1" x2="372.8" y2="132.3" stroke="#333" stroke-width="0.5"/>
<line x1="375.02" y1="131.1" x2="375.02" y2="132.3" stroke="#333" stroke-width="0.5"/>
<line x1="377" y1="131.1" x2="377" y2="133.4" stroke="#333" stroke-width="0.5"/>
<line x1="390.03" y1="131.1" x2="390.03" y2="132.3" stroke="#333" stroke-width="0.5"/>
<line x1="397.66" y1="131.1" x2="397.66" y2="132.3" stroke="#333" stroke-width="0.5"/>
<line x1="403.07" y1="131.1" x2="403.07" y2="132.3" stroke="#333" stroke-width="0.5"/>
<line x1="407.27" y1="131.1" x2="407.27" y2="132.3" stroke="#333" stroke-width="0.5"/>
<line x1="410.69" y1="131.1" x2="410.69" y2="132.3" stroke="#333" stroke-width="0.5"/>
<line x1="413.59" y1="131.1" x2="413.59" y2="132.3" stroke="#333" stroke-width="0.5"/>
<line x1="416.1" y1="131.1" x2="416.1" y2="132.3" stroke="#333" stroke-width="0.5"/>
<line x1="418.32" y1="131.1" x2="418.32" y2="132.3" stroke="#333" stroke-width="0.5"/>
<line x1="420.3" y1="131.1" x2="420.3" y2="133.4" stroke="#333" stroke-width="0.5"/>
<line x1="433.33" y1="131.1" x2="433.33" y2="132.3" stroke="#333" stroke-width="0.5"/>
<line x1="440.96" y1="131.1" x2="440.96" y2="132.3" stroke="#333" stroke-width="0.5"/>
<line x1="446.37" y1="131.1" x2="446.37" y2="132.3" stroke="#333" stroke-width="0.5"/>
<line x1="450.57" y1="131.1" x2="450.57" y2="132.3" stroke="#333" stroke-width="0.5"/>
<line x1="453.99" y1="131.1" x2="453.99" y2="132.3" stroke="#333" stroke-width="0.5"/>
<line x1="456.89" y1="131.1" x2="456.89" y2="132.3" stroke="#333" stroke-width="0.5"/>
<line x1="459.4" y1="131.1" x2="459.4" y2="132.3" stroke="#333" stroke-width="0.5"/>
<line x1="461.62" y1="131.1" x2="461.62" y2="132.3" stroke="#333" stroke-width="0.5"/>
<line x1="463.6" y1="131.1" x2="463.6" y2="133.4" stroke="#333" stroke-width="0.5"/>
<text x="376" y="142.3" text-anchor="middle">10<tspan font-size="6.5" dy="-4">4</tspan></text>
<text x="419.3" y="142.3" text-anchor="middle">10<tspan font-size="6.5" dy="-4">5</tspan></text>
<text x="462.6" y="142.3" text-anchor="middle">10<tspan font-size="6.5" dy="-4">6</tspan></text>
<text x="349.3" y="151.6" stroke="#000" stroke-width="0.22">Ac-DEVD-AFC</text>
<line x1="417.6" y1="147.1" x2="443" y2="147.1" stroke="#b5b5b5" stroke-width="0.8"/>
<path d="M441.5 145.3 L445 147.1 L441.5 148.9 Z" fill="#b5b5b5"/>
<text x="350.9" y="113.3" text-anchor="middle" stroke="#000" stroke-width="0.22" font-size="10.2" transform="rotate(-90 350.9 113.3)">Cell counts</text>
<line x1="347.5" y1="85.6" x2="347.5" y2="61" stroke="#b5b5b5" stroke-width="0.8"/>
<path d="M345.7 62.5 L347.5 58.3 L349.3 62.5 Z" fill="#b5b5b5"/>
<text x="453.6" y="60.6" text-anchor="end" stroke="#000" stroke-width="0.22" font-size="8.5">0.54%</text>
<text x="453.6" y="73.7" text-anchor="end" stroke="#000" stroke-width="0.22" font-size="8.5">0.38%</text>
<text x="453.6" y="87" text-anchor="end" stroke="#000" stroke-width="0.22" font-size="8.5">0.54%</text>
<text x="456.2" y="100.5" text-anchor="end" stroke="#000" stroke-width="0.22" font-size="8.5">1.72%</text>
<text x="461.2" y="114" text-anchor="end" stroke="#000" stroke-width="0.22" font-size="8.5">29.2%</text>
<text x="467" y="127" text-anchor="end" stroke="#000" stroke-width="0.22" font-size="8.5">57.8%</text>
<text x="473.6" y="60" text-anchor="middle" fill="#222" stroke="#222" stroke-width="0.22">-</text>
<text x="490" y="60" text-anchor="middle" fill="#222" stroke="#222" stroke-width="0.22">-</text>
<text x="505.6" y="60" text-anchor="middle" fill="#222" stroke="#222" stroke-width="0.22">-</text>
<text x="473.6" y="74" text-anchor="middle" fill="#222" stroke="#222" stroke-width="0.22">-</text>
<text x="490" y="74" text-anchor="middle" fill="#222" stroke="#222" stroke-width="0.22">+</text>
<text x="505.6" y="74" text-anchor="middle" fill="#222" stroke="#222" stroke-width="0.22">-</text>
<text x="473.6" y="87.4" text-anchor="middle" fill="#222" stroke="#222" stroke-width="0.22">+</text>
<text x="490" y="87.4" text-anchor="middle" fill="#222" stroke="#222" stroke-width="0.22">-</text>
<text x="505.6" y="87.4" text-anchor="middle" fill="#222" stroke="#222" stroke-width="0.22">-</text>
<text x="473.6" y="100.8" text-anchor="middle" fill="#222" stroke="#222" stroke-width="0.22">+</text>
<text x="490" y="100.8" text-anchor="middle" fill="#222" stroke="#222" stroke-width="0.22">+</text>
<text x="505.6" y="100.8" text-anchor="middle" fill="#222" stroke="#222" stroke-width="0.22">-</text>
<text x="473.6" y="114.4" text-anchor="middle" fill="#222" stroke="#222" stroke-width="0.22">+</text>
<text x="490" y="114.4" text-anchor="middle" fill="#222" stroke="#222" stroke-width="0.22">-</text>
<text x="505.6" y="114.4" text-anchor="middle" fill="#222" stroke="#222" stroke-width="0.22">+</text>
<text x="473.6" y="127.5" text-anchor="middle" fill="#222" stroke="#222" stroke-width="0.22">+</text>
<text x="490" y="127.5" text-anchor="middle" fill="#222" stroke="#222" stroke-width="0.22">+</text>
<text x="505.6" y="127.5" text-anchor="middle" fill="#222" stroke="#222" stroke-width="0.22">+</text>
<text x="473.9" y="49.9" stroke="#000" stroke-width="0.22" font-size="10.2" transform="rotate(-45 473.9 49.9)">Ac-DEVD-AFC</text>
<text x="491.4" y="49.4" stroke="#000" stroke-width="0.22" font-size="10.2" transform="rotate(-45 491.4 49.4)">shTLK2</text>
<text x="508.7" y="50.1" stroke="#000" stroke-width="0.22" font-size="10.2" transform="rotate(-45 508.7 50.1)">PBMC</text>
<rect x="598.9" y="14" width="11.2" height="4.1" fill="#17979b"/>
<text x="613.8" y="18.7" stroke="#000" stroke-width="0.22" font-size="9.2">shCtrl</text>
<rect x="598.9" y="25.9" width="11.2" height="4.1" fill="#ee7d3f"/>
<text x="613.8" y="30.6" stroke="#000" stroke-width="0.22" font-size="9.2">shTLK2</text>
<line x1="592.8" y1="31" x2="592.8" y2="114.5" stroke="#8a8a8a" stroke-width="1.1"/>
<line x1="592.8" y1="114.5" x2="676.8" y2="114.5" stroke="#555" stroke-width="0.9"/>
<line x1="590.6" y1="114.5" x2="592.8" y2="114.5" stroke="#000" stroke-width="0.6"/>
<text x="590.2" y="118.1" text-anchor="end" stroke="#000" stroke-width="0.22">0.0</text>
<line x1="591.5" y1="104.1" x2="592.8" y2="104.1" stroke="#000" stroke-width="0.6"/>
<line x1="590.6" y1="93.7" x2="592.8" y2="93.7" stroke="#000" stroke-width="0.6"/>
<text x="590.2" y="97.3" text-anchor="end" stroke="#000" stroke-width="0.22">20.0</text>
<line x1="591.5" y1="83.3" x2="592.8" y2="83.3" stroke="#000" stroke-width="0.6"/>
<line x1="590.6" y1="72.9" x2="592.8" y2="72.9" stroke="#000" stroke-width="0.6"/>
<text x="590.2" y="76.5" text-anchor="end" stroke="#000" stroke-width="0.22">40.0</text>
<line x1="591.5" y1="62.5" x2="592.8" y2="62.5" stroke="#000" stroke-width="0.6"/>
<line x1="590.6" y1="52.1" x2="592.8" y2="52.1" stroke="#000" stroke-width="0.6"/>
<text x="590.2" y="55.7" text-anchor="end" stroke="#000" stroke-width="0.22">60.0</text>
<line x1="591.5" y1="41.7" x2="592.8" y2="41.7" stroke="#000" stroke-width="0.6"/>
<line x1="590.6" y1="31.3" x2="592.8" y2="31.3" stroke="#000" stroke-width="0.6"/>
<text x="590.2" y="34.9" text-anchor="end" stroke="#000" stroke-width="0.22">80.0</text>
<rect x="592.4" y="113.98" width="12.2" height="0.52" fill="#a8d8d8"/>
<circle cx="595.1" cy="113.98" r="1.3" fill="rgba(215,215,215,0.85)"/>
<circle cx="598.5" cy="113.98" r="1.3" fill="rgba(215,215,215,0.85)"/>
<circle cx="601.9" cy="113.98" r="1.3" fill="rgba(215,215,215,0.85)"/>
<rect x="606.7" y="114.08" width="12.2" height="0.42" fill="#f2c0a0"/>
<circle cx="609.4" cy="114.08" r="1.3" fill="rgba(215,215,215,0.85)"/>
<circle cx="612.8" cy="114.08" r="1.3" fill="rgba(215,215,215,0.85)"/>
<circle cx="616.2" cy="114.08" r="1.3" fill="rgba(215,215,215,0.85)"/>
<rect x="620.9" y="113.98" width="12.2" height="0.52" fill="#a8d8d8"/>
<circle cx="623.6" cy="113.98" r="1.3" fill="rgba(215,215,215,0.85)"/>
<circle cx="627" cy="113.98" r="1.3" fill="rgba(215,215,215,0.85)"/>
<circle cx="630.4" cy="113.98" r="1.3" fill="rgba(215,215,215,0.85)"/>
<rect x="635.7" y="112.94" width="12.2" height="1.56" fill="#f2c0a0"/>
<circle cx="638.4" cy="112.94" r="1.3" fill="rgba(215,215,215,0.85)"/>
<circle cx="641.8" cy="112.94" r="1.3" fill="rgba(215,215,215,0.85)"/>
<circle cx="645.2" cy="112.94" r="1.3" fill="rgba(215,215,215,0.85)"/>
<rect x="649.9" y="87.25" width="12.2" height="27.25" fill="#17979b"/>
<circle cx="656" cy="85.65" r="1.5" fill="rgba(225,225,225,0.75)" stroke="rgba(200,200,200,0.9)" stroke-width="0.4"/>
<circle cx="656" cy="88.25" r="1.5" fill="rgba(225,225,225,0.75)" stroke="rgba(200,200,200,0.9)" stroke-width="0.4"/>
<circle cx="656" cy="90.45" r="1.5" fill="rgba(225,225,225,0.75)" stroke="rgba(200,200,200,0.9)" stroke-width="0.4"/>
<rect x="664.3" y="57.72" width="12.2" height="56.78" fill="#ee7d3f"/>
<circle cx="670.4" cy="56.12" r="1.5" fill="rgba(225,225,225,0.75)" stroke="rgba(200,200,200,0.9)" stroke-width="0.4"/>
<circle cx="670.4" cy="58.72" r="1.5" fill="rgba(225,225,225,0.75)" stroke="rgba(200,200,200,0.9)" stroke-width="0.4"/>
<circle cx="670.4" cy="60.92" r="1.5" fill="rgba(225,225,225,0.75)" stroke="rgba(200,200,200,0.9)" stroke-width="0.4"/>
<line x1="656" y1="87.25" x2="656" y2="84.76" stroke="#ddd" stroke-width="0.8"/>
<line x1="653.5" y1="84.76" x2="658.5" y2="84.76" stroke="#ddd" stroke-width="0.8"/>
<line x1="670.4" y1="57.72" x2="670.4" y2="54.6" stroke="#ddd" stroke-width="0.8"/>
<line x1="667.9" y1="54.6" x2="672.9" y2="54.6" stroke="#ddd" stroke-width="0.8"/>
<path d="M655.7 82 L655.7 43 L670.1 43 L670.1 49.4" fill="none" stroke="#444" stroke-width="0.7"/>
<text x="662.8" y="40.2" text-anchor="middle" stroke="#000" stroke-width="0.22" font-size="9">***</text>
<text x="563.2" y="66.9" text-anchor="middle" stroke="#000" stroke-width="0.22" font-size="10.35" transform="rotate(-90 563.2 66.9)">% of apoptotic cells</text>
<text x="592.3" y="129.3" text-anchor="end" stroke="#000" stroke-width="0.22">Ac-DEVD-AFC</text>
<text x="592.3" y="140.5" text-anchor="end" stroke="#000" stroke-width="0.22">shTLK2</text>
<text x="592.3" y="152.1" text-anchor="end" stroke="#000" stroke-width="0.22">PBMC</text>
<text x="598.5" y="129.3" text-anchor="middle" stroke="#000" stroke-width="0.22">-</text>
<text x="598.5" y="140.5" text-anchor="middle" stroke="#000" stroke-width="0.22">-</text>
<text x="598.5" y="152.1" text-anchor="middle" stroke="#000" stroke-width="0.22">-</text>
<text x="612.8" y="129.3" text-anchor="middle" stroke="#000" stroke-width="0.22">-</text>
<text x="612.8" y="140.5" text-anchor="middle" stroke="#000" stroke-width="0.22">+</text>
<text x="612.8" y="152.1" text-anchor="middle" stroke="#000" stroke-width="0.22">-</text>
<text x="627" y="129.3" text-anchor="middle" stroke="#000" stroke-width="0.22">+</text>
<text x="627" y="140.5" text-anchor="middle" stroke="#000" stroke-width="0.22">-</text>
<text x="627" y="152.1" text-anchor="middle" stroke="#000" stroke-width="0.22">-</text>
<text x="641.8" y="129.3" text-anchor="middle" stroke="#000" stroke-width="0.22">+</text>
<text x="641.8" y="140.5" text-anchor="middle" stroke="#000" stroke-width="0.22">+</text>
<text x="641.8" y="152.1" text-anchor="middle" stroke="#000" stroke-width="0.22">-</text>
<text x="656" y="129.3" text-anchor="middle" stroke="#000" stroke-width="0.22">+</text>
<text x="656" y="140.5" text-anchor="middle" stroke="#000" stroke-width="0.22">-</text>
<text x="656" y="152.1" text-anchor="middle" stroke="#000" stroke-width="0.22">+</text>
<text x="670.4" y="129.3" text-anchor="middle" stroke="#000" stroke-width="0.22">+</text>
<text x="670.4" y="140.5" text-anchor="middle" stroke="#000" stroke-width="0.22">+</text>
<text x="670.4" y="152.1" text-anchor="middle" stroke="#000" stroke-width="0.22">+</text>
<line x1="605.6" y1="121" x2="605.6" y2="152.5" stroke="#222" stroke-width="0.7"/>
<line x1="620" y1="121" x2="620" y2="152.5" stroke="#b0b0b0" stroke-width="1"/>
<line x1="634.3" y1="121" x2="634.3" y2="152.5" stroke="#222" stroke-width="0.7"/>
<line x1="648.9" y1="121" x2="648.9" y2="152.5" stroke="#b0b0b0" stroke-width="1"/>
<line x1="663.2" y1="121" x2="663.2" y2="152.5" stroke="#222" stroke-width="0.7"/>
<line x1="677" y1="121" x2="677" y2="152.5" stroke="#b0b0b0" stroke-width="1"/>
<text x="-0.6" y="196.3" font-weight="bold" font-size="15" stroke="#000" stroke-width="0.9">d</text>
<rect x="20.3" y="190.8" width="235.6" height="136" fill="none" stroke="#e2e2e2" stroke-width="0.8"/>
<text x="29" y="216.6" fill="#3a3a3a" stroke="#3a3a3a" stroke-width="0.22" font-size="9.6">shTLK2</text>
<text x="29" y="227.5" fill="#3a3a3a" stroke="#3a3a3a" stroke-width="0.22" font-size="9.6">-mCherry</text>
<text x="107" y="222.6" fill="#3a3a3a" stroke="#3a3a3a" stroke-width="0.22" font-size="9.6">shCtrl</text>
<text x="107" y="233.6" fill="#3a3a3a" stroke="#3a3a3a" stroke-width="0.22" font-size="9.6">-GFP</text>
<g transform="translate(88.2 212)"><path d="M-4.3 -5.5 L-5.1 -9.6 M4.3 -5.5 L5.1 -9.6 M-4.4 6.5 L-5.3 10 M4.4 6.5 L5.3 10" stroke="#d8a060" stroke-width="1.2" fill="none"/><path d="M0 -10.4 C3.6 -10.4 5.5 -3 5.5 2.4 C5.5 6.6 3 8.7 0 8.7 C-3 8.7 -5.5 6.6 -5.5 2.4 C-5.5 -3 -3.6 -10.4 0 -10.4 Z" fill="#847970"/><path d="M-2.9 -10.7 L2.9 -10.7 L0.8 -9.6 L0 -8.6 L-0.8 -9.6 Z" fill="#4a4440"/><path d="M0 8.6 Q0.6 11 -0.3 12.8 Q-0.6 14 0.1 15" stroke="#dcb48a" stroke-width="0.7" fill="none"/><rect x="-2.9" y="4" width="1.6" height="1.9" fill="#f2c200"/><rect x="1.4" y="3.9" width="1.9" height="2" fill="#f2c200"/></g>
<g transform="translate(152.6 212)"><path d="M-4.3 -5.5 L-5.1 -9.6 M4.3 -5.5 L5.1 -9.6 M-4.4 6.5 L-5.3 10 M4.4 6.5 L5.3 10" stroke="#d8a060" stroke-width="1.2" fill="none"/><path d="M0 -10.4 C3.6 -10.4 5.5 -3 5.5 2.4 C5.5 6.6 3 8.7 0 8.7 C-3 8.7 -5.5 6.6 -5.5 2.4 C-5.5 -3 -3.6 -10.4 0 -10.4 Z" fill="#847970"/><path d="M-2.9 -10.7 L2.9 -10.7 L0.8 -9.6 L0 -8.6 L-0.8 -9.6 Z" fill="#4a4440"/><path d="M0 8.6 Q0.6 11 -0.3 12.8 Q-0.6 14 0.1 15" stroke="#dcb48a" stroke-width="0.7" fill="none"/><rect x="-2.9" y="4" width="1.6" height="1.9" fill="#f2c200"/><rect x="1.4" y="3.9" width="1.9" height="2" fill="#f2c200"/></g>
<g transform="translate(212.4 211.8)"><path d="M-4.3 -5.5 L-5.1 -9.6 M4.3 -5.5 L5.1 -9.6 M-4.4 6.5 L-5.3 10 M4.4 6.5 L5.3 10" stroke="#d8a060" stroke-width="1.2" fill="none"/><path d="M0 -10.4 C3.6 -10.4 5.5 -3 5.5 2.4 C5.5 6.6 3 8.7 0 8.7 C-3 8.7 -5.5 6.6 -5.5 2.4 C-5.5 -3 -3.6 -10.4 0 -10.4 Z" fill="#847970"/><path d="M-2.9 -10.7 L2.9 -10.7 L0.8 -9.6 L0 -8.6 L-0.8 -9.6 Z" fill="#4a4440"/><path d="M0 8.6 Q0.6 11 -0.3 12.8 Q-0.6 14 0.1 15" stroke="#dcb48a" stroke-width="0.7" fill="none"/><ellipse cx="0" cy="-4" rx="2.5" ry="2.9" fill="#f4efee"/><path d="M-0.9 -5.5 L-1.2 -2.6 M0.9 -5.5 L1.2 -2.6" stroke="#c9a0a0" stroke-width="0.5"/></g>
<path d="M78.6 220.8 L76.2 223.6" fill="none" stroke="#5aa6dc" stroke-width="0.9"/>
<path d="M97.8 220.8 L100.2 223.6" fill="none" stroke="#5aa6dc" stroke-width="0.9"/>
<path d="M81.8 217.6 L78.8 220.6" fill="none" stroke="#f2a090" stroke-width="1.3"/>
<path d="M94.6 217.6 L97.6 220.6" fill="none" stroke="#f2a090" stroke-width="1.3"/>
<rect x="73" y="225" width="1.6" height="1.1" fill="#b04050"/>
<rect x="75.5" y="226.5" width="1.6" height="1.1" fill="#b04050"/>
<rect x="77.5" y="224.5" width="1.6" height="1.1" fill="#b04050"/>
<rect x="72" y="228" width="1.6" height="1.1" fill="#b04050"/>
<rect x="75" y="229.5" width="1.6" height="1.1" fill="#b04050"/>
<rect x="77" y="228" width="1.6" height="1.1" fill="#b04050"/>
<rect x="74" y="231.5" width="1.6" height="1.1" fill="#b04050"/>
<rect x="97" y="225.5" width="1.8" height="1.1" fill="#3a9a98"/>
<rect x="99.5" y="227" width="1.8" height="1.1" fill="#3a9a98"/>
<rect x="101.5" y="225" width="1.8" height="1.1" fill="#3a9a98"/>
<rect x="98" y="229" width="1.8" height="1.1" fill="#3a9a98"/>
<rect x="100.5" y="229.5" width="1.8" height="1.1" fill="#3a9a98"/>
<rect x="102.5" y="227.5" width="1.8" height="1.1" fill="#3a9a98"/>
<line x1="102" y1="207.4" x2="134.5" y2="207.4" stroke="#b8b8b8" stroke-width="0.8"/>
<path d="M132.5 205.6 L136 207.4 L132.5 209.2" fill="none" stroke="#b8b8b8" stroke-width="0.8"/>
<line x1="168" y1="208.2" x2="201" y2="208.2" stroke="#b8b8b8" stroke-width="0.8"/>
<path d="M199 206.4 L202.5 208.2 L199 210" fill="none" stroke="#b8b8b8" stroke-width="0.8"/>
<path d="M146.4 216.9 Q141.6 213.5 141.4 205.6" fill="none" stroke="#b0b0b0" stroke-width="0.8"/>
<path d="M139.9 206.6 L141.4 203.8 L142.9 206.6 Z" fill="#b0b0b0"/>
<path d="M158.8 216.9 Q163.6 213.5 163.8 205.6" fill="none" stroke="#b0b0b0" stroke-width="0.8"/>
<path d="M162.3 206.6 L163.8 203.8 L165.3 206.6 Z" fill="#b0b0b0"/>
<path d="M221 211.5 Q226 207 232 205" fill="none" stroke="#b8b8b8" stroke-width="0.8"/>
<path d="M230 203.5 L233.5 204.6 L231 207" fill="none" stroke="#b8b8b8" stroke-width="0.7"/>
<rect x="234.3" y="198.8" width="10.5" height="6.3" fill="#d6cde8" stroke="#c0b4d8" stroke-width="0.4"/>
<path d="M236.5 202 L238 200.5 L240 203 L242 200.8 M237.5 204 L240 201.8 L242.5 203.8" fill="none" stroke="#6f7fa8" stroke-width="0.6"/>
<line x1="38.3" y1="241.3" x2="242.2" y2="241.3" stroke="#c8c8c8" stroke-width="0.8" stroke-dasharray="2.6,2.4"/>
<text x="24" y="255.1" fill="#3a3a3a" stroke="#3a3a3a" stroke-width="0.22" font-size="8.9">Mammary fat pads</text>
<text x="24" y="265.2" fill="#3a3a3a" stroke="#3a3a3a" stroke-width="0.22" font-size="8.9">bilateral injection</text>
<text x="116" y="255.1" fill="#3a3a3a" stroke="#3a3a3a" stroke-width="0.22" font-size="8.9">Primary tumor</text>
<text x="116" y="265.2" fill="#3a3a3a" stroke="#3a3a3a" stroke-width="0.22" font-size="8.9">resection</text>
<text x="185.6" y="255.1" fill="#3a3a3a" stroke="#3a3a3a" stroke-width="0.22" font-size="8.9">Metastatic tumor</text>
<text x="220" y="265.2" text-anchor="middle" fill="#3a3a3a" stroke="#3a3a3a" stroke-width="0.22" font-size="8.9">evaluation</text>
<circle cx="42.6" cy="277.6" r="4.3" fill="#fff" stroke="#333" stroke-width="0.55"/>
<text x="42.6" y="280.8" text-anchor="middle" fill="#222" stroke="#222" stroke-width="0.22" font-size="8.5" font-family="Liberation Serif">1</text>
<line x1="42.6" y1="284.3" x2="42.6" y2="289.8" stroke="#111" stroke-width="0.8"/>
<path d="M41 288.3 L42.6 291.2 L44.2 288.3 Z" fill="#111"/>
<circle cx="146.28" cy="277.6" r="4.3" fill="#fff" stroke="#333" stroke-width="0.55"/>
<text x="146.28" y="280.8" text-anchor="middle" fill="#222" stroke="#222" stroke-width="0.22" font-size="8.5" font-family="Liberation Serif">2</text>
<line x1="146.28" y1="284.3" x2="146.28" y2="289.8" stroke="#111" stroke-width="0.8"/>
<path d="M144.68 288.3 L146.28 291.2 L147.88 288.3 Z" fill="#111"/>
<circle cx="215.4" cy="277.6" r="4.3" fill="#fff" stroke="#333" stroke-width="0.55"/>
<text x="215.4" y="280.8" text-anchor="middle" fill="#222" stroke="#222" stroke-width="0.22" font-size="8.5" font-family="Liberation Serif">3</text>
<line x1="215.4" y1="284.3" x2="215.4" y2="289.8" stroke="#111" stroke-width="0.8"/>
<path d="M213.8 288.3 L215.4 291.2 L217 288.3 Z" fill="#111"/>
<line x1="41.6" y1="295.7" x2="226" y2="295.7" stroke="#c4c4c4" stroke-width="1.4"/>
<path d="M222.5 292.3 L228.3 295.6 L222.5 298.9" fill="none" stroke="#bdbdbd" stroke-width="1"/>
<line x1="42.6" y1="292.3" x2="42.6" y2="295.6" stroke="#c4c4c4" stroke-width="0.6"/>
<line x1="48.36" y1="292.3" x2="48.36" y2="295.6" stroke="#c4c4c4" stroke-width="0.6"/>
<line x1="54.12" y1="292.3" x2="54.12" y2="295.6" stroke="#c4c4c4" stroke-width="0.6"/>
<line x1="59.88" y1="292.3" x2="59.88" y2="295.6" stroke="#c4c4c4" stroke-width="0.6"/>
<line x1="65.64" y1="292.3" x2="65.64" y2="295.6" stroke="#c4c4c4" stroke-width="0.6"/>
<line x1="71.4" y1="292.3" x2="71.4" y2="295.6" stroke="#c4c4c4" stroke-width="0.6"/>
<line x1="77.16" y1="292.3" x2="77.16" y2="295.6" stroke="#c4c4c4" stroke-width="0.6"/>
<line x1="82.92" y1="292.3" x2="82.92" y2="295.6" stroke="#c4c4c4" stroke-width="0.6"/>
<line x1="88.68" y1="292.3" x2="88.68" y2="295.6" stroke="#c4c4c4" stroke-width="0.6"/>
<line x1="94.44" y1="292.3" x2="94.44" y2="295.6" stroke="#c4c4c4" stroke-width="0.6"/>
<line x1="100.2" y1="292.3" x2="100.2" y2="295.6" stroke="#c4c4c4" stroke-width="0.6"/>
<line x1="105.96" y1="292.3" x2="105.96" y2="295.6" stroke="#c4c4c4" stroke-width="0.6"/>
<line x1="111.72" y1="292.3" x2="111.72" y2="295.6" stroke="#c4c4c4" stroke-width="0.6"/>
<line x1="117.48" y1="292.3" x2="117.48" y2="295.6" stroke="#c4c4c4" stroke-width="0.6"/>
<line x1="123.24" y1="292.3" x2="123.24" y2="295.6" stroke="#c4c4c4" stroke-width="0.6"/>
<line x1="129" y1="292.3" x2="129" y2="295.6" stroke="#c4c4c4" stroke-width="0.6"/>
<line x1="134.76" y1="292.3" x2="134.76" y2="295.6" stroke="#c4c4c4" stroke-width="0.6"/>
<line x1="140.52" y1="292.3" x2="140.52" y2="295.6" stroke="#c4c4c4" stroke-width="0.6"/>
<line x1="146.28" y1="292.3" x2="146.28" y2="295.6" stroke="#c4c4c4" stroke-width="0.6"/>
<line x1="152.04" y1="292.3" x2="152.04" y2="295.6" stroke="#c4c4c4" stroke-width="0.6"/>
<line x1="157.8" y1="292.3" x2="157.8" y2="295.6" stroke="#c4c4c4" stroke-width="0.6"/>
<line x1="163.56" y1="292.3" x2="163.56" y2="295.6" stroke="#c4c4c4" stroke-width="0.6"/>
<line x1="169.32" y1="292.3" x2="169.32" y2="295.6" stroke="#c4c4c4" stroke-width="0.6"/>
<line x1="175.08" y1="292.3" x2="175.08" y2="295.6" stroke="#c4c4c4" stroke-width="0.6"/>
<line x1="180.84" y1="292.3" x2="180.84" y2="295.6" stroke="#c4c4c4" stroke-width="0.6"/>
<line x1="186.6" y1="292.3" x2="186.6" y2="295.6" stroke="#c4c4c4" stroke-width="0.6"/>
<line x1="192.36" y1="292.3" x2="192.36" y2="295.6" stroke="#c4c4c4" stroke-width="0.6"/>
<line x1="198.12" y1="292.3" x2="198.12" y2="295.6" stroke="#c4c4c4" stroke-width="0.6"/>
<line x1="203.88" y1="292.3" x2="203.88" y2="295.6" stroke="#c4c4c4" stroke-width="0.6"/>
<line x1="209.64" y1="292.3" x2="209.64" y2="295.6" stroke="#c4c4c4" stroke-width="0.6"/>
<line x1="215.4" y1="292.3" x2="215.4" y2="295.6" stroke="#c4c4c4" stroke-width="0.6"/>
<path d="M70.6 282.8 L74.2 282.8 L72.4 286.1 Z" fill="#17979b"/>
<path d="M87.8 282.8 L91.4 282.8 L89.6 286.1 Z" fill="#17979b"/>
<path d="M105.2 282.8 L108.8 282.8 L107 286.1 Z" fill="#17979b"/>
<path d="M122.2 282.8 L125.8 282.8 L124 286.1 Z" fill="#17979b"/>
<text x="42.6" y="305.7" text-anchor="middle" fill="#3a3a3a" stroke="#3a3a3a" stroke-width="0.22" font-size="9">0</text>
<text x="65.64" y="305.7" text-anchor="middle" fill="#3a3a3a" stroke="#3a3a3a" stroke-width="0.22" font-size="9">4</text>
<text x="88.68" y="305.7" text-anchor="middle" fill="#3a3a3a" stroke="#3a3a3a" stroke-width="0.22" font-size="9">8</text>
<text x="111.72" y="305.7" text-anchor="middle" fill="#3a3a3a" stroke="#3a3a3a" stroke-width="0.22" font-size="9">12</text>
<text x="134.76" y="305.7" text-anchor="middle" fill="#3a3a3a" stroke="#3a3a3a" stroke-width="0.22" font-size="9">16</text>
<text x="157.8" y="305.7" text-anchor="middle" fill="#3a3a3a" stroke="#3a3a3a" stroke-width="0.22" font-size="9">20</text>
<text x="180.84" y="305.7" text-anchor="middle" fill="#3a3a3a" stroke="#3a3a3a" stroke-width="0.22" font-size="9">24</text>
<text x="203.88" y="305.7" text-anchor="middle" fill="#3a3a3a" stroke="#3a3a3a" stroke-width="0.22" font-size="9">28</text>
<text x="219.5" y="305.7" fill="#3a3a3a" stroke="#3a3a3a" stroke-width="0.22" font-size="9">day</text>
<path d="M39.9 315.8 L46.8 318.7 L39.9 321.6 Z" fill="#17979b"/>
<text x="51.6" y="321.4" fill="#3a3a3a" stroke="#3a3a3a" stroke-width="0.22" font-size="9.7">anti-PD-L1 or anti-IgG2b (isotype)</text>
<line x1="321" y1="225.2" x2="321" y2="302.2" stroke="#7a7a7a" stroke-width="1.1"/>
<line x1="321" y1="302.2" x2="459" y2="302.2" stroke="#7a7a7a" stroke-width="1.1"/>
<line x1="318.8" y1="302.2" x2="321" y2="302.2" stroke="#000" stroke-width="0.6"/>
<text x="318.4" y="305.8" text-anchor="end" stroke="#000" stroke-width="0.22">0</text>
<line x1="319.7" y1="291.55" x2="321" y2="291.55" stroke="#000" stroke-width="0.6"/>
<line x1="318.8" y1="280.9" x2="321" y2="280.9" stroke="#000" stroke-width="0.6"/>
<text x="318.4" y="284.5" text-anchor="end" stroke="#000" stroke-width="0.22">500</text>
<line x1="319.7" y1="270.25" x2="321" y2="270.25" stroke="#000" stroke-width="0.6"/>
<line x1="318.8" y1="259.6" x2="321" y2="259.6" stroke="#000" stroke-width="0.6"/>
<text x="318.4" y="263.2" text-anchor="end" stroke="#000" stroke-width="0.22">1000</text>
<line x1="319.7" y1="248.95" x2="321" y2="248.95" stroke="#000" stroke-width="0.6"/>
<line x1="318.8" y1="238.3" x2="321" y2="238.3" stroke="#000" stroke-width="0.6"/>
<text x="318.4" y="241.9" text-anchor="end" stroke="#000" stroke-width="0.22">1500</text>
<line x1="319.7" y1="227.65" x2="321" y2="227.65" stroke="#000" stroke-width="0.6"/>
<line x1="330.2" y1="302.2" x2="330.2" y2="304.2" stroke="#000" stroke-width="0.6"/>
<text x="330.2" y="317.6" text-anchor="middle" stroke="#000" stroke-width="0.22">0</text>
<line x1="347.4" y1="302.2" x2="347.4" y2="304.2" stroke="#000" stroke-width="0.6"/>
<text x="347.4" y="317.6" text-anchor="middle" stroke="#000" stroke-width="0.22">3</text>
<line x1="364.6" y1="302.2" x2="364.6" y2="304.2" stroke="#000" stroke-width="0.6"/>
<text x="364.6" y="317.6" text-anchor="middle" stroke="#000" stroke-width="0.22">6</text>
<line x1="381.8" y1="302.2" x2="381.8" y2="304.2" stroke="#000" stroke-width="0.6"/>
<text x="381.8" y="317.6" text-anchor="middle" stroke="#000" stroke-width="0.22">9</text>
<line x1="399" y1="302.2" x2="399" y2="304.2" stroke="#000" stroke-width="0.6"/>
<text x="399" y="317.6" text-anchor="middle" stroke="#000" stroke-width="0.22">12</text>
<line x1="416.2" y1="302.2" x2="416.2" y2="304.2" stroke="#000" stroke-width="0.6"/>
<text x="416.2" y="317.6" text-anchor="middle" stroke="#000" stroke-width="0.22">15</text>
<line x1="433.4" y1="302.2" x2="433.4" y2="304.2" stroke="#000" stroke-width="0.6"/>
<text x="433.4" y="317.6" text-anchor="middle" stroke="#000" stroke-width="0.22">18</text>
<text x="453.5" y="317.6" stroke="#000" stroke-width="0.22">day</text>
<text x="294" y="269.5" text-anchor="middle" transform="rotate(-90 294 269.5)">Tumor volume (mm<tspan font-size="6.5" dy="-3.5">3</tspan><tspan dy="3.5">)</tspan></text>
<path d="M330.2 300 L347.4 298 L364.6 293 L381.8 290.4 L399 291.7 L416.2 293.5 L433.4 293.5" fill="none" stroke="#ee7d3f" stroke-width="0.9"/>
<line x1="416.2" y1="293.5" x2="416.2" y2="288.2" stroke="#ee7d3f" stroke-width="0.8"/>
<line x1="413.8" y1="288.2" x2="418.6" y2="288.2" stroke="#ee7d3f" stroke-width="0.8"/>
<line x1="433.4" y1="293.5" x2="433.4" y2="285.6" stroke="#ee7d3f" stroke-width="0.8"/>
<line x1="431" y1="285.6" x2="435.8" y2="285.6" stroke="#ee7d3f" stroke-width="0.8"/>
<circle cx="330.2" cy="300" r="2.4" fill="#fff" stroke="#ee7d3f" stroke-width="0.8"/>
<circle cx="347.4" cy="298" r="2.4" fill="#fff" stroke="#ee7d3f" stroke-width="0.8"/>
<circle cx="364.6" cy="293" r="2.4" fill="#fff" stroke="#ee7d3f" stroke-width="0.8"/>
<circle cx="381.8" cy="290.4" r="2.4" fill="#fff" stroke="#ee7d3f" stroke-width="0.8"/>
<circle cx="399" cy="291.7" r="2.4" fill="#fff" stroke="#ee7d3f" stroke-width="0.8"/>
<circle cx="416.2" cy="293.5" r="2.4" fill="#fff" stroke="#ee7d3f" stroke-width="0.8"/>
<circle cx="433.4" cy="293.5" r="2.4" fill="#fff" stroke="#ee7d3f" stroke-width="0.8"/>
<path d="M330.2 299.5 L347.4 296.2 L364.6 290.5 L381.8 287.5 L399 283 L416.2 276.7 L433.4 272.5" fill="none" stroke="#ee7d3f" stroke-width="0.9"/>
<line x1="399" y1="283" x2="399" y2="278" stroke="#ee7d3f" stroke-width="0.8"/>
<line x1="396.6" y1="278" x2="401.4" y2="278" stroke="#ee7d3f" stroke-width="0.8"/>
<path d="M327.6 301.5 L330.2 297 L332.8 301.5 Z" fill="#fff" stroke="#ee7d3f" stroke-width="0.8"/>
<path d="M344.8 298.2 L347.4 293.7 L350 298.2 Z" fill="#fff" stroke="#ee7d3f" stroke-width="0.8"/>
<path d="M362 292.5 L364.6 288 L367.2 292.5 Z" fill="#fff" stroke="#ee7d3f" stroke-width="0.8"/>
<path d="M379.2 289.5 L381.8 285 L384.4 289.5 Z" fill="#fff" stroke="#ee7d3f" stroke-width="0.8"/>
<path d="M396.4 285 L399 280.5 L401.6 285 Z" fill="#fff" stroke="#ee7d3f" stroke-width="0.8"/>
<path d="M413.6 278.7 L416.2 274.2 L418.8 278.7 Z" fill="#fff" stroke="#ee7d3f" stroke-width="0.8"/>
<path d="M430.8 274.5 L433.4 270 L436 274.5 Z" fill="#fff" stroke="#ee7d3f" stroke-width="0.8"/>
<path d="M330.2 299.5 L347.4 295.5 L364.6 290 L381.8 287.2 L399 282.5 L416.2 270.6 L433.4 265.4" fill="none" stroke="#17979b" stroke-width="0.9"/>
<line x1="364.6" y1="290" x2="364.6" y2="288" stroke="#17979b" stroke-width="0.8"/>
<line x1="362.2" y1="288" x2="367" y2="288" stroke="#17979b" stroke-width="0.8"/>
<line x1="433.4" y1="265.4" x2="433.4" y2="256.2" stroke="#17979b" stroke-width="0.8"/>
<line x1="431" y1="256.2" x2="435.8" y2="256.2" stroke="#17979b" stroke-width="0.8"/>
<circle cx="330.2" cy="299.5" r="2.4" fill="#fff" stroke="#17979b" stroke-width="0.8"/>
<circle cx="347.4" cy="295.5" r="2.4" fill="#fff" stroke="#17979b" stroke-width="0.8"/>
<circle cx="364.6" cy="290" r="2.4" fill="#fff" stroke="#17979b" stroke-width="0.8"/>
<circle cx="381.8" cy="287.2" r="2.4" fill="#fff" stroke="#17979b" stroke-width="0.8"/>
<circle cx="399" cy="282.5" r="2.4" fill="#fff" stroke="#17979b" stroke-width="0.8"/>
<circle cx="416.2" cy="270.6" r="2.4" fill="#fff" stroke="#17979b" stroke-width="0.8"/>
<circle cx="433.4" cy="265.4" r="2.4" fill="#fff" stroke="#17979b" stroke-width="0.8"/>
<path d="M330.2 299.5 L347.4 294.8 L364.6 289 L381.8 282.5 L399 272 L416.2 256.7 L433.4 250.4" fill="none" stroke="#17979b" stroke-width="0.9"/>
<line x1="347.4" y1="294.8" x2="347.4" y2="291.4" stroke="#17979b" stroke-width="0.8"/>
<line x1="345" y1="291.4" x2="349.8" y2="291.4" stroke="#17979b" stroke-width="0.8"/>
<line x1="364.6" y1="289" x2="364.6" y2="285.1" stroke="#17979b" stroke-width="0.8"/>
<line x1="362.2" y1="285.1" x2="367" y2="285.1" stroke="#17979b" stroke-width="0.8"/>
<line x1="381.8" y1="282.5" x2="381.8" y2="267.2" stroke="#17979b" stroke-width="0.8"/>
<line x1="379.4" y1="267.2" x2="384.2" y2="267.2" stroke="#17979b" stroke-width="0.8"/>
<line x1="399" y1="272" x2="399" y2="257.5" stroke="#17979b" stroke-width="0.8"/>
<line x1="396.6" y1="257.5" x2="401.4" y2="257.5" stroke="#17979b" stroke-width="0.8"/>
<line x1="416.2" y1="256.7" x2="416.2" y2="233.9" stroke="#17979b" stroke-width="0.8"/>
<line x1="413.8" y1="233.9" x2="418.6" y2="233.9" stroke="#17979b" stroke-width="0.8"/>
<line x1="433.4" y1="250.4" x2="433.4" y2="231.8" stroke="#17979b" stroke-width="0.8"/>
<line x1="431" y1="231.8" x2="435.8" y2="231.8" stroke="#17979b" stroke-width="0.8"/>
<path d="M327.6 301.5 L330.2 297 L332.8 301.5 Z" fill="#fff" stroke="#17979b" stroke-width="0.8"/>
<path d="M344.8 296.8 L347.4 292.3 L350 296.8 Z" fill="#fff" stroke="#17979b" stroke-width="0.8"/>
<path d="M362 291 L364.6 286.5 L367.2 291 Z" fill="#fff" stroke="#17979b" stroke-width="0.8"/>
<path d="M379.2 284.5 L381.8 280 L384.4 284.5 Z" fill="#fff" stroke="#17979b" stroke-width="0.8"/>
<path d="M396.4 274 L399 269.5 L401.6 274 Z" fill="#fff" stroke="#17979b" stroke-width="0.8"/>
<path d="M413.6 258.7 L416.2 254.2 L418.8 258.7 Z" fill="#fff" stroke="#17979b" stroke-width="0.8"/>
<path d="M430.8 252.4 L433.4 247.9 L436 252.4 Z" fill="#fff" stroke="#17979b" stroke-width="0.8"/>
<line x1="329.1" y1="197.5" x2="343.1" y2="197.5" stroke="#17979b" stroke-width="0.9"/>
<path d="M333.9 199.2 L336.1 195.4 L338.3 199.2 Z" fill="#fff" stroke="#17979b" stroke-width="0.8"/>
<text x="346.6" y="200.9" stroke="#000" stroke-width="0.22" font-size="9.5">shCtrl</text>
<line x1="329.1" y1="207.9" x2="343.1" y2="207.9" stroke="#ee7d3f" stroke-width="0.9"/>
<path d="M333.9 209.6 L336.1 205.8 L338.3 209.6 Z" fill="#fff" stroke="#ee7d3f" stroke-width="0.8"/>
<text x="346.6" y="211.1" stroke="#000" stroke-width="0.22" font-size="9.5">shTLK2</text>
<line x1="329.1" y1="221.2" x2="343.1" y2="221.2" stroke="#17979b" stroke-width="0.9"/>
<circle cx="336.1" cy="221.2" r="2" fill="#fff" stroke="#17979b" stroke-width="0.8"/>
<text x="346.6" y="223.9" stroke="#000" stroke-width="0.22" font-size="9.5">shCtrl</text>
<line x1="329.1" y1="232" x2="343.1" y2="232" stroke="#ee7d3f" stroke-width="0.9"/>
<circle cx="336.1" cy="232" r="2" fill="#fff" stroke="#ee7d3f" stroke-width="0.8"/>
<text x="346.6" y="234" stroke="#000" stroke-width="0.22" font-size="9.5">shTLK2</text>
<line x1="383.2" y1="196" x2="383.2" y2="210.4" stroke="#333" stroke-width="0.7"/>
<text x="386" y="204.7" stroke="#000" stroke-width="0.22" font-size="9.8">isotype</text>
<line x1="383.2" y1="216.5" x2="383.2" y2="228.8" stroke="#333" stroke-width="0.7"/>
<text x="386.4" y="224.4" stroke="#000" stroke-width="0.22" font-size="9.8">anti-PD-L1</text>
<path d="M439.3 250.4 L464.2 250.4 L464.2 293.5 L439.3 293.5" fill="none" stroke="#333" stroke-width="0.6"/>
<path d="M439.3 265.4 L455 265.4 L455 293.5" fill="none" stroke="#333" stroke-width="0.6"/>
<path d="M439.3 272.5 L445.8 272.5 L445.8 293.5" fill="none" stroke="#333" stroke-width="0.6"/>
<text x="467.4" y="270.6" text-anchor="middle" stroke="#000" stroke-width="0.22" font-size="9" transform="rotate(90 467.4 270.6)">***</text>
<text x="458.8" y="278.5" text-anchor="middle" stroke="#000" stroke-width="0.22" font-size="9" transform="rotate(90 458.8 278.5)">**</text>
<text x="450.8" y="281" text-anchor="middle" stroke="#000" stroke-width="0.22" font-size="9" transform="rotate(90 450.8 281)">*</text>
<rect x="559.2" y="206.9" width="115.8" height="96.6" fill="#ebe8ea"/>
<rect x="559.2" y="295.8" width="115.8" height="7.7" fill="#eee6e7"/>
<line x1="560" y1="296" x2="560" y2="299.5" stroke="#e2b8bc" stroke-width="0.4"/>
<line x1="562" y1="296" x2="562" y2="298.2" stroke="#e2b8bc" stroke-width="0.4"/>
<line x1="564" y1="296" x2="564" y2="298.2" stroke="#e2b8bc" stroke-width="0.4"/>
<line x1="566" y1="296" x2="566" y2="298.2" stroke="#e2b8bc" stroke-width="0.4"/>
<line x1="568" y1="296" x2="568" y2="298.2" stroke="#e2b8bc" stroke-width="0.4"/>
<line x1="570" y1="296" x2="570" y2="299.5" stroke="#e2b8bc" stroke-width="0.4"/>
<line x1="572" y1="296" x2="572" y2="298.2" stroke="#e2b8bc" stroke-width="0.4"/>
<line x1="574" y1="296" x2="574" y2="298.2" stroke="#e2b8bc" stroke-width="0.4"/>
<line x1="576" y1="296" x2="576" y2="298.2" stroke="#e2b8bc" stroke-width="0.4"/>
<line x1="578" y1="296" x2="578" y2="298.2" stroke="#e2b8bc" stroke-width="0.4"/>
<line x1="580" y1="296" x2="580" y2="299.5" stroke="#e2b8bc" stroke-width="0.4"/>
<line x1="582" y1="296" x2="582" y2="298.2" stroke="#e2b8bc" stroke-width="0.4"/>
<line x1="584" y1="296" x2="584" y2="298.2" stroke="#e2b8bc" stroke-width="0.4"/>
<line x1="586" y1="296" x2="586" y2="298.2" stroke="#e2b8bc" stroke-width="0.4"/>
<line x1="588" y1="296" x2="588" y2="298.2" stroke="#e2b8bc" stroke-width="0.4"/>
<line x1="590" y1="296" x2="590" y2="299.5" stroke="#e2b8bc" stroke-width="0.4"/>
<line x1="592" y1="296" x2="592" y2="298.2" stroke="#e2b8bc" stroke-width="0.4"/>
<line x1="594" y1="296" x2="594" y2="298.2" stroke="#e2b8bc" stroke-width="0.4"/>
<line x1="596" y1="296" x2="596" y2="298.2" stroke="#e2b8bc" stroke-width="0.4"/>
<line x1="598" y1="296" x2="598" y2="298.2" stroke="#e2b8bc" stroke-width="0.4"/>
<line x1="600" y1="296" x2="600" y2="299.5" stroke="#e2b8bc" stroke-width="0.4"/>
<line x1="602" y1="296" x2="602" y2="298.2" stroke="#e2b8bc" stroke-width="0.4"/>
<line x1="604" y1="296" x2="604" y2="298.2" stroke="#e2b8bc" stroke-width="0.4"/>
<line x1="606" y1="296" x2="606" y2="298.2" stroke="#e2b8bc" stroke-width="0.4"/>
<line x1="608" y1="296" x2="608" y2="298.2" stroke="#e2b8bc" stroke-width="0.4"/>
<line x1="610" y1="296" x2="610" y2="299.5" stroke="#e2b8bc" stroke-width="0.4"/>
<line x1="612" y1="296" x2="612" y2="298.2" stroke="#e2b8bc" stroke-width="0.4"/>
<line x1="614" y1="296" x2="614" y2="298.2" stroke="#e2b8bc" stroke-width="0.4"/>
<line x1="616" y1="296" x2="616" y2="298.2" stroke="#e2b8bc" stroke-width="0.4"/>
<line x1="618" y1="296" x2="618" y2="298.2" stroke="#e2b8bc" stroke-width="0.4"/>
<line x1="620" y1="296" x2="620" y2="299.5" stroke="#e2b8bc" stroke-width="0.4"/>
<line x1="622" y1="296" x2="622" y2="298.2" stroke="#e2b8bc" stroke-width="0.4"/>
<line x1="624" y1="296" x2="624" y2="298.2" stroke="#e2b8bc" stroke-width="0.4"/>
<line x1="626" y1="296" x2="626" y2="298.2" stroke="#e2b8bc" stroke-width="0.4"/>
<line x1="628" y1="296" x2="628" y2="298.2" stroke="#e2b8bc" stroke-width="0.4"/>
<line x1="630" y1="296" x2="630" y2="299.5" stroke="#e2b8bc" stroke-width="0.4"/>
<line x1="632" y1="296" x2="632" y2="298.2" stroke="#e2b8bc" stroke-width="0.4"/>
<line x1="634" y1="296" x2="634" y2="298.2" stroke="#e2b8bc" stroke-width="0.4"/>
<line x1="636" y1="296" x2="636" y2="298.2" stroke="#e2b8bc" stroke-width="0.4"/>
<line x1="638" y1="296" x2="638" y2="298.2" stroke="#e2b8bc" stroke-width="0.4"/>
<line x1="640" y1="296" x2="640" y2="299.5" stroke="#e2b8bc" stroke-width="0.4"/>
<line x1="642" y1="296" x2="642" y2="298.2" stroke="#e2b8bc" stroke-width="0.4"/>
<line x1="644" y1="296" x2="644" y2="298.2" stroke="#e2b8bc" stroke-width="0.4"/>
<line x1="646" y1="296" x2="646" y2="298.2" stroke="#e2b8bc" stroke-width="0.4"/>
<line x1="648" y1="296" x2="648" y2="298.2" stroke="#e2b8bc" stroke-width="0.4"/>
<line x1="650" y1="296" x2="650" y2="299.5" stroke="#e2b8bc" stroke-width="0.4"/>
<line x1="652" y1="296" x2="652" y2="298.2" stroke="#e2b8bc" stroke-width="0.4"/>
<line x1="654" y1="296" x2="654" y2="298.2" stroke="#e2b8bc" stroke-width="0.4"/>
<line x1="656" y1="296" x2="656" y2="298.2" stroke="#e2b8bc" stroke-width="0.4"/>
<line x1="658" y1="296" x2="658" y2="298.2" stroke="#e2b8bc" stroke-width="0.4"/>
<line x1="660" y1="296" x2="660" y2="299.5" stroke="#e2b8bc" stroke-width="0.4"/>
<line x1="662" y1="296" x2="662" y2="298.2" stroke="#e2b8bc" stroke-width="0.4"/>
<line x1="664" y1="296" x2="664" y2="298.2" stroke="#e2b8bc" stroke-width="0.4"/>
<line x1="666" y1="296" x2="666" y2="298.2" stroke="#e2b8bc" stroke-width="0.4"/>
<line x1="668" y1="296" x2="668" y2="298.2" stroke="#e2b8bc" stroke-width="0.4"/>
<line x1="670" y1="296" x2="670" y2="299.5" stroke="#e2b8bc" stroke-width="0.4"/>
<line x1="672" y1="296" x2="672" y2="298.2" stroke="#e2b8bc" stroke-width="0.4"/>
<line x1="674" y1="296" x2="674" y2="298.2" stroke="#e2b8bc" stroke-width="0.4"/>
<line x1="559.2" y1="296.2" x2="675" y2="296.2" stroke="#e6c4c7" stroke-width="0.4"/>
<line x1="559.2" y1="298.3" x2="675" y2="298.3" stroke="#e8cacd" stroke-width="0.3"/>
<text x="563" y="302.8" fill="#d8a0a6" stroke="#d8a0a6" stroke-width="0.22" font-size="3.6">0</text>
<text x="571" y="302.8" fill="#d8a0a6" stroke="#d8a0a6" stroke-width="0.22" font-size="3.6">1</text>
<text x="579" y="302.8" fill="#d8a0a6" stroke="#d8a0a6" stroke-width="0.22" font-size="3.6">2</text>
<text x="587" y="302.8" fill="#d8a0a6" stroke="#d8a0a6" stroke-width="0.22" font-size="3.6">3</text>
<text x="595" y="302.8" fill="#d8a0a6" stroke="#d8a0a6" stroke-width="0.22" font-size="3.6">4</text>
<text x="603" y="302.8" fill="#d8a0a6" stroke="#d8a0a6" stroke-width="0.22" font-size="3.6">5</text>
<text x="611" y="302.8" fill="#d8a0a6" stroke="#d8a0a6" stroke-width="0.22" font-size="3.6">6</text>
<text x="619" y="302.8" fill="#d8a0a6" stroke="#d8a0a6" stroke-width="0.22" font-size="3.6">7</text>
<text x="627" y="302.8" fill="#d8a0a6" stroke="#d8a0a6" stroke-width="0.22" font-size="3.6">8</text>
<text x="635" y="302.8" fill="#d8a0a6" stroke="#d8a0a6" stroke-width="0.22" font-size="3.6">9</text>
<text x="643" y="302.8" fill="#d8a0a6" stroke="#d8a0a6" stroke-width="0.22" font-size="3.6">0</text>
<text x="651" y="302.8" fill="#d8a0a6" stroke="#d8a0a6" stroke-width="0.22" font-size="3.6">1</text>
<text x="659" y="302.8" fill="#d8a0a6" stroke="#d8a0a6" stroke-width="0.22" font-size="3.6">2</text>
<text x="667" y="302.8" fill="#d8a0a6" stroke="#d8a0a6" stroke-width="0.22" font-size="3.6">3</text>
<path d="M575.92 219.2 L574.92 221.41 L573.2 223.17 L570.97 224.94 L567.86 224.83 L565.54 223.23 L564.34 221.23 L563.22 219.2 L563.18 216.7 L565.2 214.81 L568.12 214.53 L570.74 214.32 L573.52 214.9 L575.85 216.61 Z" fill="#a3424f" stroke="#b25a66" stroke-width="0.5"/>
<ellipse cx="568.34" cy="218.65" rx="3.7" ry="2.75" fill="#c3707b" opacity="0.55"/>
<circle cx="570.98" cy="220.3" r="0.99" fill="#e0b0b5" opacity="0.7"/>
<path d="M597.52 219.3 L597.81 222.14 L595.79 223.94 L593.57 224.88 L591.27 224.7 L589.16 223.73 L587.07 222.1 L586.87 219.3 L587.74 216.85 L589.38 215.17 L591.15 213.34 L593.73 212.93 L595.74 214.73 L596.69 217.05 Z" fill="#a3424f" stroke="#b25a66" stroke-width="0.5"/>
<ellipse cx="591.52" cy="218.7" rx="3.08" ry="3" fill="#c3707b" opacity="0.55"/>
<circle cx="593.72" cy="220.5" r="0.99" fill="#e0b0b5" opacity="0.7"/>
<path d="M620.22 217 L619.79 219.51 L618.53 221.35 L616.76 221.55 L615.14 222.19 L613.33 221.61 L612.12 219.57 L612.48 217 L612.85 214.91 L613.68 212.99 L615.04 211.21 L616.88 211.7 L618.35 212.95 L619.22 214.87 Z" fill="#a3424f" stroke="#b25a66" stroke-width="0.5"/>
<ellipse cx="615.36" cy="216.45" rx="2.24" ry="2.75" fill="#c3707b" opacity="0.55"/>
<circle cx="616.96" cy="218.1" r="0.72" fill="#e0b0b5" opacity="0.7"/>
<path d="M642.52 217.7 L642.17 219.94 L641.3 222.25 L639.31 223.37 L637.25 222.57 L635.61 221.5 L634.05 220.04 L633.1 217.7 L634.19 215.44 L635.57 213.84 L637.23 212.7 L639.29 212.13 L641.15 213.37 L642.24 215.42 Z" fill="#a3424f" stroke="#b25a66" stroke-width="0.5"/>
<ellipse cx="637.45" cy="217.15" rx="2.63" ry="2.75" fill="#c3707b" opacity="0.55"/>
<circle cx="639.33" cy="218.8" r="0.85" fill="#e0b0b5" opacity="0.7"/>
<path d="M665.29 217 L665.33 219.07 L664.24 220.98 L662.15 221.33 L660.34 220.95 L658.63 220.36 L656.83 219.2 L656.7 217 L657.54 215.16 L658.74 213.78 L660.18 212.35 L662.28 212.06 L663.89 213.48 L664.63 215.28 Z" fill="#a3424f" stroke="#b25a66" stroke-width="0.5"/>
<ellipse cx="660.48" cy="216.53" rx="2.52" ry="2.35" fill="#c3707b" opacity="0.55"/>
<circle cx="662.28" cy="217.94" r="0.81" fill="#e0b0b5" opacity="0.7"/>
<path d="M574.11 238 L573.63 239.77 L572.25 241.23 L570.05 241.65 L567.99 241.51 L565.75 241.24 L563.94 239.93 L563.97 238 L564.97 236.46 L566.15 235.16 L567.85 234.02 L570.14 234.02 L571.87 235.15 L572.93 236.5 Z" fill="#a3424f" stroke="#b25a66" stroke-width="0.5"/>
<ellipse cx="568.18" cy="237.59" rx="2.86" ry="2.02" fill="#c3707b" opacity="0.55"/>
<circle cx="570.22" cy="238.81" r="0.73" fill="#e0b0b5" opacity="0.7"/>
<path d="M596.55 238.2 L596.67 239.72 L595.58 241.12 L593.51 241.54 L591.66 241 L589.79 240.77 L588.47 239.67 L587.69 238.2 L588.56 236.76 L589.98 235.81 L591.55 235.04 L593.51 234.85 L595.24 235.61 L596.23 236.84 Z" fill="#a3424f" stroke="#b25a66" stroke-width="0.5"/>
<ellipse cx="591.78" cy="237.86" rx="2.52" ry="1.7" fill="#c3707b" opacity="0.55"/>
<circle cx="593.58" cy="238.88" r="0.61" fill="#e0b0b5" opacity="0.7"/>
<path d="M620.67 238 L619.85 239.69 L618.36 240.69 L616.87 241.48 L614.98 242.07 L613.12 241.28 L612.25 239.64 L612.12 238 L612.23 236.35 L613.12 234.72 L615 234.01 L616.94 234.24 L618.51 235.14 L619.8 236.34 Z" fill="#a3424f" stroke="#b25a66" stroke-width="0.5"/>
<ellipse cx="615.3" cy="237.6" rx="2.46" ry="2" fill="#c3707b" opacity="0.55"/>
<circle cx="617.06" cy="238.8" r="0.72" fill="#e0b0b5" opacity="0.7"/>
<path d="M644.48 237.4 L643.72 239.03 L642.3 240.02 L640.95 241.19 L638.97 241.51 L637.21 240.58 L636.21 239.06 L636.15 237.4 L636.05 235.67 L636.99 233.96 L639.02 233.51 L640.88 233.88 L642.47 234.58 L644.25 235.54 Z" fill="#a3424f" stroke="#b25a66" stroke-width="0.5"/>
<ellipse cx="639.3" cy="237" rx="2.46" ry="2" fill="#c3707b" opacity="0.55"/>
<circle cx="641.06" cy="238.2" r="0.72" fill="#e0b0b5" opacity="0.7"/>
<path d="M665.17 238.6 L665.1 240.17 L664.37 241.79 L662.69 242.44 L661.01 242.04 L659.7 241.2 L658.29 240.27 L657.6 238.6 L658.24 236.91 L659.65 235.93 L661.01 235.18 L662.69 234.75 L664.36 235.44 L665.12 237.02 Z" fill="#a3424f" stroke="#b25a66" stroke-width="0.5"/>
<ellipse cx="661.18" cy="238.22" rx="2.18" ry="1.93" fill="#c3707b" opacity="0.55"/>
<circle cx="662.74" cy="239.37" r="0.69" fill="#e0b0b5" opacity="0.7"/>
<path d="M574.01 258.9 L574.22 260.98 L572.38 262.41 L570.05 262.69 L567.91 262.85 L565.77 262.25 L564.12 260.85 L563.93 258.9 L564.73 257.2 L566.08 255.87 L567.79 254.49 L570.25 254.35 L572.07 255.71 L573.42 257.14 Z" fill="#a3424f" stroke="#b25a66" stroke-width="0.5"/>
<ellipse cx="568.16" cy="258.46" rx="2.94" ry="2.17" fill="#c3707b" opacity="0.55"/>
<circle cx="570.26" cy="259.77" r="0.78" fill="#e0b0b5" opacity="0.7"/>
<path d="M598.55 258.9 L598.13 260.94 L596.06 261.99 L594.2 262.66 L592.11 263.02 L589.99 262.37 L588.46 260.87 L588.39 258.9 L589.02 257.17 L590.12 255.57 L592.06 254.6 L594.32 254.67 L595.92 255.96 L597.37 257.17 Z" fill="#a3424f" stroke="#b25a66" stroke-width="0.5"/>
<ellipse cx="592.39" cy="258.46" rx="2.83" ry="2.17" fill="#c3707b" opacity="0.55"/>
<circle cx="594.41" cy="259.77" r="0.78" fill="#e0b0b5" opacity="0.7"/>
<path d="M621.99 258.1 L621.29 259.76 L619.88 260.9 L618.27 261.79 L616.28 261.99 L614.51 261.14 L613.39 259.73 L613.4 258.1 L613.3 256.43 L614.26 254.79 L616.33 254.41 L618.23 254.56 L619.76 255.43 L621.28 256.44 Z" fill="#a3424f" stroke="#b25a66" stroke-width="0.5"/>
<ellipse cx="616.58" cy="257.71" rx="2.52" ry="1.95" fill="#c3707b" opacity="0.55"/>
<circle cx="618.38" cy="258.88" r="0.7" fill="#e0b0b5" opacity="0.7"/>
<path d="M643.41 258.8 L642.48 260.26 L641.31 261.32 L639.88 262.13 L638.05 262.41 L636.4 261.64 L635.49 260.27 L635.32 258.8 L635.34 257.27 L636.27 255.82 L638.11 255.4 L639.87 255.47 L641.49 256.09 L642.77 257.22 Z" fill="#a3424f" stroke="#b25a66" stroke-width="0.5"/>
<ellipse cx="638.33" cy="258.44" rx="2.35" ry="1.82" fill="#c3707b" opacity="0.55"/>
<circle cx="640.01" cy="259.53" r="0.66" fill="#e0b0b5" opacity="0.7"/>
<path d="M667.19 258.9 L666.32 260.73 L664.69 261.87 L663.03 262.88 L660.83 263.42 L658.91 262.31 L657.83 260.66 L657.78 258.9 L657.64 257.05 L658.8 255.37 L660.86 254.52 L663.03 254.93 L664.93 255.67 L666.47 257.01 Z" fill="#a3424f" stroke="#b25a66" stroke-width="0.5"/>
<ellipse cx="661.21" cy="258.46" rx="2.77" ry="2.17" fill="#c3707b" opacity="0.55"/>
<circle cx="663.19" cy="259.77" r="0.78" fill="#e0b0b5" opacity="0.7"/>
<path d="M572.61 280.2 L572.41 281.45 L571.72 282.72 L570.25 283.42 L568.61 283.17 L567.32 282.45 L566.3 281.49 L565.54 280.2 L566.03 278.8 L567.3 277.93 L568.7 277.56 L570.15 277.36 L571.68 277.73 L572.64 278.86 Z" fill="#a3424f" stroke="#b25a66" stroke-width="0.5"/>
<ellipse cx="568.82" cy="279.88" rx="2.04" ry="1.57" fill="#c3707b" opacity="0.55"/>
<circle cx="570.28" cy="280.83" r="0.57" fill="#e0b0b5" opacity="0.7"/>
<path d="M597.05 280.4 L596.62 281.66 L595.8 282.66 L594.7 283.48 L593.24 283.72 L592.24 282.6 L591.54 281.59 L590.88 280.4 L591.06 278.98 L591.92 277.8 L593.35 277.55 L594.62 277.7 L596.04 277.84 L597.11 278.9 Z" fill="#a3424f" stroke="#b25a66" stroke-width="0.5"/>
<ellipse cx="593.5" cy="280.08" rx="1.76" ry="1.57" fill="#c3707b" opacity="0.55"/>
<circle cx="594.76" cy="281.03" r="0.57" fill="#e0b0b5" opacity="0.7"/>
<path d="M620.28 279.2 L619.78 280.3 L619.31 281.47 L618.22 282.36 L616.8 282.27 L615.72 281.43 L615.03 280.39 L614.64 279.2 L614.72 277.86 L615.56 276.77 L616.88 276.48 L618.1 276.57 L619.36 276.87 L620.24 277.88 Z" fill="#a3424f" stroke="#b25a66" stroke-width="0.5"/>
<ellipse cx="617.02" cy="278.9" rx="1.68" ry="1.5" fill="#c3707b" opacity="0.55"/>
<circle cx="618.22" cy="279.8" r="0.54" fill="#e0b0b5" opacity="0.7"/>
<path d="M644.15 279.9 L643.49 280.67 L642.87 281.27 L642.03 281.75 L640.91 281.97 L640.03 281.37 L639.46 280.69 L639.2 279.9 L639.2 279.01 L639.91 278.3 L640.99 278.1 L642.01 278.1 L643.06 278.34 L643.92 278.97 Z" fill="#a3424f" stroke="#b25a66" stroke-width="0.5"/>
<path d="M665.1 280.3 L664.87 280.95 L664.32 281.4 L663.67 281.68 L662.92 281.73 L662.13 281.55 L661.79 280.92 L661.76 280.3 L661.88 279.71 L662.14 279.06 L662.88 278.74 L663.68 278.87 L664.26 279.26 L664.82 279.67 Z" fill="#a3424f" stroke="#b25a66" stroke-width="0.5"/>
<text x="555.4" y="222.6" text-anchor="end" stroke="#000" stroke-width="0.22">shCtrl</text>
<text x="555.4" y="239.4" text-anchor="end" stroke="#000" stroke-width="0.22">shTLK2</text>
<text x="555.4" y="263.9" text-anchor="end" stroke="#000" stroke-width="0.22">shCtrl</text>
<text x="555.4" y="281.9" text-anchor="end" stroke="#000" stroke-width="0.22">shTLK2</text>
<line x1="513.5" y1="208.6" x2="513.5" y2="235" stroke="#777" stroke-width="0.8"/>
<line x1="513.5" y1="256.4" x2="513.5" y2="283.4" stroke="#777" stroke-width="0.8"/>
<text x="507.6" y="218.5" text-anchor="middle" stroke="#000" stroke-width="0.22" transform="rotate(-90 507.6 218.5)">isotype</text>
<text x="507.6" y="271.5" text-anchor="middle" stroke="#000" stroke-width="0.22" transform="rotate(-90 507.6 271.5)">anti-PD-L1</text>
<text x="-0.6" y="355.2" font-weight="bold" font-size="15" stroke="#000" stroke-width="0.9">e</text>
<text x="56" y="378.9" text-anchor="middle" stroke="#000" stroke-width="0.22">DAPI</text>
<text x="98.5" y="367.6" text-anchor="middle" fill="#1e9e4e" stroke="#1e9e4e" stroke-width="0.22">shCtrl</text>
<text x="98.5" y="378.9" text-anchor="middle" fill="#1e9e4e" stroke="#1e9e4e" stroke-width="0.22">-GFP</text>
<text x="146.2" y="367.6" text-anchor="middle" fill="#ff2020" stroke="#ff2020" stroke-width="0.22">shTLK2</text>
<text x="146.2" y="378.9" text-anchor="middle" fill="#ff2020" stroke="#ff2020" stroke-width="0.22">-mCherry</text>
<text x="217.4" y="376.2" text-anchor="middle"><tspan fill="#ff2020" stroke="#ff2020" stroke-width="0.22">ME</tspan><tspan fill="#1e9e4e" stroke="#1e9e4e" stroke-width="0.22">RGE</tspan></text>
<line x1="177" y1="379.4" x2="265" y2="379.4" stroke="#8c8c8c" stroke-width="0.8"/>
<text x="24.6" y="404" text-anchor="middle" stroke="#000" stroke-width="0.22" transform="rotate(-90 24.6 404)">isotype</text>
<text x="24.6" y="455.5" text-anchor="middle" stroke="#000" stroke-width="0.22" transform="rotate(-90 24.6 455.5)">anti-PD-L1</text>
<rect x="30" y="383.8" width="45.4" height="45.1" fill="#000"/>
<rect x="77.2" y="383.8" width="45.4" height="45.1" fill="#000"/>
<rect x="124.4" y="383.8" width="45.4" height="45.1" fill="#000"/>
<rect x="171.4" y="383.8" width="45.4" height="45.1" fill="#000"/>
<rect x="219.6" y="383.8" width="45.4" height="45.1" fill="#000"/>
<rect x="30" y="430.5" width="45.4" height="45.1" fill="#000"/>
<rect x="77.2" y="430.5" width="45.4" height="45.1" fill="#000"/>
<rect x="124.4" y="430.5" width="45.4" height="45.1" fill="#000"/>
<rect x="171.4" y="430.5" width="45.4" height="45.1" fill="#000"/>
<rect x="219.6" y="430.5" width="45.4" height="45.1" fill="#000"/>
<rect x="30" y="383.8" width="45.4" height="45.1" fill="#000" filter="url(#dapi)"/>
<rect x="30" y="430.5" width="45.4" height="45.1" fill="#000" filter="url(#dapi2)"/>
<rect x="77.2" y="383.8" width="45.4" height="45.1" fill="#000" filter="url(#gfaint)"/>
<rect x="77.2" y="383.8" width="45.4" height="45.1" fill="#000" filter="url(#gclu)" mask="url(#mk_g0)"/>
<rect x="77.2" y="430.5" width="45.4" height="45.1" fill="#000" filter="url(#gdiff)" mask="url(#mk_g1)"/>
<rect x="124.4" y="383.8" width="45.4" height="45.1" fill="#000" filter="url(#rclu)" mask="url(#mk_r0)" opacity="0.75"/>
<rect x="171.4" y="383.8" width="45.4" height="45.1" fill="#000" filter="url(#mgray)"/>
<rect x="171.4" y="383.8" width="45.4" height="45.1" fill="#000" filter="url(#rclu)" mask="url(#mk_r0m)" opacity="0.55"/>
<rect x="171.4" y="383.8" width="45.4" height="45.1" fill="#000" filter="url(#gclu)" mask="url(#mk_g0m)" opacity="0.6"/>
<rect x="171.4" y="430.5" width="45.4" height="45.1" fill="#000" filter="url(#mgray2)"/>
<rect x="171.4" y="430.5" width="45.4" height="45.1" fill="#000" filter="url(#gdiff)" mask="url(#mk_g1m)" opacity="0.7"/>
<rect x="219.6" y="383.8" width="45.4" height="45.1" fill="#000" filter="url(#zm0)"/>
<rect x="219.6" y="430.5" width="45.4" height="45.1" fill="#000" filter="url(#zm1)"/>
<circle cx="240.23" cy="408.93" r="1.11" fill="#d02828" opacity="0.85"/>
<circle cx="240.21" cy="421.65" r="0.7" fill="#d02828" opacity="0.85"/>
<circle cx="247.94" cy="418.98" r="0.65" fill="#28b028" opacity="0.85"/>
<circle cx="226.75" cy="408.02" r="1.09" fill="#35e035" opacity="0.85"/>
<circle cx="246.44" cy="401.87" r="0.85" fill="#c02020" opacity="0.85"/>
<circle cx="247.64" cy="420.65" r="0.63" fill="#35e035" opacity="0.85"/>
<circle cx="228.86" cy="395.23" r="0.62" fill="#d02828" opacity="0.85"/>
<circle cx="234.76" cy="410.27" r="0.71" fill="#a01818" opacity="0.85"/>
<circle cx="248.39" cy="406.34" r="0.96" fill="#d02828" opacity="0.85"/>
<circle cx="249.02" cy="402.33" r="0.9" fill="#30c030" opacity="0.85"/>
<circle cx="251.32" cy="398.39" r="0.73" fill="#28b028" opacity="0.85"/>
<circle cx="221.89" cy="409.07" r="0.66" fill="#30c030" opacity="0.85"/>
<circle cx="257.34" cy="401.46" r="1.13" fill="#35e035" opacity="0.85"/>
<circle cx="229.87" cy="424.76" r="0.63" fill="#38d838" opacity="0.85"/>
<circle cx="263.15" cy="401.93" r="0.64" fill="#a01818" opacity="0.85"/>
<circle cx="254.39" cy="396.43" r="0.65" fill="#505050" opacity="0.85"/>
<circle cx="221.26" cy="402.47" r="1.11" fill="#c02020" opacity="0.85"/>
<circle cx="231.29" cy="389.16" r="0.63" fill="#d02828" opacity="0.85"/>
<circle cx="228.31" cy="408.91" r="0.85" fill="#a01818" opacity="0.85"/>
<circle cx="263.36" cy="417.97" r="0.83" fill="#38d838" opacity="0.85"/>
<circle cx="225.66" cy="402.93" r="0.72" fill="#28b028" opacity="0.85"/>
<circle cx="258.11" cy="426.82" r="0.93" fill="#35e035" opacity="0.85"/>
<circle cx="229.74" cy="401.79" r="1.07" fill="#30c030" opacity="0.85"/>
<circle cx="222.43" cy="391.11" r="0.84" fill="#35e035" opacity="0.85"/>
<circle cx="254.13" cy="398.98" r="0.76" fill="#30c030" opacity="0.85"/>
<circle cx="223.82" cy="393.8" r="0.95" fill="#35e035" opacity="0.85"/>
<circle cx="246.7" cy="400.82" r="0.85" fill="#d02828" opacity="0.85"/>
<circle cx="256.72" cy="390.65" r="0.81" fill="#c02020" opacity="0.85"/>
<circle cx="234.09" cy="394.64" r="0.94" fill="#a01818" opacity="0.85"/>
<circle cx="227.48" cy="411.91" r="0.9" fill="#38d838" opacity="0.85"/>
<circle cx="258.89" cy="410.81" r="0.83" fill="#30c030" opacity="0.85"/>
<circle cx="225.33" cy="406.88" r="0.74" fill="#38d838" opacity="0.85"/>
<circle cx="231.75" cy="420.3" r="0.93" fill="#28b028" opacity="0.85"/>
<circle cx="243.17" cy="424.85" r="1.14" fill="#c02020" opacity="0.85"/>
<circle cx="230.51" cy="408.91" r="1.07" fill="#30c030" opacity="0.85"/>
<circle cx="232.76" cy="424.34" r="0.71" fill="#35e035" opacity="0.85"/>
<circle cx="223.6" cy="402.53" r="0.74" fill="#35e035" opacity="0.85"/>
<circle cx="228.25" cy="400.69" r="0.91" fill="#c02020" opacity="0.85"/>
<circle cx="224.6" cy="390.77" r="0.85" fill="#505050" opacity="0.85"/>
<circle cx="249.11" cy="414.59" r="0.92" fill="#c02020" opacity="0.85"/>
<circle cx="246.2" cy="424.61" r="0.86" fill="#505050" opacity="0.85"/>
<circle cx="251.02" cy="426.3" r="0.61" fill="#30c030" opacity="0.85"/>
<circle cx="241.53" cy="416.28" r="0.78" fill="#30c030" opacity="0.85"/>
<circle cx="223.87" cy="408.34" r="1.01" fill="#c02020" opacity="0.85"/>
<circle cx="255.03" cy="424.24" r="0.79" fill="#d02828" opacity="0.85"/>
<circle cx="259.7" cy="422.34" r="0.83" fill="#35e035" opacity="0.85"/>
<circle cx="258.07" cy="409.49" r="0.94" fill="#38d838" opacity="0.85"/>
<circle cx="237.06" cy="385.34" r="0.64" fill="#30c030" opacity="0.85"/>
<circle cx="248.35" cy="427.61" r="1.08" fill="#505050" opacity="0.85"/>
<circle cx="237.46" cy="416.48" r="0.92" fill="#d02828" opacity="0.85"/>
<circle cx="240.68" cy="408.13" r="0.89" fill="#35e035" opacity="0.85"/>
<circle cx="234.06" cy="388.58" r="0.61" fill="#30c030" opacity="0.85"/>
<circle cx="242.18" cy="411.29" r="1.11" fill="#28b028" opacity="0.85"/>
<circle cx="259.5" cy="400.66" r="0.68" fill="#a01818" opacity="0.85"/>
<circle cx="243.1" cy="417.29" r="0.79" fill="#d02828" opacity="0.85"/>
<circle cx="242.23" cy="395.21" r="0.82" fill="#28b028" opacity="0.85"/>
<circle cx="229.22" cy="403.37" r="1.04" fill="#a01818" opacity="0.85"/>
<circle cx="258.8" cy="401.37" r="0.92" fill="#505050" opacity="0.85"/>
<circle cx="229.71" cy="390.6" r="0.79" fill="#35e035" opacity="0.85"/>
<circle cx="251.47" cy="425.75" r="0.75" fill="#c02020" opacity="0.85"/>
<circle cx="225.5" cy="405.12" r="1.11" fill="#38d838" opacity="0.85"/>
<circle cx="237.2" cy="407.21" r="0.97" fill="#d02828" opacity="0.85"/>
<circle cx="234.5" cy="420.52" r="0.75" fill="#35e035" opacity="0.85"/>
<circle cx="250.04" cy="396.91" r="0.79" fill="#35e035" opacity="0.85"/>
<circle cx="248.42" cy="402.26" r="0.7" fill="#28b028" opacity="0.85"/>
<circle cx="230.9" cy="390.87" r="0.63" fill="#30c030" opacity="0.85"/>
<circle cx="239.98" cy="411.95" r="0.96" fill="#505050" opacity="0.85"/>
<circle cx="262.2" cy="414.3" r="0.71" fill="#d02828" opacity="0.85"/>
<circle cx="231.71" cy="415.58" r="1.02" fill="#35e035" opacity="0.85"/>
<circle cx="228.37" cy="396.54" r="0.79" fill="#c02020" opacity="0.85"/>
<circle cx="237.68" cy="418.93" r="1.1" fill="#30c030" opacity="0.85"/>
<circle cx="238.41" cy="423.27" r="0.81" fill="#d02828" opacity="0.85"/>
<circle cx="240.28" cy="411.76" r="1.1" fill="#38d838" opacity="0.85"/>
<circle cx="244.47" cy="412.93" r="0.88" fill="#505050" opacity="0.85"/>
<circle cx="240.72" cy="412.87" r="0.71" fill="#30c030" opacity="0.85"/>
<circle cx="229.86" cy="423.59" r="1.14" fill="#28b028" opacity="0.85"/>
<circle cx="243.9" cy="418.88" r="0.78" fill="#35e035" opacity="0.85"/>
<circle cx="235.73" cy="388.37" r="0.84" fill="#38d838" opacity="0.85"/>
<circle cx="253.94" cy="405.81" r="0.62" fill="#30c030" opacity="0.85"/>
<circle cx="239.22" cy="386.31" r="0.89" fill="#c02020" opacity="0.85"/>
<circle cx="241.02" cy="427.89" r="1.1" fill="#d02828" opacity="0.85"/>
<circle cx="261.65" cy="406.03" r="1.12" fill="#30c030" opacity="0.85"/>
<circle cx="253.49" cy="403.74" r="0.91" fill="#c02020" opacity="0.85"/>
<circle cx="243.29" cy="421.16" r="0.91" fill="#28b028" opacity="0.85"/>
<circle cx="249.73" cy="425.95" r="1.08" fill="#a01818" opacity="0.85"/>
<circle cx="233.81" cy="390.88" r="0.9" fill="#28b028" opacity="0.85"/>
<circle cx="245.47" cy="393.46" r="0.89" fill="#35e035" opacity="0.85"/>
<circle cx="246.87" cy="386" r="1.13" fill="#38d838" opacity="0.85"/>
<circle cx="244.21" cy="427.44" r="0.67" fill="#30c030" opacity="0.85"/>
<circle cx="250.59" cy="387.64" r="0.9" fill="#38d838" opacity="0.85"/>
<circle cx="260.56" cy="419.3" r="0.82" fill="#a01818" opacity="0.85"/>
<circle cx="241.14" cy="390.27" r="0.84" fill="#d02828" opacity="0.85"/>
<circle cx="243.38" cy="389.48" r="0.83" fill="#35e035" opacity="0.85"/>
<circle cx="260.76" cy="390.38" r="1.03" fill="#35e035" opacity="0.85"/>
<circle cx="222.15" cy="391.5" r="0.61" fill="#28b028" opacity="0.85"/>
<circle cx="234.58" cy="400.12" r="0.94" fill="#30c030" opacity="0.85"/>
<circle cx="242.29" cy="409.89" r="1.07" fill="#28b028" opacity="0.85"/>
<circle cx="251.75" cy="415.03" r="1.08" fill="#35e035" opacity="0.85"/>
<circle cx="236.91" cy="402.62" r="0.89" fill="#c02020" opacity="0.85"/>
<circle cx="243.96" cy="422.03" r="0.89" fill="#a01818" opacity="0.85"/>
<circle cx="243.59" cy="421.49" r="0.94" fill="#c02020" opacity="0.85"/>
<circle cx="230.7" cy="416.73" r="1.05" fill="#c02020" opacity="0.85"/>
<circle cx="234.31" cy="398.38" r="1.11" fill="#a01818" opacity="0.85"/>
<circle cx="254.38" cy="393.18" r="0.65" fill="#a01818" opacity="0.85"/>
<circle cx="226.35" cy="388.6" r="0.81" fill="#38d838" opacity="0.85"/>
<circle cx="256.72" cy="402.97" r="1.03" fill="#c02020" opacity="0.85"/>
<circle cx="229.31" cy="411.87" r="1.04" fill="#30c030" opacity="0.85"/>
<circle cx="229.32" cy="414.21" r="1.1" fill="#505050" opacity="0.85"/>
<circle cx="225.61" cy="406.59" r="1.02" fill="#a01818" opacity="0.85"/>
<circle cx="255.44" cy="405.58" r="0.61" fill="#d02828" opacity="0.85"/>
<circle cx="226.96" cy="392.75" r="0.71" fill="#c02020" opacity="0.85"/>
<circle cx="263.58" cy="424.75" r="0.65" fill="#35e035" opacity="0.85"/>
<circle cx="226.44" cy="414.15" r="0.64" fill="#30c030" opacity="0.85"/>
<circle cx="234.78" cy="404.93" r="0.88" fill="#38d838" opacity="0.85"/>
<circle cx="229.72" cy="400.88" r="0.95" fill="#35e035" opacity="0.85"/>
<circle cx="257.24" cy="392.61" r="0.85" fill="#505050" opacity="0.85"/>
<circle cx="238.19" cy="393.21" r="0.69" fill="#35e035" opacity="0.85"/>
<circle cx="234.65" cy="388.46" r="1.06" fill="#38d838" opacity="0.85"/>
<circle cx="245.32" cy="393.03" r="0.92" fill="#505050" opacity="0.85"/>
<circle cx="255.53" cy="395.93" r="1.1" fill="#c02020" opacity="0.85"/>
<circle cx="255.96" cy="402.28" r="1.09" fill="#505050" opacity="0.85"/>
<circle cx="253.9" cy="417.78" r="0.82" fill="#c02020" opacity="0.85"/>
<circle cx="223.66" cy="399.53" r="0.86" fill="#35e035" opacity="0.85"/>
<circle cx="259.14" cy="427.49" r="1.1" fill="#35e035" opacity="0.85"/>
<circle cx="230.67" cy="425.52" r="0.97" fill="#505050" opacity="0.85"/>
<circle cx="229.98" cy="402.3" r="0.7" fill="#30c030" opacity="0.85"/>
<circle cx="237.51" cy="427.9" r="0.95" fill="#30c030" opacity="0.85"/>
<circle cx="253.66" cy="427.04" r="0.61" fill="#30c030" opacity="0.85"/>
<circle cx="252.66" cy="395.86" r="0.82" fill="#35e035" opacity="0.85"/>
<circle cx="253.64" cy="412.73" r="0.61" fill="#28b028" opacity="0.85"/>
<circle cx="231.49" cy="423.83" r="0.9" fill="#38d838" opacity="0.85"/>
<circle cx="262.57" cy="409.28" r="1.15" fill="#d02828" opacity="0.85"/>
<circle cx="255.73" cy="388.08" r="0.93" fill="#35e035" opacity="0.85"/>
<circle cx="237.37" cy="425.25" r="0.81" fill="#c02020" opacity="0.85"/>
<circle cx="257.74" cy="408.16" r="0.93" fill="#38d838" opacity="0.85"/>
<circle cx="261.62" cy="402.93" r="0.89" fill="#28b028" opacity="0.85"/>
<circle cx="236.47" cy="397.12" r="0.96" fill="#28b028" opacity="0.85"/>
<circle cx="249.4" cy="417.03" r="0.61" fill="#a01818" opacity="0.85"/>
<circle cx="246.02" cy="412.08" r="0.82" fill="#38d838" opacity="0.85"/>
<circle cx="222.89" cy="398.38" r="0.82" fill="#505050" opacity="0.85"/>
<circle cx="223.79" cy="423.83" r="0.84" fill="#d02828" opacity="0.85"/>
<circle cx="231.49" cy="417.36" r="0.62" fill="#30c030" opacity="0.85"/>
<circle cx="261.28" cy="415.95" r="0.86" fill="#a01818" opacity="0.85"/>
<circle cx="246.8" cy="389.76" r="0.94" fill="#d02828" opacity="0.85"/>
<circle cx="225.72" cy="421.91" r="0.8" fill="#c02020" opacity="0.85"/>
<circle cx="226" cy="403.89" r="0.97" fill="#d02828" opacity="0.85"/>
<circle cx="246.69" cy="412.37" r="0.98" fill="#505050" opacity="0.85"/>
<circle cx="254.36" cy="407.68" r="1.15" fill="#28b028" opacity="0.85"/>
<circle cx="252.47" cy="395.08" r="0.66" fill="#28b028" opacity="0.85"/>
<circle cx="254.64" cy="411.74" r="0.8" fill="#28b028" opacity="0.85"/>
<circle cx="247.07" cy="462.75" r="1.02" fill="#289028" opacity="0.85"/>
<circle cx="248.08" cy="463.97" r="0.71" fill="#289028" opacity="0.85"/>
<circle cx="242.39" cy="459.64" r="0.72" fill="#2f8a2f" opacity="0.85"/>
<circle cx="222.31" cy="434.12" r="0.76" fill="#4a584a" opacity="0.85"/>
<circle cx="221.77" cy="433.14" r="0.73" fill="#3c4a3c" opacity="0.85"/>
<circle cx="223.75" cy="435.23" r="1.01" fill="#38c038" opacity="0.85"/>
<circle cx="230.79" cy="473.8" r="0.89" fill="#3c4a3c" opacity="0.85"/>
<circle cx="229.74" cy="446.31" r="1.05" fill="#30b030" opacity="0.85"/>
<circle cx="255.42" cy="450.78" r="1.09" fill="#289028" opacity="0.85"/>
<circle cx="239.88" cy="463.71" r="0.83" fill="#289028" opacity="0.85"/>
<circle cx="236.61" cy="459.67" r="1.19" fill="#3c4a3c" opacity="0.85"/>
<circle cx="233.22" cy="464.21" r="1.1" fill="#289028" opacity="0.85"/>
<circle cx="239.16" cy="447.42" r="0.66" fill="#3c4a3c" opacity="0.85"/>
<circle cx="224.01" cy="435.08" r="0.94" fill="#4a584a" opacity="0.85"/>
<circle cx="255.98" cy="451.48" r="1.09" fill="#30b030" opacity="0.85"/>
<circle cx="223.9" cy="440.69" r="1" fill="#30b030" opacity="0.85"/>
<circle cx="250.77" cy="452.82" r="1.06" fill="#3c4a3c" opacity="0.85"/>
<circle cx="232.88" cy="437.66" r="0.81" fill="#2f8a2f" opacity="0.85"/>
<circle cx="234.79" cy="470.56" r="0.79" fill="#4a584a" opacity="0.85"/>
<circle cx="245.31" cy="471.09" r="1.16" fill="#3c4a3c" opacity="0.85"/>
<circle cx="239.61" cy="466.11" r="0.78" fill="#3c4a3c" opacity="0.85"/>
<circle cx="230.2" cy="473.21" r="1.04" fill="#38c038" opacity="0.85"/>
<circle cx="231.38" cy="447.09" r="0.82" fill="#3c4a3c" opacity="0.85"/>
<circle cx="249.98" cy="456.71" r="1.08" fill="#2f8a2f" opacity="0.85"/>
<circle cx="245.07" cy="465.85" r="0.92" fill="#38c038" opacity="0.85"/>
<circle cx="245.02" cy="439.11" r="1.06" fill="#3c4a3c" opacity="0.85"/>
<circle cx="255.83" cy="441.04" r="0.63" fill="#289028" opacity="0.85"/>
<circle cx="245.23" cy="473.15" r="0.99" fill="#4a584a" opacity="0.85"/>
<circle cx="223.38" cy="455.07" r="1.07" fill="#30b030" opacity="0.85"/>
<circle cx="235.12" cy="443.29" r="0.66" fill="#3c4a3c" opacity="0.85"/>
<circle cx="224.28" cy="458.83" r="0.69" fill="#2f8a2f" opacity="0.85"/>
<circle cx="256.03" cy="449.69" r="1.03" fill="#4a584a" opacity="0.85"/>
<circle cx="253.82" cy="453.98" r="1.06" fill="#4a584a" opacity="0.85"/>
<circle cx="235.81" cy="466.29" r="0.8" fill="#289028" opacity="0.85"/>
<circle cx="242.02" cy="454.66" r="1.03" fill="#2f8a2f" opacity="0.85"/>
<circle cx="247.43" cy="433.49" r="1.05" fill="#2f8a2f" opacity="0.85"/>
<circle cx="235.75" cy="431.67" r="0.83" fill="#30b030" opacity="0.85"/>
<circle cx="259.17" cy="472.78" r="0.98" fill="#38c038" opacity="0.85"/>
<circle cx="236.31" cy="431.94" r="0.67" fill="#4a584a" opacity="0.85"/>
<circle cx="260.34" cy="442.09" r="0.7" fill="#2f8a2f" opacity="0.85"/>
<circle cx="236.9" cy="438.73" r="0.72" fill="#4a584a" opacity="0.85"/>
<circle cx="243.56" cy="443.31" r="1.13" fill="#4a584a" opacity="0.85"/>
<circle cx="233.99" cy="436.45" r="0.99" fill="#289028" opacity="0.85"/>
<circle cx="260.19" cy="463.96" r="0.61" fill="#4a584a" opacity="0.85"/>
<circle cx="260.06" cy="433.07" r="0.67" fill="#289028" opacity="0.85"/>
<circle cx="236.19" cy="456.86" r="0.96" fill="#4a584a" opacity="0.85"/>
<circle cx="246.41" cy="441.15" r="0.71" fill="#3c4a3c" opacity="0.85"/>
<circle cx="238.07" cy="470.75" r="1.16" fill="#2f8a2f" opacity="0.85"/>
<circle cx="244.39" cy="466.72" r="0.89" fill="#3c4a3c" opacity="0.85"/>
<circle cx="241.64" cy="448.85" r="1.17" fill="#2f8a2f" opacity="0.85"/>
<circle cx="244.35" cy="472.75" r="0.89" fill="#289028" opacity="0.85"/>
<circle cx="237.94" cy="440.87" r="0.68" fill="#4a584a" opacity="0.85"/>
<circle cx="262.96" cy="465.75" r="1.06" fill="#30b030" opacity="0.85"/>
<circle cx="249.14" cy="441.74" r="0.61" fill="#4a584a" opacity="0.85"/>
<circle cx="259.89" cy="450.9" r="0.75" fill="#4a584a" opacity="0.85"/>
<circle cx="246.9" cy="438.28" r="0.69" fill="#3c4a3c" opacity="0.85"/>
<circle cx="226.88" cy="470.64" r="1.09" fill="#289028" opacity="0.85"/>
<circle cx="248.24" cy="474.3" r="0.76" fill="#38c038" opacity="0.85"/>
<circle cx="222.9" cy="456.15" r="0.71" fill="#289028" opacity="0.85"/>
<circle cx="256.25" cy="467.97" r="1.09" fill="#30b030" opacity="0.85"/>
<circle cx="235.86" cy="458" r="0.92" fill="#4a584a" opacity="0.85"/>
<circle cx="250.71" cy="435.07" r="1.05" fill="#38c038" opacity="0.85"/>
<circle cx="257.81" cy="444.58" r="1.07" fill="#4a584a" opacity="0.85"/>
<circle cx="228.98" cy="460.9" r="1.07" fill="#4a584a" opacity="0.85"/>
<circle cx="229.64" cy="454.92" r="0.92" fill="#289028" opacity="0.85"/>
<circle cx="261.68" cy="473.05" r="0.79" fill="#4a584a" opacity="0.85"/>
<circle cx="223.9" cy="444.68" r="0.88" fill="#2f8a2f" opacity="0.85"/>
<circle cx="223.51" cy="434.7" r="0.68" fill="#2f8a2f" opacity="0.85"/>
<circle cx="237.71" cy="451.4" r="1.18" fill="#30b030" opacity="0.85"/>
<circle cx="248.98" cy="432.03" r="0.83" fill="#2f8a2f" opacity="0.85"/>
<g stroke="#d8d8d8" stroke-width="0.8" fill="none">
<rect x="200" y="402.4" width="10.2" height="10"/>
<path d="M210.2 402.4 L216.6 384.2 M210.2 412.4 L216.6 428.6"/>
<rect x="193.2" y="459.2" width="10.8" height="11.2"/>
<path d="M204 459.2 L216.6 430.8 M204 470.4 L216.6 475.4"/>
</g>
<rect x="248" y="470.4" width="15" height="1.5" fill="#fff"/>
<line x1="314.4" y1="367" x2="314.4" y2="453.6" stroke="#000" stroke-width="0.8"/>
<line x1="314.4" y1="453.6" x2="369.6" y2="453.6" stroke="#000" stroke-width="0.8"/>
<line x1="312.2" y1="453.6" x2="314.4" y2="453.6" stroke="#000" stroke-width="0.6"/>
<text x="310.4" y="457.2" text-anchor="end" stroke="#000" stroke-width="0.22">0.0</text>
<line x1="312.2" y1="424.73" x2="314.4" y2="424.73" stroke="#000" stroke-width="0.6"/>
<text x="310.4" y="428.33" text-anchor="end" stroke="#000" stroke-width="0.22">0.5</text>
<line x1="312.2" y1="395.87" x2="314.4" y2="395.87" stroke="#000" stroke-width="0.6"/>
<text x="310.4" y="399.47" text-anchor="end" stroke="#000" stroke-width="0.22">1.0</text>
<line x1="312.2" y1="367" x2="314.4" y2="367" stroke="#000" stroke-width="0.6"/>
<text x="310.4" y="370.6" text-anchor="end" stroke="#000" stroke-width="0.22">1.5</text>
<line x1="313.1" y1="439.17" x2="314.4" y2="439.17" stroke="#000" stroke-width="0.6"/>
<line x1="313.1" y1="410.3" x2="314.4" y2="410.3" stroke="#000" stroke-width="0.6"/>
<line x1="313.1" y1="381.43" x2="314.4" y2="381.43" stroke="#000" stroke-width="0.6"/>
<text x="286.8" y="411" text-anchor="middle" stroke="#000" stroke-width="0.22" transform="rotate(-90 286.8 411)">mCherry/GFP ratio</text>
<line x1="330" y1="397.6" x2="330" y2="402" stroke="#333" stroke-width="0.7"/>
<line x1="326.2" y1="397.6" x2="334.2" y2="397.6" stroke="#333" stroke-width="0.7"/>
<line x1="330" y1="413.6" x2="330" y2="417.4" stroke="#333" stroke-width="0.7"/>
<line x1="326.2" y1="417.4" x2="334.2" y2="417.4" stroke="#333" stroke-width="0.7"/>
<rect x="322.4" y="402" width="15.2" height="11.6" fill="#17979b" stroke="#333" stroke-width="0.6"/>
<line x1="322.4" y1="407" x2="337.6" y2="407" stroke="#222" stroke-width="0.8"/>
<circle cx="327" cy="406" r="1" fill="#cfe9ea"/>
<circle cx="333" cy="405" r="1" fill="#cfe9ea"/>
<circle cx="330" cy="409.5" r="1" fill="#cfe9ea"/>
<circle cx="333" cy="410.3" r="1" fill="#cfe9ea"/>
<circle cx="330" cy="404.5" r="1" fill="#cfe9ea"/>
<line x1="353.6" y1="448" x2="353.6" y2="450.6" stroke="#555" stroke-width="0.6"/>
<line x1="349.6" y1="448" x2="357.6" y2="448" stroke="#555" stroke-width="0.6"/>
<rect x="346.2" y="450.6" width="14.8" height="2.2" fill="#ee7d3f" stroke="#333" stroke-width="0.5"/>
<circle cx="348" cy="452" r="0.8" fill="#f5b080"/>
<circle cx="351" cy="452" r="0.8" fill="#f5b080"/>
<circle cx="354" cy="452" r="0.8" fill="#f5b080"/>
<circle cx="357" cy="452" r="0.8" fill="#f5b080"/>
<circle cx="359" cy="452" r="0.8" fill="#f5b080"/>
<path d="M329.6 379.6 L329.6 370 L352.4 370 L352.4 439.6" fill="none" stroke="#444" stroke-width="0.7"/>
<text x="340.2" y="368" text-anchor="middle" stroke="#000" stroke-width="0.22" font-size="9">***</text>
<text x="331.8" y="465.4" text-anchor="end" stroke="#000" stroke-width="0.22" transform="rotate(-45 331.8 465.4)">isotype</text>
<text x="358.6" y="466.6" text-anchor="end" stroke="#000" stroke-width="0.22" transform="rotate(-45 358.6 466.6)">anti-PD-L1</text>
<line x1="329.7" y1="453.6" x2="329.7" y2="456.4" stroke="#000" stroke-width="0.6"/>
<line x1="353.1" y1="453.6" x2="353.1" y2="456.4" stroke="#000" stroke-width="0.6"/>
<text x="394.6" y="354.6" font-weight="bold" font-size="15" stroke="#000" stroke-width="0.9">f</text>
<line x1="444.4" y1="358.6" x2="444.4" y2="452.2" stroke="#000" stroke-width="0.8"/>
<line x1="444.4" y1="452.2" x2="678" y2="452.2" stroke="#000" stroke-width="0.8"/>
<line x1="442.2" y1="452.2" x2="444.4" y2="452.2" stroke="#000" stroke-width="0.6"/>
<text x="441" y="455.9" text-anchor="end" stroke="#000" stroke-width="0.22" font-size="10.5">0%</text>
<line x1="443.1" y1="440.5" x2="444.4" y2="440.5" stroke="#000" stroke-width="0.6"/>
<line x1="442.2" y1="428.8" x2="444.4" y2="428.8" stroke="#000" stroke-width="0.6"/>
<text x="441" y="432.5" text-anchor="end" stroke="#000" stroke-width="0.22" font-size="10.5">2%</text>
<line x1="443.1" y1="417.1" x2="444.4" y2="417.1" stroke="#000" stroke-width="0.6"/>
<line x1="442.2" y1="405.4" x2="444.4" y2="405.4" stroke="#000" stroke-width="0.6"/>
<text x="441" y="409.1" text-anchor="end" stroke="#000" stroke-width="0.22" font-size="10.5">4%</text>
<line x1="443.1" y1="393.7" x2="444.4" y2="393.7" stroke="#000" stroke-width="0.6"/>
<line x1="442.2" y1="382" x2="444.4" y2="382" stroke="#000" stroke-width="0.6"/>
<text x="441" y="385.7" text-anchor="end" stroke="#000" stroke-width="0.22" font-size="10.5">6%</text>
<line x1="443.1" y1="370.3" x2="444.4" y2="370.3" stroke="#000" stroke-width="0.6"/>
<line x1="442.2" y1="358.6" x2="444.4" y2="358.6" stroke="#000" stroke-width="0.6"/>
<text x="441" y="362.3" text-anchor="end" stroke="#000" stroke-width="0.22" font-size="10.5">8%</text>
<text x="420.8" y="407.7" text-anchor="middle" stroke="#000" stroke-width="0.22" font-size="10.6" transform="rotate(-90 420.8 407.7)">Alteration frequency</text>
<rect x="448.6" y="447" width="7.5" height="5.2" fill="#1a9a9a"/>
<rect x="448.6" y="369" width="7.5" height="78" fill="#f8454a"/>
<rect x="448.6" y="366.6" width="7.5" height="2.4" fill="#263a66"/>
<rect x="448.6" y="362.6" width="7.5" height="4" fill="#9b939f"/>
<text x="456.1" y="457" text-anchor="end" stroke="#000" stroke-width="0.22" font-size="10.45" transform="rotate(-90 456.1 457)">BRCA</text>
<rect x="459.02" y="447" width="7.5" height="5.2" fill="#1a9a9a"/>
<rect x="459.02" y="424" width="7.5" height="23" fill="#f8454a"/>
<rect x="459.02" y="421" width="7.5" height="3" fill="#263a66"/>
<rect x="459.02" y="381" width="7.5" height="40" fill="#9b939f"/>
<text x="466.52" y="457" text-anchor="end" stroke="#000" stroke-width="0.22" font-size="10.45" transform="rotate(-90 466.52 457)">Bladder</text>
<rect x="469.44" y="385" width="7.5" height="67.2" fill="#f8454a"/>
<text x="476.94" y="457" text-anchor="end" stroke="#000" stroke-width="0.22" font-size="10.45" transform="rotate(-90 476.94 457)">Mesothelioma</text>
<rect x="479.86" y="434" width="7.5" height="18.2" fill="#f8454a"/>
<rect x="479.86" y="389" width="7.5" height="45" fill="#9b939f"/>
<text x="487.36" y="457" text-anchor="end" stroke="#000" stroke-width="0.22" font-size="10.45" transform="rotate(-90 487.36 457)">Melanoma</text>
<rect x="490.28" y="443.6" width="7.5" height="8.6" fill="#f8454a"/>
<rect x="490.28" y="390" width="7.5" height="53.6" fill="#9b939f"/>
<text x="497.78" y="457" text-anchor="end" stroke="#000" stroke-width="0.22" font-size="10.45" transform="rotate(-90 497.78 457)">Uterine</text>
<rect x="500.7" y="417.6" width="7.5" height="34.6" fill="#f8454a"/>
<rect x="500.7" y="402" width="7.5" height="15.6" fill="#9b939f"/>
<text x="508.2" y="457" text-anchor="end" stroke="#000" stroke-width="0.22" font-size="10.45" transform="rotate(-90 508.2 457)">Liver</text>
<rect x="511.12" y="432" width="7.5" height="20.2" fill="#263a66"/>
<rect x="511.12" y="411.2" width="7.5" height="20.8" fill="#9b939f"/>
<text x="518.62" y="457" text-anchor="end" stroke="#000" stroke-width="0.22" font-size="10.45" transform="rotate(-90 518.62 457)">Uterine CS</text>
<rect x="521.54" y="423.2" width="7.5" height="29" fill="#f8454a"/>
<rect x="521.54" y="412.4" width="7.5" height="10.8" fill="#9b939f"/>
<text x="529.04" y="457" text-anchor="end" stroke="#000" stroke-width="0.22" font-size="10.45" transform="rotate(-90 529.04 457)">Stomach</text>
<rect x="531.96" y="426.7" width="7.5" height="25.5" fill="#f8454a"/>
<rect x="531.96" y="413.7" width="7.5" height="13" fill="#263a66"/>
<text x="539.46" y="457" text-anchor="end" stroke="#000" stroke-width="0.22" font-size="10.45" transform="rotate(-90 539.46 457)">ACC</text>
<rect x="542.38" y="426.7" width="7.5" height="25.5" fill="#f8454a"/>
<rect x="542.38" y="414.3" width="7.5" height="12.4" fill="#9b939f"/>
<text x="549.88" y="457" text-anchor="end" stroke="#000" stroke-width="0.22" font-size="10.45" transform="rotate(-90 549.88 457)">Pancreas</text>
<rect x="552.8" y="451.2" width="7.5" height="1" fill="#f8eec0"/>
<rect x="552.8" y="422.4" width="7.5" height="28.8" fill="#f8454a"/>
<rect x="552.8" y="416.4" width="7.5" height="6" fill="#9b939f"/>
<text x="560.3" y="457" text-anchor="end" stroke="#000" stroke-width="0.22" font-size="10.45" transform="rotate(-90 560.3 457)">Ovarian</text>
<rect x="563.22" y="448.8" width="7.5" height="3.4" fill="#f8eec0"/>
<rect x="563.22" y="432.6" width="7.5" height="16.2" fill="#f8454a"/>
<rect x="563.22" y="417" width="7.5" height="15.6" fill="#9b939f"/>
<text x="570.72" y="457" text-anchor="end" stroke="#000" stroke-width="0.22" font-size="10.45" transform="rotate(-90 570.72 457)">Cervical</text>
<rect x="573.64" y="435.9" width="7.5" height="16.3" fill="#f8454a"/>
<rect x="573.64" y="417.2" width="7.5" height="18.7" fill="#9b939f"/>
<text x="581.14" y="457" text-anchor="end" stroke="#000" stroke-width="0.22" font-size="10.45" transform="rotate(-90 581.14 457)">Lung adeno</text>
<rect x="584.06" y="420" width="7.5" height="32.2" fill="#f8454a"/>
<text x="591.56" y="457" text-anchor="end" stroke="#000" stroke-width="0.22" font-size="10.45" transform="rotate(-90 591.56 457)">Esophagus</text>
<rect x="594.48" y="442.9" width="7.5" height="9.3" fill="#f8454a"/>
<rect x="594.48" y="421" width="7.5" height="21.9" fill="#9b939f"/>
<text x="601.98" y="457" text-anchor="end" stroke="#000" stroke-width="0.22" font-size="10.45" transform="rotate(-90 601.98 457)">Colorectal</text>
<rect x="604.9" y="442.9" width="7.5" height="9.3" fill="#f8454a"/>
<rect x="604.9" y="423.7" width="7.5" height="19.2" fill="#9b939f"/>
<text x="612.4" y="457" text-anchor="end" stroke="#000" stroke-width="0.22" font-size="10.45" transform="rotate(-90 612.4 457)">Lung squ</text>
<rect x="615.32" y="450.2" width="7.5" height="2" fill="#1a9a9a"/>
<rect x="615.32" y="448" width="7.5" height="2.2" fill="#263a66"/>
<rect x="615.32" y="430" width="7.5" height="18" fill="#9b939f"/>
<text x="622.82" y="457" text-anchor="end" stroke="#000" stroke-width="0.22" font-size="10.45" transform="rotate(-90 622.82 457)">Head &amp; neck</text>
<rect x="625.74" y="436.7" width="7.5" height="15.5" fill="#f8454a"/>
<rect x="625.74" y="432" width="7.5" height="4.7" fill="#9b939f"/>
<text x="633.24" y="457" text-anchor="end" stroke="#000" stroke-width="0.22" font-size="10.45" transform="rotate(-90 633.24 457)">LGG</text>
<rect x="636.16" y="433.2" width="7.5" height="19" fill="#f8454a"/>
<text x="643.66" y="457" text-anchor="end" stroke="#000" stroke-width="0.22" font-size="10.45" transform="rotate(-90 643.66 457)">Thymoma</text>
<rect x="646.58" y="437.5" width="7.5" height="14.7" fill="#f8454a"/>
<text x="654.08" y="457" text-anchor="end" stroke="#000" stroke-width="0.22" font-size="10.45" transform="rotate(-90 654.08 457)">Uveal melanoma</text>
<rect x="657" y="448" width="7.5" height="4.2" fill="#1a9a9a"/>
<rect x="657" y="438.6" width="7.5" height="9.4" fill="#f8454a"/>
<text x="664.5" y="457" text-anchor="end" stroke="#000" stroke-width="0.22" font-size="10.45" transform="rotate(-90 664.5 457)">Sarcoma</text>
<rect x="667.42" y="439.4" width="7.5" height="12.8" fill="#f8454a"/>
<text x="674.92" y="457" text-anchor="end" stroke="#000" stroke-width="0.22" font-size="10.45" transform="rotate(-90 674.92 457)">PCPG</text>
<circle cx="500" cy="361" r="2.6" fill="#f8454a"/>
<text x="505.8" y="364.5" stroke="#000" stroke-width="0.22" font-size="9.8">Amplification</text>
<circle cx="500" cy="372.4" r="2.6" fill="#9b939f"/>
<text x="505.8" y="375.9" stroke="#000" stroke-width="0.22" font-size="9.8">Mutation</text>
<circle cx="582.4" cy="360.5" r="2.6" fill="#263a66"/>
<text x="590.8" y="364" stroke="#000" stroke-width="0.22" font-size="9.8">Fusion</text>
<circle cx="582.4" cy="371.9" r="2.6" fill="#f8eec0"/>
<text x="590.8" y="375.4" stroke="#000" stroke-width="0.22" font-size="9.8">Deep Deletion</text>
<circle cx="582.4" cy="383.5" r="2.6" fill="#1a9a9a"/>
<text x="590.8" y="387" stroke="#000" stroke-width="0.22" font-size="9.8">Multiple Alterations</text>
<text x="-0.6" y="526.8" font-weight="bold" font-size="15" stroke="#000" stroke-width="0.9">g</text>
<line x1="68.6" y1="541.2" x2="68.6" y2="625.2" stroke="#8a8a8a" stroke-width="1"/>
<line x1="68.6" y1="625.2" x2="148" y2="625.2" stroke="#8a8a8a" stroke-width="1"/>
<line x1="66.4" y1="625.1" x2="68.6" y2="625.1" stroke="#000" stroke-width="0.6"/>
<text x="65.2" y="628.7" text-anchor="end" stroke="#000" stroke-width="0.22">-10</text>
<line x1="67.3" y1="614.65" x2="68.6" y2="614.65" stroke="#000" stroke-width="0.6"/>
<line x1="66.4" y1="604.2" x2="68.6" y2="604.2" stroke="#000" stroke-width="0.6"/>
<text x="65.2" y="607.8" text-anchor="end" stroke="#000" stroke-width="0.22">0.0</text>
<line x1="67.3" y1="593.75" x2="68.6" y2="593.75" stroke="#000" stroke-width="0.6"/>
<line x1="66.4" y1="583.3" x2="68.6" y2="583.3" stroke="#000" stroke-width="0.6"/>
<text x="65.2" y="586.9" text-anchor="end" stroke="#000" stroke-width="0.22">10</text>
<line x1="67.3" y1="572.85" x2="68.6" y2="572.85" stroke="#000" stroke-width="0.6"/>
<line x1="66.4" y1="562.4" x2="68.6" y2="562.4" stroke="#000" stroke-width="0.6"/>
<text x="65.2" y="566" text-anchor="end" stroke="#000" stroke-width="0.22">20</text>
<line x1="67.3" y1="551.95" x2="68.6" y2="551.95" stroke="#000" stroke-width="0.6"/>
<line x1="66.4" y1="541.5" x2="68.6" y2="541.5" stroke="#000" stroke-width="0.6"/>
<text x="65.2" y="545.1" text-anchor="end" stroke="#000" stroke-width="0.22">30</text>
<text x="36.2" y="580.1" text-anchor="middle" stroke="#000" stroke-width="0.22" font-size="10.6" transform="rotate(-90 36.2 580.1)">mRNA expression</text>
<text x="47" y="578.7" text-anchor="middle" stroke="#000" stroke-width="0.22" font-size="10.8" transform="rotate(-90 47 578.7)">z-Scores</text>
<circle cx="82.29" cy="608.05" r="1.25" fill="rgba(23,151,155,0.35)" stroke="#17979b" stroke-width="0.6" stroke-opacity="0.85"/>
<circle cx="79.44" cy="610.5" r="1.25" fill="rgba(23,151,155,0.35)" stroke="#17979b" stroke-width="0.6" stroke-opacity="0.85"/>
<circle cx="79.48" cy="607.34" r="1.25" fill="rgba(23,151,155,0.35)" stroke="#17979b" stroke-width="0.6" stroke-opacity="0.85"/>
<circle cx="80.57" cy="605.55" r="1.25" fill="rgba(23,151,155,0.35)" stroke="#17979b" stroke-width="0.6" stroke-opacity="0.85"/>
<circle cx="82.56" cy="607.94" r="1.25" fill="rgba(23,151,155,0.35)" stroke="#17979b" stroke-width="0.6" stroke-opacity="0.85"/>
<circle cx="76.04" cy="610.5" r="1.25" fill="rgba(23,151,155,0.35)" stroke="#17979b" stroke-width="0.6" stroke-opacity="0.85"/>
<circle cx="76.78" cy="600" r="1.25" fill="rgba(23,151,155,0.35)" stroke="#17979b" stroke-width="0.6" stroke-opacity="0.85"/>
<circle cx="83.67" cy="606.36" r="1.25" fill="rgba(23,151,155,0.35)" stroke="#17979b" stroke-width="0.6" stroke-opacity="0.85"/>
<circle cx="76.73" cy="602.48" r="1.25" fill="rgba(23,151,155,0.35)" stroke="#17979b" stroke-width="0.6" stroke-opacity="0.85"/>
<circle cx="84.65" cy="605.34" r="1.25" fill="rgba(23,151,155,0.35)" stroke="#17979b" stroke-width="0.6" stroke-opacity="0.85"/>
<circle cx="76.12" cy="607.85" r="1.25" fill="rgba(23,151,155,0.35)" stroke="#17979b" stroke-width="0.6" stroke-opacity="0.85"/>
<circle cx="80.87" cy="604.45" r="1.25" fill="rgba(23,151,155,0.35)" stroke="#17979b" stroke-width="0.6" stroke-opacity="0.85"/>
<circle cx="83.11" cy="605.12" r="1.25" fill="rgba(23,151,155,0.35)" stroke="#17979b" stroke-width="0.6" stroke-opacity="0.85"/>
<circle cx="79.6" cy="603.37" r="1.25" fill="rgba(23,151,155,0.35)" stroke="#17979b" stroke-width="0.6" stroke-opacity="0.85"/>
<circle cx="82.4" cy="605.45" r="1.25" fill="rgba(23,151,155,0.35)" stroke="#17979b" stroke-width="0.6" stroke-opacity="0.85"/>
<circle cx="82.79" cy="606.43" r="1.25" fill="rgba(23,151,155,0.35)" stroke="#17979b" stroke-width="0.6" stroke-opacity="0.85"/>
<circle cx="76.48" cy="607.11" r="1.25" fill="rgba(23,151,155,0.35)" stroke="#17979b" stroke-width="0.6" stroke-opacity="0.85"/>
<circle cx="82.46" cy="606.23" r="1.25" fill="rgba(23,151,155,0.35)" stroke="#17979b" stroke-width="0.6" stroke-opacity="0.85"/>
<circle cx="80.06" cy="604.93" r="1.25" fill="rgba(23,151,155,0.35)" stroke="#17979b" stroke-width="0.6" stroke-opacity="0.85"/>
<circle cx="82.38" cy="603.19" r="1.25" fill="rgba(23,151,155,0.35)" stroke="#17979b" stroke-width="0.6" stroke-opacity="0.85"/>
<circle cx="75.55" cy="610.5" r="1.25" fill="rgba(23,151,155,0.35)" stroke="#17979b" stroke-width="0.6" stroke-opacity="0.85"/>
<circle cx="84.15" cy="607.74" r="1.25" fill="rgba(23,151,155,0.35)" stroke="#17979b" stroke-width="0.6" stroke-opacity="0.85"/>
<circle cx="77.89" cy="604.13" r="1.25" fill="rgba(23,151,155,0.35)" stroke="#17979b" stroke-width="0.6" stroke-opacity="0.85"/>
<circle cx="76.15" cy="607.27" r="1.25" fill="rgba(23,151,155,0.35)" stroke="#17979b" stroke-width="0.6" stroke-opacity="0.85"/>
<circle cx="84.86" cy="606.74" r="1.25" fill="rgba(23,151,155,0.35)" stroke="#17979b" stroke-width="0.6" stroke-opacity="0.85"/>
<circle cx="77.07" cy="605.23" r="1.25" fill="rgba(23,151,155,0.35)" stroke="#17979b" stroke-width="0.6" stroke-opacity="0.85"/>
<circle cx="75.18" cy="603.67" r="1.25" fill="rgba(23,151,155,0.35)" stroke="#17979b" stroke-width="0.6" stroke-opacity="0.85"/>
<circle cx="79.73" cy="605.15" r="1.25" fill="rgba(23,151,155,0.35)" stroke="#17979b" stroke-width="0.6" stroke-opacity="0.85"/>
<circle cx="81.16" cy="607.42" r="1.25" fill="rgba(23,151,155,0.35)" stroke="#17979b" stroke-width="0.6" stroke-opacity="0.85"/>
<circle cx="79.12" cy="610.5" r="1.25" fill="rgba(23,151,155,0.35)" stroke="#17979b" stroke-width="0.6" stroke-opacity="0.85"/>
<circle cx="78.4" cy="596.6" r="1.25" fill="rgba(23,151,155,0.35)" stroke="#17979b" stroke-width="0.6" stroke-opacity="0.85"/>
<line x1="73.2" y1="606.3" x2="86.4" y2="606.3" stroke="#222" stroke-width="1"/>
<line x1="73.2" y1="601.1" x2="86.4" y2="601.1" stroke="#222" stroke-width="0.9"/>
<line x1="73.2" y1="609.7" x2="86.4" y2="609.7" stroke="#222" stroke-width="0.9"/>
<line x1="79.8" y1="601.1" x2="79.8" y2="609.7" stroke="#222" stroke-width="0.8"/>
<line x1="79.8" y1="625.2" x2="79.8" y2="627.2" stroke="#000" stroke-width="0.6"/>
<circle cx="102.56" cy="609.5" r="1.25" fill="rgba(23,151,155,0.35)" stroke="#17979b" stroke-width="0.6" stroke-opacity="0.85"/>
<circle cx="98.78" cy="600.12" r="1.25" fill="rgba(23,151,155,0.35)" stroke="#17979b" stroke-width="0.6" stroke-opacity="0.85"/>
<circle cx="95.22" cy="605.16" r="1.25" fill="rgba(23,151,155,0.35)" stroke="#17979b" stroke-width="0.6" stroke-opacity="0.85"/>
<circle cx="103.68" cy="607.3" r="1.25" fill="rgba(23,151,155,0.35)" stroke="#17979b" stroke-width="0.6" stroke-opacity="0.85"/>
<circle cx="96.53" cy="605.04" r="1.25" fill="rgba(23,151,155,0.35)" stroke="#17979b" stroke-width="0.6" stroke-opacity="0.85"/>
<circle cx="97.46" cy="605.36" r="1.25" fill="rgba(23,151,155,0.35)" stroke="#17979b" stroke-width="0.6" stroke-opacity="0.85"/>
<circle cx="101.6" cy="602.61" r="1.25" fill="rgba(23,151,155,0.35)" stroke="#17979b" stroke-width="0.6" stroke-opacity="0.85"/>
<circle cx="96.62" cy="599.82" r="1.25" fill="rgba(23,151,155,0.35)" stroke="#17979b" stroke-width="0.6" stroke-opacity="0.85"/>
<circle cx="103.53" cy="603.25" r="1.25" fill="rgba(23,151,155,0.35)" stroke="#17979b" stroke-width="0.6" stroke-opacity="0.85"/>
<circle cx="93.82" cy="601.75" r="1.25" fill="rgba(23,151,155,0.35)" stroke="#17979b" stroke-width="0.6" stroke-opacity="0.85"/>
<circle cx="102.19" cy="606.15" r="1.25" fill="rgba(23,151,155,0.35)" stroke="#17979b" stroke-width="0.6" stroke-opacity="0.85"/>
<circle cx="97.32" cy="601.1" r="1.25" fill="rgba(23,151,155,0.35)" stroke="#17979b" stroke-width="0.6" stroke-opacity="0.85"/>
<circle cx="102.47" cy="605.58" r="1.25" fill="rgba(23,151,155,0.35)" stroke="#17979b" stroke-width="0.6" stroke-opacity="0.85"/>
<circle cx="103.85" cy="601.62" r="1.25" fill="rgba(23,151,155,0.35)" stroke="#17979b" stroke-width="0.6" stroke-opacity="0.85"/>
<circle cx="102.4" cy="602.33" r="1.25" fill="rgba(23,151,155,0.35)" stroke="#17979b" stroke-width="0.6" stroke-opacity="0.85"/>
<circle cx="100.89" cy="604.61" r="1.25" fill="rgba(23,151,155,0.35)" stroke="#17979b" stroke-width="0.6" stroke-opacity="0.85"/>
<circle cx="99.74" cy="606.79" r="1.25" fill="rgba(23,151,155,0.35)" stroke="#17979b" stroke-width="0.6" stroke-opacity="0.85"/>
<circle cx="100.19" cy="598.53" r="1.25" fill="rgba(23,151,155,0.35)" stroke="#17979b" stroke-width="0.6" stroke-opacity="0.85"/>
<circle cx="95.36" cy="604.06" r="1.25" fill="rgba(23,151,155,0.35)" stroke="#17979b" stroke-width="0.6" stroke-opacity="0.85"/>
<circle cx="95.98" cy="603.47" r="1.25" fill="rgba(23,151,155,0.35)" stroke="#17979b" stroke-width="0.6" stroke-opacity="0.85"/>
<circle cx="96.05" cy="607.64" r="1.25" fill="rgba(23,151,155,0.35)" stroke="#17979b" stroke-width="0.6" stroke-opacity="0.85"/>
<circle cx="97" cy="603.12" r="1.25" fill="rgba(23,151,155,0.35)" stroke="#17979b" stroke-width="0.6" stroke-opacity="0.85"/>
<circle cx="97.66" cy="600.17" r="1.25" fill="rgba(23,151,155,0.35)" stroke="#17979b" stroke-width="0.6" stroke-opacity="0.85"/>
<circle cx="96.17" cy="604.98" r="1.25" fill="rgba(23,151,155,0.35)" stroke="#17979b" stroke-width="0.6" stroke-opacity="0.85"/>
<circle cx="97.96" cy="606.67" r="1.25" fill="rgba(23,151,155,0.35)" stroke="#17979b" stroke-width="0.6" stroke-opacity="0.85"/>
<circle cx="97.59" cy="605.63" r="1.25" fill="rgba(23,151,155,0.35)" stroke="#17979b" stroke-width="0.6" stroke-opacity="0.85"/>
<circle cx="97.23" cy="607.48" r="1.25" fill="rgba(23,151,155,0.35)" stroke="#17979b" stroke-width="0.6" stroke-opacity="0.85"/>
<circle cx="102.21" cy="606.42" r="1.25" fill="rgba(23,151,155,0.35)" stroke="#17979b" stroke-width="0.6" stroke-opacity="0.85"/>
<circle cx="95.18" cy="602.3" r="1.25" fill="rgba(23,151,155,0.35)" stroke="#17979b" stroke-width="0.6" stroke-opacity="0.85"/>
<circle cx="103.66" cy="601.84" r="1.25" fill="rgba(23,151,155,0.35)" stroke="#17979b" stroke-width="0.6" stroke-opacity="0.85"/>
<circle cx="93.71" cy="600.24" r="1.25" fill="rgba(23,151,155,0.35)" stroke="#17979b" stroke-width="0.6" stroke-opacity="0.85"/>
<circle cx="100.1" cy="609.5" r="1.25" fill="rgba(23,151,155,0.35)" stroke="#17979b" stroke-width="0.6" stroke-opacity="0.85"/>
<circle cx="98.19" cy="606.58" r="1.25" fill="rgba(23,151,155,0.35)" stroke="#17979b" stroke-width="0.6" stroke-opacity="0.85"/>
<circle cx="103.81" cy="606.46" r="1.25" fill="rgba(23,151,155,0.35)" stroke="#17979b" stroke-width="0.6" stroke-opacity="0.85"/>
<circle cx="96.4" cy="607.84" r="1.25" fill="rgba(23,151,155,0.35)" stroke="#17979b" stroke-width="0.6" stroke-opacity="0.85"/>
<circle cx="98.02" cy="606.76" r="1.25" fill="rgba(23,151,155,0.35)" stroke="#17979b" stroke-width="0.6" stroke-opacity="0.85"/>
<circle cx="98.66" cy="601.61" r="1.25" fill="rgba(23,151,155,0.35)" stroke="#17979b" stroke-width="0.6" stroke-opacity="0.85"/>
<circle cx="98.31" cy="604.33" r="1.25" fill="rgba(23,151,155,0.35)" stroke="#17979b" stroke-width="0.6" stroke-opacity="0.85"/>
<circle cx="99.24" cy="604.44" r="1.25" fill="rgba(23,151,155,0.35)" stroke="#17979b" stroke-width="0.6" stroke-opacity="0.85"/>
<circle cx="101.83" cy="603.74" r="1.25" fill="rgba(23,151,155,0.35)" stroke="#17979b" stroke-width="0.6" stroke-opacity="0.85"/>
<circle cx="97.88" cy="592.4" r="1.25" fill="rgba(23,151,155,0.35)" stroke="#17979b" stroke-width="0.6" stroke-opacity="0.85"/>
<circle cx="97.97" cy="593" r="1.25" fill="rgba(23,151,155,0.35)" stroke="#17979b" stroke-width="0.6" stroke-opacity="0.85"/>
<circle cx="97.52" cy="594.5" r="1.25" fill="rgba(23,151,155,0.35)" stroke="#17979b" stroke-width="0.6" stroke-opacity="0.85"/>
<line x1="92.3" y1="604.2" x2="105.5" y2="604.2" stroke="#222" stroke-width="1"/>
<line x1="92.3" y1="599.4" x2="105.5" y2="599.4" stroke="#222" stroke-width="0.9"/>
<line x1="92.3" y1="608.3" x2="105.5" y2="608.3" stroke="#222" stroke-width="0.9"/>
<line x1="98.9" y1="599.4" x2="98.9" y2="608.3" stroke="#222" stroke-width="0.8"/>
<line x1="98.9" y1="625.2" x2="98.9" y2="627.2" stroke="#000" stroke-width="0.6"/>
<circle cx="118.41" cy="607.5" r="1.25" fill="rgba(238,125,63,0.3)" stroke="#ee7d3f" stroke-width="0.6" stroke-opacity="0.85"/>
<circle cx="112.93" cy="597.01" r="1.25" fill="rgba(238,125,63,0.3)" stroke="#ee7d3f" stroke-width="0.6" stroke-opacity="0.85"/>
<circle cx="114.79" cy="607.5" r="1.25" fill="rgba(238,125,63,0.3)" stroke="#ee7d3f" stroke-width="0.6" stroke-opacity="0.85"/>
<circle cx="115.45" cy="601.89" r="1.25" fill="rgba(238,125,63,0.3)" stroke="#ee7d3f" stroke-width="0.6" stroke-opacity="0.85"/>
<circle cx="116.44" cy="603.73" r="1.25" fill="rgba(238,125,63,0.3)" stroke="#ee7d3f" stroke-width="0.6" stroke-opacity="0.85"/>
<circle cx="117.37" cy="601.1" r="1.25" fill="rgba(238,125,63,0.3)" stroke="#ee7d3f" stroke-width="0.6" stroke-opacity="0.85"/>
<circle cx="119.07" cy="594.87" r="1.25" fill="rgba(238,125,63,0.3)" stroke="#ee7d3f" stroke-width="0.6" stroke-opacity="0.85"/>
<circle cx="121.18" cy="595.48" r="1.25" fill="rgba(238,125,63,0.3)" stroke="#ee7d3f" stroke-width="0.6" stroke-opacity="0.85"/>
<circle cx="114.78" cy="596.99" r="1.25" fill="rgba(238,125,63,0.3)" stroke="#ee7d3f" stroke-width="0.6" stroke-opacity="0.85"/>
<circle cx="120.4" cy="604.75" r="1.25" fill="rgba(238,125,63,0.3)" stroke="#ee7d3f" stroke-width="0.6" stroke-opacity="0.85"/>
<circle cx="121.17" cy="603.61" r="1.25" fill="rgba(238,125,63,0.3)" stroke="#ee7d3f" stroke-width="0.6" stroke-opacity="0.85"/>
<circle cx="117.41" cy="588" r="1.25" fill="rgba(238,125,63,0.3)" stroke="#ee7d3f" stroke-width="0.6" stroke-opacity="0.85"/>
<circle cx="120.14" cy="593.96" r="1.25" fill="rgba(238,125,63,0.3)" stroke="#ee7d3f" stroke-width="0.6" stroke-opacity="0.85"/>
<circle cx="120.22" cy="591.15" r="1.25" fill="rgba(238,125,63,0.3)" stroke="#ee7d3f" stroke-width="0.6" stroke-opacity="0.85"/>
<circle cx="121.88" cy="607.5" r="1.25" fill="rgba(238,125,63,0.3)" stroke="#ee7d3f" stroke-width="0.6" stroke-opacity="0.85"/>
<circle cx="112.21" cy="601.48" r="1.25" fill="rgba(238,125,63,0.3)" stroke="#ee7d3f" stroke-width="0.6" stroke-opacity="0.85"/>
<circle cx="119.11" cy="607.5" r="1.25" fill="rgba(238,125,63,0.3)" stroke="#ee7d3f" stroke-width="0.6" stroke-opacity="0.85"/>
<circle cx="121.25" cy="607.5" r="1.25" fill="rgba(238,125,63,0.3)" stroke="#ee7d3f" stroke-width="0.6" stroke-opacity="0.85"/>
<circle cx="118.17" cy="597.95" r="1.25" fill="rgba(238,125,63,0.3)" stroke="#ee7d3f" stroke-width="0.6" stroke-opacity="0.85"/>
<circle cx="115.64" cy="597.74" r="1.25" fill="rgba(238,125,63,0.3)" stroke="#ee7d3f" stroke-width="0.6" stroke-opacity="0.85"/>
<circle cx="120.84" cy="607.5" r="1.25" fill="rgba(238,125,63,0.3)" stroke="#ee7d3f" stroke-width="0.6" stroke-opacity="0.85"/>
<circle cx="114.97" cy="606.59" r="1.25" fill="rgba(238,125,63,0.3)" stroke="#ee7d3f" stroke-width="0.6" stroke-opacity="0.85"/>
<circle cx="112.28" cy="592.78" r="1.25" fill="rgba(238,125,63,0.3)" stroke="#ee7d3f" stroke-width="0.6" stroke-opacity="0.85"/>
<circle cx="118.27" cy="603.36" r="1.25" fill="rgba(238,125,63,0.3)" stroke="#ee7d3f" stroke-width="0.6" stroke-opacity="0.85"/>
<circle cx="114.44" cy="594.25" r="1.25" fill="rgba(238,125,63,0.3)" stroke="#ee7d3f" stroke-width="0.6" stroke-opacity="0.85"/>
<circle cx="119.51" cy="604.25" r="1.25" fill="rgba(238,125,63,0.3)" stroke="#ee7d3f" stroke-width="0.6" stroke-opacity="0.85"/>
<circle cx="119.36" cy="599.51" r="1.25" fill="rgba(238,125,63,0.3)" stroke="#ee7d3f" stroke-width="0.6" stroke-opacity="0.85"/>
<circle cx="118.51" cy="604.72" r="1.25" fill="rgba(238,125,63,0.3)" stroke="#ee7d3f" stroke-width="0.6" stroke-opacity="0.85"/>
<circle cx="117.88" cy="602.3" r="1.25" fill="rgba(238,125,63,0.3)" stroke="#ee7d3f" stroke-width="0.6" stroke-opacity="0.85"/>
<circle cx="116.7" cy="601.59" r="1.25" fill="rgba(238,125,63,0.3)" stroke="#ee7d3f" stroke-width="0.6" stroke-opacity="0.85"/>
<circle cx="112.26" cy="607.5" r="1.25" fill="rgba(238,125,63,0.3)" stroke="#ee7d3f" stroke-width="0.6" stroke-opacity="0.85"/>
<circle cx="118.78" cy="601.66" r="1.25" fill="rgba(238,125,63,0.3)" stroke="#ee7d3f" stroke-width="0.6" stroke-opacity="0.85"/>
<circle cx="120.23" cy="588.08" r="1.25" fill="rgba(238,125,63,0.3)" stroke="#ee7d3f" stroke-width="0.6" stroke-opacity="0.85"/>
<circle cx="115.38" cy="599.13" r="1.25" fill="rgba(238,125,63,0.3)" stroke="#ee7d3f" stroke-width="0.6" stroke-opacity="0.85"/>
<circle cx="115.71" cy="606.16" r="1.25" fill="rgba(238,125,63,0.3)" stroke="#ee7d3f" stroke-width="0.6" stroke-opacity="0.85"/>
<circle cx="118.44" cy="597.5" r="1.25" fill="rgba(238,125,63,0.3)" stroke="#ee7d3f" stroke-width="0.6" stroke-opacity="0.85"/>
<circle cx="117.86" cy="594.27" r="1.25" fill="rgba(238,125,63,0.3)" stroke="#ee7d3f" stroke-width="0.6" stroke-opacity="0.85"/>
<circle cx="115.81" cy="595.82" r="1.25" fill="rgba(238,125,63,0.3)" stroke="#ee7d3f" stroke-width="0.6" stroke-opacity="0.85"/>
<circle cx="120.95" cy="599.6" r="1.25" fill="rgba(238,125,63,0.3)" stroke="#ee7d3f" stroke-width="0.6" stroke-opacity="0.85"/>
<circle cx="111.7" cy="601.55" r="1.25" fill="rgba(238,125,63,0.3)" stroke="#ee7d3f" stroke-width="0.6" stroke-opacity="0.85"/>
<circle cx="116.54" cy="596.73" r="1.25" fill="rgba(238,125,63,0.3)" stroke="#ee7d3f" stroke-width="0.6" stroke-opacity="0.85"/>
<circle cx="113.35" cy="606.35" r="1.25" fill="rgba(238,125,63,0.3)" stroke="#ee7d3f" stroke-width="0.6" stroke-opacity="0.85"/>
<circle cx="114.34" cy="596.78" r="1.25" fill="rgba(238,125,63,0.3)" stroke="#ee7d3f" stroke-width="0.6" stroke-opacity="0.85"/>
<circle cx="114.69" cy="603.59" r="1.25" fill="rgba(238,125,63,0.3)" stroke="#ee7d3f" stroke-width="0.6" stroke-opacity="0.85"/>
<circle cx="115.54" cy="588" r="1.25" fill="rgba(238,125,63,0.3)" stroke="#ee7d3f" stroke-width="0.6" stroke-opacity="0.85"/>
<circle cx="118.71" cy="602.4" r="1.25" fill="rgba(238,125,63,0.3)" stroke="#ee7d3f" stroke-width="0.6" stroke-opacity="0.85"/>
<circle cx="114.73" cy="605.36" r="1.25" fill="rgba(238,125,63,0.3)" stroke="#ee7d3f" stroke-width="0.6" stroke-opacity="0.85"/>
<circle cx="113.4" cy="604.93" r="1.25" fill="rgba(238,125,63,0.3)" stroke="#ee7d3f" stroke-width="0.6" stroke-opacity="0.85"/>
<circle cx="115.87" cy="599.89" r="1.25" fill="rgba(238,125,63,0.3)" stroke="#ee7d3f" stroke-width="0.6" stroke-opacity="0.85"/>
<circle cx="114.94" cy="596.94" r="1.25" fill="rgba(238,125,63,0.3)" stroke="#ee7d3f" stroke-width="0.6" stroke-opacity="0.85"/>
<circle cx="113.4" cy="601.78" r="1.25" fill="rgba(238,125,63,0.3)" stroke="#ee7d3f" stroke-width="0.6" stroke-opacity="0.85"/>
<circle cx="121.48" cy="593" r="1.25" fill="rgba(238,125,63,0.3)" stroke="#ee7d3f" stroke-width="0.6" stroke-opacity="0.85"/>
<circle cx="112.33" cy="599.37" r="1.25" fill="rgba(238,125,63,0.3)" stroke="#ee7d3f" stroke-width="0.6" stroke-opacity="0.85"/>
<circle cx="112.17" cy="600.44" r="1.25" fill="rgba(238,125,63,0.3)" stroke="#ee7d3f" stroke-width="0.6" stroke-opacity="0.85"/>
<circle cx="112.68" cy="596.05" r="1.25" fill="rgba(238,125,63,0.3)" stroke="#ee7d3f" stroke-width="0.6" stroke-opacity="0.85"/>
<circle cx="116.81" cy="599.79" r="1.25" fill="rgba(238,125,63,0.3)" stroke="#ee7d3f" stroke-width="0.6" stroke-opacity="0.85"/>
<circle cx="115.83" cy="600.19" r="1.25" fill="rgba(238,125,63,0.3)" stroke="#ee7d3f" stroke-width="0.6" stroke-opacity="0.85"/>
<circle cx="115.94" cy="597.6" r="1.25" fill="rgba(238,125,63,0.3)" stroke="#ee7d3f" stroke-width="0.6" stroke-opacity="0.85"/>
<circle cx="113.57" cy="588" r="1.25" fill="rgba(238,125,63,0.3)" stroke="#ee7d3f" stroke-width="0.6" stroke-opacity="0.85"/>
<circle cx="117.23" cy="595.06" r="1.25" fill="rgba(238,125,63,0.3)" stroke="#ee7d3f" stroke-width="0.6" stroke-opacity="0.85"/>
<circle cx="115.24" cy="583.4" r="1.25" fill="rgba(238,125,63,0.3)" stroke="#ee7d3f" stroke-width="0.6" stroke-opacity="0.85"/>
<circle cx="116.16" cy="574" r="1.25" fill="rgba(238,125,63,0.3)" stroke="#ee7d3f" stroke-width="0.6" stroke-opacity="0.85"/>
<circle cx="115.33" cy="586" r="1.25" fill="rgba(238,125,63,0.3)" stroke="#ee7d3f" stroke-width="0.6" stroke-opacity="0.85"/>
<line x1="110.3" y1="600.3" x2="123.5" y2="600.3" stroke="#222" stroke-width="1"/>
<line x1="110.3" y1="589.4" x2="123.5" y2="589.4" stroke="#222" stroke-width="0.9"/>
<line x1="110.3" y1="606.3" x2="123.5" y2="606.3" stroke="#222" stroke-width="0.9"/>
<line x1="116.9" y1="589.4" x2="116.9" y2="606.3" stroke="#222" stroke-width="0.8"/>
<line x1="116.9" y1="625.2" x2="116.9" y2="627.2" stroke="#000" stroke-width="0.6"/>
<circle cx="132.23" cy="573.33" r="1.25" fill="rgba(238,125,63,0.3)" stroke="#ee7d3f" stroke-width="0.6" stroke-opacity="0.85"/>
<circle cx="135.06" cy="577.98" r="1.25" fill="rgba(238,125,63,0.3)" stroke="#ee7d3f" stroke-width="0.6" stroke-opacity="0.85"/>
<circle cx="139.5" cy="603" r="1.25" fill="rgba(238,125,63,0.3)" stroke="#ee7d3f" stroke-width="0.6" stroke-opacity="0.85"/>
<circle cx="138.59" cy="603" r="1.25" fill="rgba(238,125,63,0.3)" stroke="#ee7d3f" stroke-width="0.6" stroke-opacity="0.85"/>
<circle cx="138.03" cy="592.3" r="1.25" fill="rgba(238,125,63,0.3)" stroke="#ee7d3f" stroke-width="0.6" stroke-opacity="0.85"/>
<circle cx="131.35" cy="582.29" r="1.25" fill="rgba(238,125,63,0.3)" stroke="#ee7d3f" stroke-width="0.6" stroke-opacity="0.85"/>
<circle cx="136" cy="573.04" r="1.25" fill="rgba(238,125,63,0.3)" stroke="#ee7d3f" stroke-width="0.6" stroke-opacity="0.85"/>
<circle cx="137.29" cy="579.82" r="1.25" fill="rgba(238,125,63,0.3)" stroke="#ee7d3f" stroke-width="0.6" stroke-opacity="0.85"/>
<circle cx="131.02" cy="593.29" r="1.25" fill="rgba(238,125,63,0.3)" stroke="#ee7d3f" stroke-width="0.6" stroke-opacity="0.85"/>
<circle cx="137.82" cy="572.5" r="1.25" fill="rgba(238,125,63,0.3)" stroke="#ee7d3f" stroke-width="0.6" stroke-opacity="0.85"/>
<circle cx="135.98" cy="579.83" r="1.25" fill="rgba(238,125,63,0.3)" stroke="#ee7d3f" stroke-width="0.6" stroke-opacity="0.85"/>
<circle cx="136.82" cy="575.49" r="1.25" fill="rgba(238,125,63,0.3)" stroke="#ee7d3f" stroke-width="0.6" stroke-opacity="0.85"/>
<circle cx="138.45" cy="587.02" r="1.25" fill="rgba(238,125,63,0.3)" stroke="#ee7d3f" stroke-width="0.6" stroke-opacity="0.85"/>
<circle cx="130.69" cy="602.89" r="1.25" fill="rgba(238,125,63,0.3)" stroke="#ee7d3f" stroke-width="0.6" stroke-opacity="0.85"/>
<circle cx="130.66" cy="596" r="1.25" fill="rgba(238,125,63,0.3)" stroke="#ee7d3f" stroke-width="0.6" stroke-opacity="0.85"/>
<circle cx="130.29" cy="582.07" r="1.25" fill="rgba(238,125,63,0.3)" stroke="#ee7d3f" stroke-width="0.6" stroke-opacity="0.85"/>
<circle cx="139.87" cy="603" r="1.25" fill="rgba(238,125,63,0.3)" stroke="#ee7d3f" stroke-width="0.6" stroke-opacity="0.85"/>
<circle cx="134.46" cy="566" r="1.25" fill="rgba(238,125,63,0.3)" stroke="#ee7d3f" stroke-width="0.6" stroke-opacity="0.85"/>
<circle cx="138.6" cy="566" r="1.25" fill="rgba(238,125,63,0.3)" stroke="#ee7d3f" stroke-width="0.6" stroke-opacity="0.85"/>
<circle cx="135.52" cy="587.54" r="1.25" fill="rgba(238,125,63,0.3)" stroke="#ee7d3f" stroke-width="0.6" stroke-opacity="0.85"/>
<circle cx="138.27" cy="567.12" r="1.25" fill="rgba(238,125,63,0.3)" stroke="#ee7d3f" stroke-width="0.6" stroke-opacity="0.85"/>
<circle cx="139.52" cy="575.36" r="1.25" fill="rgba(238,125,63,0.3)" stroke="#ee7d3f" stroke-width="0.6" stroke-opacity="0.85"/>
<circle cx="139.74" cy="603" r="1.25" fill="rgba(238,125,63,0.3)" stroke="#ee7d3f" stroke-width="0.6" stroke-opacity="0.85"/>
<circle cx="136.2" cy="595.55" r="1.25" fill="rgba(238,125,63,0.3)" stroke="#ee7d3f" stroke-width="0.6" stroke-opacity="0.85"/>
<circle cx="140.17" cy="586.53" r="1.25" fill="rgba(238,125,63,0.3)" stroke="#ee7d3f" stroke-width="0.6" stroke-opacity="0.85"/>
<circle cx="135.01" cy="590.99" r="1.25" fill="rgba(238,125,63,0.3)" stroke="#ee7d3f" stroke-width="0.6" stroke-opacity="0.85"/>
<circle cx="132.09" cy="586.31" r="1.25" fill="rgba(238,125,63,0.3)" stroke="#ee7d3f" stroke-width="0.6" stroke-opacity="0.85"/>
<circle cx="137.81" cy="575.3" r="1.25" fill="rgba(238,125,63,0.3)" stroke="#ee7d3f" stroke-width="0.6" stroke-opacity="0.85"/>
<circle cx="138.74" cy="588.84" r="1.25" fill="rgba(238,125,63,0.3)" stroke="#ee7d3f" stroke-width="0.6" stroke-opacity="0.85"/>
<circle cx="134.17" cy="603" r="1.25" fill="rgba(238,125,63,0.3)" stroke="#ee7d3f" stroke-width="0.6" stroke-opacity="0.85"/>
<circle cx="131.76" cy="586.63" r="1.25" fill="rgba(238,125,63,0.3)" stroke="#ee7d3f" stroke-width="0.6" stroke-opacity="0.85"/>
<circle cx="139.36" cy="589.57" r="1.25" fill="rgba(238,125,63,0.3)" stroke="#ee7d3f" stroke-width="0.6" stroke-opacity="0.85"/>
<circle cx="138.98" cy="582.6" r="1.25" fill="rgba(238,125,63,0.3)" stroke="#ee7d3f" stroke-width="0.6" stroke-opacity="0.85"/>
<circle cx="133.91" cy="602.94" r="1.25" fill="rgba(238,125,63,0.3)" stroke="#ee7d3f" stroke-width="0.6" stroke-opacity="0.85"/>
<circle cx="134.05" cy="583.93" r="1.25" fill="rgba(238,125,63,0.3)" stroke="#ee7d3f" stroke-width="0.6" stroke-opacity="0.85"/>
<circle cx="133.25" cy="595.33" r="1.25" fill="rgba(238,125,63,0.3)" stroke="#ee7d3f" stroke-width="0.6" stroke-opacity="0.85"/>
<circle cx="140.22" cy="594.63" r="1.25" fill="rgba(238,125,63,0.3)" stroke="#ee7d3f" stroke-width="0.6" stroke-opacity="0.85"/>
<circle cx="137.21" cy="579.74" r="1.25" fill="rgba(238,125,63,0.3)" stroke="#ee7d3f" stroke-width="0.6" stroke-opacity="0.85"/>
<circle cx="136.17" cy="592.26" r="1.25" fill="rgba(238,125,63,0.3)" stroke="#ee7d3f" stroke-width="0.6" stroke-opacity="0.85"/>
<circle cx="132.96" cy="580.35" r="1.25" fill="rgba(238,125,63,0.3)" stroke="#ee7d3f" stroke-width="0.6" stroke-opacity="0.85"/>
<circle cx="137.9" cy="603" r="1.25" fill="rgba(238,125,63,0.3)" stroke="#ee7d3f" stroke-width="0.6" stroke-opacity="0.85"/>
<circle cx="139.66" cy="570.81" r="1.25" fill="rgba(238,125,63,0.3)" stroke="#ee7d3f" stroke-width="0.6" stroke-opacity="0.85"/>
<circle cx="136.97" cy="603" r="1.25" fill="rgba(238,125,63,0.3)" stroke="#ee7d3f" stroke-width="0.6" stroke-opacity="0.85"/>
<circle cx="137.15" cy="596.72" r="1.25" fill="rgba(238,125,63,0.3)" stroke="#ee7d3f" stroke-width="0.6" stroke-opacity="0.85"/>
<circle cx="135.37" cy="584.15" r="1.25" fill="rgba(238,125,63,0.3)" stroke="#ee7d3f" stroke-width="0.6" stroke-opacity="0.85"/>
<circle cx="140.14" cy="597.28" r="1.25" fill="rgba(238,125,63,0.3)" stroke="#ee7d3f" stroke-width="0.6" stroke-opacity="0.85"/>
<circle cx="131.85" cy="571.58" r="1.25" fill="rgba(238,125,63,0.3)" stroke="#ee7d3f" stroke-width="0.6" stroke-opacity="0.85"/>
<circle cx="139.47" cy="589.58" r="1.25" fill="rgba(238,125,63,0.3)" stroke="#ee7d3f" stroke-width="0.6" stroke-opacity="0.85"/>
<circle cx="135.76" cy="568.18" r="1.25" fill="rgba(238,125,63,0.3)" stroke="#ee7d3f" stroke-width="0.6" stroke-opacity="0.85"/>
<circle cx="139.22" cy="572.09" r="1.25" fill="rgba(238,125,63,0.3)" stroke="#ee7d3f" stroke-width="0.6" stroke-opacity="0.85"/>
<circle cx="139.33" cy="592.17" r="1.25" fill="rgba(238,125,63,0.3)" stroke="#ee7d3f" stroke-width="0.6" stroke-opacity="0.85"/>
<circle cx="137.97" cy="603" r="1.25" fill="rgba(238,125,63,0.3)" stroke="#ee7d3f" stroke-width="0.6" stroke-opacity="0.85"/>
<circle cx="139.14" cy="603" r="1.25" fill="rgba(238,125,63,0.3)" stroke="#ee7d3f" stroke-width="0.6" stroke-opacity="0.85"/>
<circle cx="134.42" cy="602.98" r="1.25" fill="rgba(238,125,63,0.3)" stroke="#ee7d3f" stroke-width="0.6" stroke-opacity="0.85"/>
<circle cx="136.3" cy="586.78" r="1.25" fill="rgba(238,125,63,0.3)" stroke="#ee7d3f" stroke-width="0.6" stroke-opacity="0.85"/>
<circle cx="130.32" cy="575.63" r="1.25" fill="rgba(238,125,63,0.3)" stroke="#ee7d3f" stroke-width="0.6" stroke-opacity="0.85"/>
<circle cx="131.98" cy="584.33" r="1.25" fill="rgba(238,125,63,0.3)" stroke="#ee7d3f" stroke-width="0.6" stroke-opacity="0.85"/>
<circle cx="137.18" cy="585.54" r="1.25" fill="rgba(238,125,63,0.3)" stroke="#ee7d3f" stroke-width="0.6" stroke-opacity="0.85"/>
<circle cx="139.95" cy="603" r="1.25" fill="rgba(238,125,63,0.3)" stroke="#ee7d3f" stroke-width="0.6" stroke-opacity="0.85"/>
<circle cx="136.71" cy="591.22" r="1.25" fill="rgba(238,125,63,0.3)" stroke="#ee7d3f" stroke-width="0.6" stroke-opacity="0.85"/>
<circle cx="134.96" cy="600.67" r="1.25" fill="rgba(238,125,63,0.3)" stroke="#ee7d3f" stroke-width="0.6" stroke-opacity="0.85"/>
<circle cx="131.63" cy="603" r="1.25" fill="rgba(238,125,63,0.3)" stroke="#ee7d3f" stroke-width="0.6" stroke-opacity="0.85"/>
<circle cx="137.88" cy="595.7" r="1.25" fill="rgba(238,125,63,0.3)" stroke="#ee7d3f" stroke-width="0.6" stroke-opacity="0.85"/>
<circle cx="138.36" cy="586.27" r="1.25" fill="rgba(238,125,63,0.3)" stroke="#ee7d3f" stroke-width="0.6" stroke-opacity="0.85"/>
<circle cx="140.04" cy="602.9" r="1.25" fill="rgba(238,125,63,0.3)" stroke="#ee7d3f" stroke-width="0.6" stroke-opacity="0.85"/>
<circle cx="130.67" cy="596.12" r="1.25" fill="rgba(238,125,63,0.3)" stroke="#ee7d3f" stroke-width="0.6" stroke-opacity="0.85"/>
<circle cx="137.73" cy="603" r="1.25" fill="rgba(238,125,63,0.3)" stroke="#ee7d3f" stroke-width="0.6" stroke-opacity="0.85"/>
<circle cx="135.65" cy="582.45" r="1.25" fill="rgba(238,125,63,0.3)" stroke="#ee7d3f" stroke-width="0.6" stroke-opacity="0.85"/>
<circle cx="137.11" cy="603" r="1.25" fill="rgba(238,125,63,0.3)" stroke="#ee7d3f" stroke-width="0.6" stroke-opacity="0.85"/>
<circle cx="139.83" cy="583.85" r="1.25" fill="rgba(238,125,63,0.3)" stroke="#ee7d3f" stroke-width="0.6" stroke-opacity="0.85"/>
<circle cx="131.22" cy="587.9" r="1.25" fill="rgba(238,125,63,0.3)" stroke="#ee7d3f" stroke-width="0.6" stroke-opacity="0.85"/>
<circle cx="137.67" cy="603" r="1.25" fill="rgba(238,125,63,0.3)" stroke="#ee7d3f" stroke-width="0.6" stroke-opacity="0.85"/>
<circle cx="137.25" cy="594.71" r="1.25" fill="rgba(238,125,63,0.3)" stroke="#ee7d3f" stroke-width="0.6" stroke-opacity="0.85"/>
<circle cx="133.08" cy="600.77" r="1.25" fill="rgba(238,125,63,0.3)" stroke="#ee7d3f" stroke-width="0.6" stroke-opacity="0.85"/>
<circle cx="134.38" cy="586.21" r="1.25" fill="rgba(238,125,63,0.3)" stroke="#ee7d3f" stroke-width="0.6" stroke-opacity="0.85"/>
<circle cx="130.76" cy="589.01" r="1.25" fill="rgba(238,125,63,0.3)" stroke="#ee7d3f" stroke-width="0.6" stroke-opacity="0.85"/>
<circle cx="135.63" cy="603" r="1.25" fill="rgba(238,125,63,0.3)" stroke="#ee7d3f" stroke-width="0.6" stroke-opacity="0.85"/>
<circle cx="130.95" cy="593.46" r="1.25" fill="rgba(238,125,63,0.3)" stroke="#ee7d3f" stroke-width="0.6" stroke-opacity="0.85"/>
<circle cx="133.75" cy="603" r="1.25" fill="rgba(238,125,63,0.3)" stroke="#ee7d3f" stroke-width="0.6" stroke-opacity="0.85"/>
<circle cx="134.77" cy="588.42" r="1.25" fill="rgba(238,125,63,0.3)" stroke="#ee7d3f" stroke-width="0.6" stroke-opacity="0.85"/>
<circle cx="140.13" cy="596.04" r="1.25" fill="rgba(238,125,63,0.3)" stroke="#ee7d3f" stroke-width="0.6" stroke-opacity="0.85"/>
<circle cx="130.89" cy="585.28" r="1.25" fill="rgba(238,125,63,0.3)" stroke="#ee7d3f" stroke-width="0.6" stroke-opacity="0.85"/>
<circle cx="130.55" cy="584.81" r="1.25" fill="rgba(238,125,63,0.3)" stroke="#ee7d3f" stroke-width="0.6" stroke-opacity="0.85"/>
<circle cx="134.52" cy="578.41" r="1.25" fill="rgba(238,125,63,0.3)" stroke="#ee7d3f" stroke-width="0.6" stroke-opacity="0.85"/>
<circle cx="130.37" cy="580.7" r="1.25" fill="rgba(238,125,63,0.3)" stroke="#ee7d3f" stroke-width="0.6" stroke-opacity="0.85"/>
<circle cx="133.3" cy="561.3" r="1.25" fill="rgba(238,125,63,0.3)" stroke="#ee7d3f" stroke-width="0.6" stroke-opacity="0.85"/>
<circle cx="136.28" cy="557.1" r="1.25" fill="rgba(238,125,63,0.3)" stroke="#ee7d3f" stroke-width="0.6" stroke-opacity="0.85"/>
<circle cx="134.85" cy="540.5" r="1.25" fill="rgba(238,125,63,0.3)" stroke="#ee7d3f" stroke-width="0.6" stroke-opacity="0.85"/>
<circle cx="136.7" cy="563.5" r="1.25" fill="rgba(238,125,63,0.3)" stroke="#ee7d3f" stroke-width="0.6" stroke-opacity="0.85"/>
<line x1="128.6" y1="589.4" x2="141.8" y2="589.4" stroke="#222" stroke-width="1"/>
<line x1="128.6" y1="566.1" x2="141.8" y2="566.1" stroke="#222" stroke-width="0.9"/>
<line x1="128.6" y1="602.4" x2="141.8" y2="602.4" stroke="#222" stroke-width="0.9"/>
<line x1="135.2" y1="566.1" x2="135.2" y2="602.4" stroke="#222" stroke-width="0.8"/>
<line x1="135.2" y1="625.2" x2="135.2" y2="627.2" stroke="#000" stroke-width="0.6"/>
<text x="81.6" y="634.2" text-anchor="end" stroke="#000" stroke-width="0.22" font-size="10.8" transform="rotate(-45 81.6 634.2)">Shallow deletion</text>
<text x="100.7" y="634.2" text-anchor="end" stroke="#000" stroke-width="0.22" font-size="10.8" transform="rotate(-45 100.7 634.2)">Diploid</text>
<text x="118.7" y="634.2" text-anchor="end" stroke="#000" stroke-width="0.22" font-size="10.8" transform="rotate(-45 118.7 634.2)">Gain</text>
<text x="137" y="634.2" text-anchor="end" stroke="#000" stroke-width="0.22" font-size="10.8" transform="rotate(-45 137 634.2)">Amplification</text>
<text x="163" y="526.6" font-weight="bold" font-size="15" stroke="#000" stroke-width="0.9">h</text>
<line x1="203.2" y1="550.5" x2="203.2" y2="641.8" stroke="#9a9a9a" stroke-width="1.1"/>
<line x1="203.2" y1="641.8" x2="290" y2="641.8" stroke="#9a9a9a" stroke-width="1.1"/>
<line x1="200.9" y1="641.8" x2="203.2" y2="641.8" stroke="#9a9a9a" stroke-width="0.7"/>
<text x="199.8" y="645.25" text-anchor="end" stroke="#000" stroke-width="0.22" font-size="9.7">0</text>
<line x1="200.9" y1="620" x2="203.2" y2="620" stroke="#9a9a9a" stroke-width="0.7"/>
<text x="199.8" y="623.45" text-anchor="end" stroke="#000" stroke-width="0.22" font-size="9.7">25</text>
<line x1="200.9" y1="598.2" x2="203.2" y2="598.2" stroke="#9a9a9a" stroke-width="0.7"/>
<text x="199.8" y="601.65" text-anchor="end" stroke="#000" stroke-width="0.22" font-size="9.7">50</text>
<line x1="200.9" y1="576.4" x2="203.2" y2="576.4" stroke="#9a9a9a" stroke-width="0.7"/>
<text x="199.8" y="579.85" text-anchor="end" stroke="#000" stroke-width="0.22" font-size="9.7">75</text>
<line x1="200.9" y1="554.6" x2="203.2" y2="554.6" stroke="#9a9a9a" stroke-width="0.7"/>
<text x="199.8" y="558.05" text-anchor="end" stroke="#000" stroke-width="0.22" font-size="9.7">100</text>
<line x1="201.9" y1="630.9" x2="203.2" y2="630.9" stroke="#9a9a9a" stroke-width="0.6"/>
<line x1="201.9" y1="609.1" x2="203.2" y2="609.1" stroke="#9a9a9a" stroke-width="0.6"/>
<line x1="201.9" y1="587.3" x2="203.2" y2="587.3" stroke="#9a9a9a" stroke-width="0.6"/>
<line x1="201.9" y1="565.5" x2="203.2" y2="565.5" stroke="#9a9a9a" stroke-width="0.6"/>
<line x1="203.2" y1="641.8" x2="203.2" y2="644.2" stroke="#9a9a9a" stroke-width="0.7"/>
<line x1="211.88" y1="641.8" x2="211.88" y2="643.2" stroke="#9a9a9a" stroke-width="0.7"/>
<line x1="220.56" y1="641.8" x2="220.56" y2="644.2" stroke="#9a9a9a" stroke-width="0.7"/>
<line x1="229.24" y1="641.8" x2="229.24" y2="643.2" stroke="#9a9a9a" stroke-width="0.7"/>
<line x1="237.92" y1="641.8" x2="237.92" y2="644.2" stroke="#9a9a9a" stroke-width="0.7"/>
<line x1="246.6" y1="641.8" x2="246.6" y2="643.2" stroke="#9a9a9a" stroke-width="0.7"/>
<line x1="255.28" y1="641.8" x2="255.28" y2="644.2" stroke="#9a9a9a" stroke-width="0.7"/>
<line x1="263.96" y1="641.8" x2="263.96" y2="643.2" stroke="#9a9a9a" stroke-width="0.7"/>
<line x1="272.64" y1="641.8" x2="272.64" y2="644.2" stroke="#9a9a9a" stroke-width="0.7"/>
<line x1="281.32" y1="641.8" x2="281.32" y2="643.2" stroke="#9a9a9a" stroke-width="0.7"/>
<line x1="290" y1="641.8" x2="290" y2="644.2" stroke="#9a9a9a" stroke-width="0.7"/>
<text x="201.9" y="652.8" text-anchor="middle" stroke="#000" stroke-width="0.22" font-size="8.5">0</text>
<text x="220.56" y="652.8" text-anchor="middle" stroke="#000" stroke-width="0.22" font-size="8.5">50</text>
<text x="237.92" y="652.8" text-anchor="middle" stroke="#000" stroke-width="0.22" font-size="8.5">100</text>
<text x="255.28" y="652.8" text-anchor="middle" stroke="#000" stroke-width="0.22" font-size="8.5">150</text>
<text x="272.64" y="652.8" text-anchor="middle" stroke="#000" stroke-width="0.22" font-size="8.5">200</text>
<text x="290" y="652.8" text-anchor="middle" stroke="#000" stroke-width="0.22" font-size="8.5">250</text>
<text x="250.5" y="664.2" text-anchor="middle" stroke="#000" stroke-width="0.22" font-size="10.4">Time (months)</text>
<text x="182.2" y="596.5" text-anchor="middle" stroke="#000" stroke-width="0.22" font-size="10.4" transform="rotate(-90 182.2 596.5)">Percent survival</text>
<text x="206.6" y="613.1" stroke="#000" stroke-width="0.22" font-size="8">DFS</text>
<text x="206.6" y="626" stroke="#000" stroke-width="0.22" font-size="8">HR = 2.657 (1.722-4.099)</text>
<text x="206.6" y="634.7" stroke="#000" stroke-width="0.22" font-size="8">Log-rank P &lt; 0.0001</text>
<path d="M203.2 554.3 H204.4 V556.2 H206.6 V557.8 H208.8 V559.4 H209.77 V560.87 H210.73 V562.33 H211.7 V563.8 H213.15 V565.25 H214.6 V566.7 H215.57 V567.93 H216.53 V569.17 H217.5 V570.4 H218.24 V571.56 H218.98 V572.72 H219.72 V573.88 H220.46 V575.04 H221.2 V576.2 H224.8 V578.4 H227.75 V579.85 H230.7 V581.3 H231.97 V582.4 H233.25 V583.5 H234.53 V584.6 H235.8 V585.7 H237.23 V586.9 H238.67 V588.1 H240.1 V589.3 H242.7 V590.55 H245.3 V591.8 H249.6 V593.7 H254 V595.9 H278.8" fill="none" stroke="#ee7d3f" stroke-width="0.9"/>
<line x1="204.8" y1="554.9" x2="204.8" y2="556.2" stroke="#ee7d3f" stroke-width="0.5"/>
<line x1="211.13" y1="561.03" x2="211.13" y2="562.33" stroke="#ee7d3f" stroke-width="0.5"/>
<line x1="216.93" y1="567.87" x2="216.93" y2="569.17" stroke="#ee7d3f" stroke-width="0.5"/>
<line x1="217.9" y1="569.1" x2="217.9" y2="570.4" stroke="#ee7d3f" stroke-width="0.5"/>
<line x1="220.12" y1="572.58" x2="220.12" y2="573.88" stroke="#ee7d3f" stroke-width="0.5"/>
<line x1="221.6" y1="574.9" x2="221.6" y2="576.2" stroke="#ee7d3f" stroke-width="0.5"/>
<line x1="225.2" y1="577.1" x2="225.2" y2="578.4" stroke="#ee7d3f" stroke-width="0.5"/>
<line x1="228.15" y1="578.55" x2="228.15" y2="579.85" stroke="#ee7d3f" stroke-width="0.5"/>
<line x1="236.2" y1="584.4" x2="236.2" y2="585.7" stroke="#ee7d3f" stroke-width="0.5"/>
<line x1="237.63" y1="585.6" x2="237.63" y2="586.9" stroke="#ee7d3f" stroke-width="0.5"/>
<line x1="240.5" y1="588" x2="240.5" y2="589.3" stroke="#ee7d3f" stroke-width="0.5"/>
<line x1="250" y1="592.4" x2="250" y2="593.7" stroke="#ee7d3f" stroke-width="0.5"/>
<line x1="254.83" y1="594.6" x2="254.83" y2="595.9" stroke="#ee7d3f" stroke-width="0.5"/>
<line x1="258.13" y1="594.6" x2="258.13" y2="595.9" stroke="#ee7d3f" stroke-width="0.5"/>
<line x1="259.79" y1="594.6" x2="259.79" y2="595.9" stroke="#ee7d3f" stroke-width="0.5"/>
<line x1="261.44" y1="594.6" x2="261.44" y2="595.9" stroke="#ee7d3f" stroke-width="0.5"/>
<line x1="263.09" y1="594.6" x2="263.09" y2="595.9" stroke="#ee7d3f" stroke-width="0.5"/>
<line x1="264.75" y1="594.6" x2="264.75" y2="595.9" stroke="#ee7d3f" stroke-width="0.5"/>
<line x1="266.4" y1="594.6" x2="266.4" y2="595.9" stroke="#ee7d3f" stroke-width="0.5"/>
<line x1="269.71" y1="594.6" x2="269.71" y2="595.9" stroke="#ee7d3f" stroke-width="0.5"/>
<line x1="273.01" y1="594.6" x2="273.01" y2="595.9" stroke="#ee7d3f" stroke-width="0.5"/>
<path d="M203.2 554.3 H206.6 H208.4 V555.4 H210.2 V556.5 H211.65 V557.6 H213.1 V558.7 H220.4 V560.1 H220.7 V561.28 H221 V562.46 H221.3 V563.64 H221.6 V564.82 H221.9 V566 H227 H227.7 V567 H235 V568.5 H242.3 V570.4 H261.3 H262.05 V571.5 H262.8 V572.6 H267.2 V574.3 H269.3 V575.8 H278.8" fill="none" stroke="#17979b" stroke-width="0.9"/>
<line x1="205.75" y1="553" x2="205.75" y2="554.3" stroke="#17979b" stroke-width="0.5"/>
<line x1="210.6" y1="555.2" x2="210.6" y2="556.5" stroke="#17979b" stroke-width="0.5"/>
<line x1="220.8" y1="558.8" x2="220.8" y2="560.1" stroke="#17979b" stroke-width="0.5"/>
<line x1="222.75" y1="564.7" x2="222.75" y2="566" stroke="#17979b" stroke-width="0.5"/>
<line x1="226.15" y1="564.7" x2="226.15" y2="566" stroke="#17979b" stroke-width="0.5"/>
<line x1="228.1" y1="565.7" x2="228.1" y2="567" stroke="#17979b" stroke-width="0.5"/>
<line x1="235.4" y1="567.2" x2="235.4" y2="568.5" stroke="#17979b" stroke-width="0.5"/>
<line x1="244.89" y1="569.1" x2="244.89" y2="570.4" stroke="#17979b" stroke-width="0.5"/>
<line x1="246.62" y1="569.1" x2="246.62" y2="570.4" stroke="#17979b" stroke-width="0.5"/>
<line x1="248.35" y1="569.1" x2="248.35" y2="570.4" stroke="#17979b" stroke-width="0.5"/>
<line x1="251.8" y1="569.1" x2="251.8" y2="570.4" stroke="#17979b" stroke-width="0.5"/>
<line x1="253.53" y1="569.1" x2="253.53" y2="570.4" stroke="#17979b" stroke-width="0.5"/>
<line x1="255.25" y1="569.1" x2="255.25" y2="570.4" stroke="#17979b" stroke-width="0.5"/>
<line x1="256.98" y1="569.1" x2="256.98" y2="570.4" stroke="#17979b" stroke-width="0.5"/>
<line x1="258.71" y1="569.1" x2="258.71" y2="570.4" stroke="#17979b" stroke-width="0.5"/>
<line x1="260.44" y1="569.1" x2="260.44" y2="570.4" stroke="#17979b" stroke-width="0.5"/>
<line x1="262.45" y1="570.2" x2="262.45" y2="571.5" stroke="#17979b" stroke-width="0.5"/>
<line x1="267.6" y1="573" x2="267.6" y2="574.3" stroke="#17979b" stroke-width="0.5"/>
<line x1="270.25" y1="574.5" x2="270.25" y2="575.8" stroke="#17979b" stroke-width="0.5"/>
<line x1="272.15" y1="574.5" x2="272.15" y2="575.8" stroke="#17979b" stroke-width="0.5"/>
<line x1="274.05" y1="574.5" x2="274.05" y2="575.8" stroke="#17979b" stroke-width="0.5"/>
<line x1="240.2" y1="534.9" x2="249.7" y2="534.9" stroke="#17979b" stroke-width="0.9"/>
<line x1="244.95" y1="533.2" x2="244.95" y2="534.9" stroke="#17979b" stroke-width="0.6"/>
<line x1="240.2" y1="547" x2="249.7" y2="547" stroke="#ee7d3f" stroke-width="0.9"/>
<line x1="244.95" y1="545.3" x2="244.95" y2="547" stroke="#ee7d3f" stroke-width="0.6"/>
<text x="252.4" y="537.8" stroke="#000" stroke-width="0.22" font-size="9.4">TLK2</text>
<text x="276.6" y="532.8" stroke="#000" stroke-width="0.22" font-size="8.6">low</text>
<text x="252.4" y="548.5" stroke="#000" stroke-width="0.22" font-size="9.4">TLK2</text>
<text x="276.6" y="543.6" stroke="#000" stroke-width="0.22" font-size="8.6">high</text>
<line x1="329.8" y1="550.5" x2="329.8" y2="641.8" stroke="#9a9a9a" stroke-width="1.1"/>
<line x1="329.8" y1="641.8" x2="416.6" y2="641.8" stroke="#9a9a9a" stroke-width="1.1"/>
<line x1="327.5" y1="641.8" x2="329.8" y2="641.8" stroke="#9a9a9a" stroke-width="0.7"/>
<text x="326.4" y="645.25" text-anchor="end" stroke="#000" stroke-width="0.22" font-size="9.7">0</text>
<line x1="327.5" y1="620" x2="329.8" y2="620" stroke="#9a9a9a" stroke-width="0.7"/>
<text x="326.4" y="623.45" text-anchor="end" stroke="#000" stroke-width="0.22" font-size="9.7">25</text>
<line x1="327.5" y1="598.2" x2="329.8" y2="598.2" stroke="#9a9a9a" stroke-width="0.7"/>
<text x="326.4" y="601.65" text-anchor="end" stroke="#000" stroke-width="0.22" font-size="9.7">50</text>
<line x1="327.5" y1="576.4" x2="329.8" y2="576.4" stroke="#9a9a9a" stroke-width="0.7"/>
<text x="326.4" y="579.85" text-anchor="end" stroke="#000" stroke-width="0.22" font-size="9.7">75</text>
<line x1="327.5" y1="554.6" x2="329.8" y2="554.6" stroke="#9a9a9a" stroke-width="0.7"/>
<text x="326.4" y="558.05" text-anchor="end" stroke="#000" stroke-width="0.22" font-size="9.7">100</text>
<line x1="328.5" y1="630.9" x2="329.8" y2="630.9" stroke="#9a9a9a" stroke-width="0.6"/>
<line x1="328.5" y1="609.1" x2="329.8" y2="609.1" stroke="#9a9a9a" stroke-width="0.6"/>
<line x1="328.5" y1="587.3" x2="329.8" y2="587.3" stroke="#9a9a9a" stroke-width="0.6"/>
<line x1="328.5" y1="565.5" x2="329.8" y2="565.5" stroke="#9a9a9a" stroke-width="0.6"/>
<line x1="329.8" y1="641.8" x2="329.8" y2="644.2" stroke="#9a9a9a" stroke-width="0.7"/>
<line x1="338.48" y1="641.8" x2="338.48" y2="643.2" stroke="#9a9a9a" stroke-width="0.7"/>
<line x1="347.16" y1="641.8" x2="347.16" y2="644.2" stroke="#9a9a9a" stroke-width="0.7"/>
<line x1="355.84" y1="641.8" x2="355.84" y2="643.2" stroke="#9a9a9a" stroke-width="0.7"/>
<line x1="364.52" y1="641.8" x2="364.52" y2="644.2" stroke="#9a9a9a" stroke-width="0.7"/>
<line x1="373.2" y1="641.8" x2="373.2" y2="643.2" stroke="#9a9a9a" stroke-width="0.7"/>
<line x1="381.88" y1="641.8" x2="381.88" y2="644.2" stroke="#9a9a9a" stroke-width="0.7"/>
<line x1="390.56" y1="641.8" x2="390.56" y2="643.2" stroke="#9a9a9a" stroke-width="0.7"/>
<line x1="399.24" y1="641.8" x2="399.24" y2="644.2" stroke="#9a9a9a" stroke-width="0.7"/>
<line x1="407.92" y1="641.8" x2="407.92" y2="643.2" stroke="#9a9a9a" stroke-width="0.7"/>
<line x1="416.6" y1="641.8" x2="416.6" y2="644.2" stroke="#9a9a9a" stroke-width="0.7"/>
<text x="328.5" y="652.8" text-anchor="middle" stroke="#000" stroke-width="0.22" font-size="8.5">0</text>
<text x="347.16" y="652.8" text-anchor="middle" stroke="#000" stroke-width="0.22" font-size="8.5">50</text>
<text x="364.52" y="652.8" text-anchor="middle" stroke="#000" stroke-width="0.22" font-size="8.5">100</text>
<text x="381.88" y="652.8" text-anchor="middle" stroke="#000" stroke-width="0.22" font-size="8.5">150</text>
<text x="399.24" y="652.8" text-anchor="middle" stroke="#000" stroke-width="0.22" font-size="8.5">200</text>
<text x="416.6" y="652.8" text-anchor="middle" stroke="#000" stroke-width="0.22" font-size="8.5">250</text>
<text x="376.7" y="664.2" text-anchor="middle" stroke="#000" stroke-width="0.22" font-size="10.4">Time (months)</text>
<text x="310.8" y="596.5" text-anchor="middle" stroke="#000" stroke-width="0.22" font-size="10.4" transform="rotate(-90 310.8 596.5)">Percent survival</text>
<text x="333.2" y="613.1" stroke="#000" stroke-width="0.22" font-size="8">OS</text>
<text x="333.2" y="626" stroke="#000" stroke-width="0.22" font-size="8">HR = 1.871 (1.233-2.833)</text>
<text x="333.2" y="634.7" stroke="#000" stroke-width="0.22" font-size="8">Log-rank P = 0.0029</text>
<path d="M329.8 554.9 H336 H337.05 V556.5 H338.1 V558.1 H339.6 V559.6 H341.1 V561.1 H342.07 V562.53 H343.03 V563.97 H344 V565.4 H344.97 V566.87 H345.93 V568.33 H346.9 V569.8 H347.87 V571.03 H348.83 V572.27 H349.8 V573.5 H352 V574.95 H354.2 V576.4 H357.1 V577.65 H360 V578.9 H362.2 V580.05 H364.4 V581.2 H366.6 V582.45 H368.8 V583.7 H373.2 V585.9 H376.1 V587 H379 V588.1 H382.65 V589.55 H386.3 V591 H392.2 V592.4 H397.3 V593.2 H398 V595.4 H405.3" fill="none" stroke="#ee7d3f" stroke-width="0.9"/>
<line x1="330.83" y1="553.6" x2="330.83" y2="554.9" stroke="#ee7d3f" stroke-width="0.5"/>
<line x1="332.9" y1="553.6" x2="332.9" y2="554.9" stroke="#ee7d3f" stroke-width="0.5"/>
<line x1="337.45" y1="555.2" x2="337.45" y2="556.5" stroke="#ee7d3f" stroke-width="0.5"/>
<line x1="342.47" y1="561.23" x2="342.47" y2="562.53" stroke="#ee7d3f" stroke-width="0.5"/>
<line x1="352.4" y1="573.65" x2="352.4" y2="574.95" stroke="#ee7d3f" stroke-width="0.5"/>
<line x1="354.6" y1="575.1" x2="354.6" y2="576.4" stroke="#ee7d3f" stroke-width="0.5"/>
<line x1="360.4" y1="577.6" x2="360.4" y2="578.9" stroke="#ee7d3f" stroke-width="0.5"/>
<line x1="383.05" y1="588.25" x2="383.05" y2="589.55" stroke="#ee7d3f" stroke-width="0.5"/>
<line x1="386.7" y1="589.7" x2="386.7" y2="591" stroke="#ee7d3f" stroke-width="0.5"/>
<line x1="397.7" y1="591.9" x2="397.7" y2="593.2" stroke="#ee7d3f" stroke-width="0.5"/>
<line x1="398.4" y1="594.1" x2="398.4" y2="595.4" stroke="#ee7d3f" stroke-width="0.5"/>
<line x1="402.56" y1="594.1" x2="402.56" y2="595.4" stroke="#ee7d3f" stroke-width="0.5"/>
<line x1="404.39" y1="594.1" x2="404.39" y2="595.4" stroke="#ee7d3f" stroke-width="0.5"/>
<path d="M329.8 554.9 H335.2 H337.4 V556 H339.6 V557.4 H340.57 V558.63 H341.53 V559.87 H342.5 V561.1 H345.4 V563.2 H349.8 V564.7 H354.2 V566.2 H357.1 V567.65 H360 V569.1 H365.9 V571.3 H367.35 V572.4 H368.8 V573.5 H377.6 V575.4 H386.3 V576.8 H405.3" fill="none" stroke="#17979b" stroke-width="0.9"/>
<line x1="330.7" y1="553.6" x2="330.7" y2="554.9" stroke="#17979b" stroke-width="0.5"/>
<line x1="332.5" y1="553.6" x2="332.5" y2="554.9" stroke="#17979b" stroke-width="0.5"/>
<line x1="334.3" y1="553.6" x2="334.3" y2="554.9" stroke="#17979b" stroke-width="0.5"/>
<line x1="340" y1="556.1" x2="340" y2="557.4" stroke="#17979b" stroke-width="0.5"/>
<line x1="341.93" y1="558.57" x2="341.93" y2="559.87" stroke="#17979b" stroke-width="0.5"/>
<line x1="342.9" y1="559.8" x2="342.9" y2="561.1" stroke="#17979b" stroke-width="0.5"/>
<line x1="345.8" y1="561.9" x2="345.8" y2="563.2" stroke="#17979b" stroke-width="0.5"/>
<line x1="360.4" y1="567.8" x2="360.4" y2="569.1" stroke="#17979b" stroke-width="0.5"/>
<line x1="366.3" y1="570" x2="366.3" y2="571.3" stroke="#17979b" stroke-width="0.5"/>
<line x1="367.75" y1="571.1" x2="367.75" y2="572.4" stroke="#17979b" stroke-width="0.5"/>
<line x1="369.2" y1="572.2" x2="369.2" y2="573.5" stroke="#17979b" stroke-width="0.5"/>
<line x1="378" y1="574.1" x2="378" y2="575.4" stroke="#17979b" stroke-width="0.5"/>
<line x1="386.7" y1="575.5" x2="386.7" y2="576.8" stroke="#17979b" stroke-width="0.5"/>
<line x1="387.16" y1="575.5" x2="387.16" y2="576.8" stroke="#17979b" stroke-width="0.5"/>
<line x1="388.89" y1="575.5" x2="388.89" y2="576.8" stroke="#17979b" stroke-width="0.5"/>
<line x1="390.62" y1="575.5" x2="390.62" y2="576.8" stroke="#17979b" stroke-width="0.5"/>
<line x1="392.35" y1="575.5" x2="392.35" y2="576.8" stroke="#17979b" stroke-width="0.5"/>
<line x1="394.07" y1="575.5" x2="394.07" y2="576.8" stroke="#17979b" stroke-width="0.5"/>
<line x1="395.8" y1="575.5" x2="395.8" y2="576.8" stroke="#17979b" stroke-width="0.5"/>
<line x1="397.53" y1="575.5" x2="397.53" y2="576.8" stroke="#17979b" stroke-width="0.5"/>
<line x1="400.98" y1="575.5" x2="400.98" y2="576.8" stroke="#17979b" stroke-width="0.5"/>
<line x1="402.71" y1="575.5" x2="402.71" y2="576.8" stroke="#17979b" stroke-width="0.5"/>
<line x1="404.44" y1="575.5" x2="404.44" y2="576.8" stroke="#17979b" stroke-width="0.5"/>
<line x1="366.8" y1="534.9" x2="376.3" y2="534.9" stroke="#17979b" stroke-width="0.9"/>
<line x1="371.55" y1="533.2" x2="371.55" y2="534.9" stroke="#17979b" stroke-width="0.6"/>
<line x1="366.8" y1="547" x2="376.3" y2="547" stroke="#ee7d3f" stroke-width="0.9"/>
<line x1="371.55" y1="545.3" x2="371.55" y2="547" stroke="#ee7d3f" stroke-width="0.6"/>
<text x="379" y="537.8" stroke="#000" stroke-width="0.22" font-size="9.4">TLK2</text>
<text x="403.2" y="532.8" stroke="#000" stroke-width="0.22" font-size="8.6">low</text>
<text x="379" y="548.5" stroke="#000" stroke-width="0.22" font-size="9.4">TLK2</text>
<text x="403.2" y="543.6" stroke="#000" stroke-width="0.22" font-size="8.6">high</text></svg></body></html>
